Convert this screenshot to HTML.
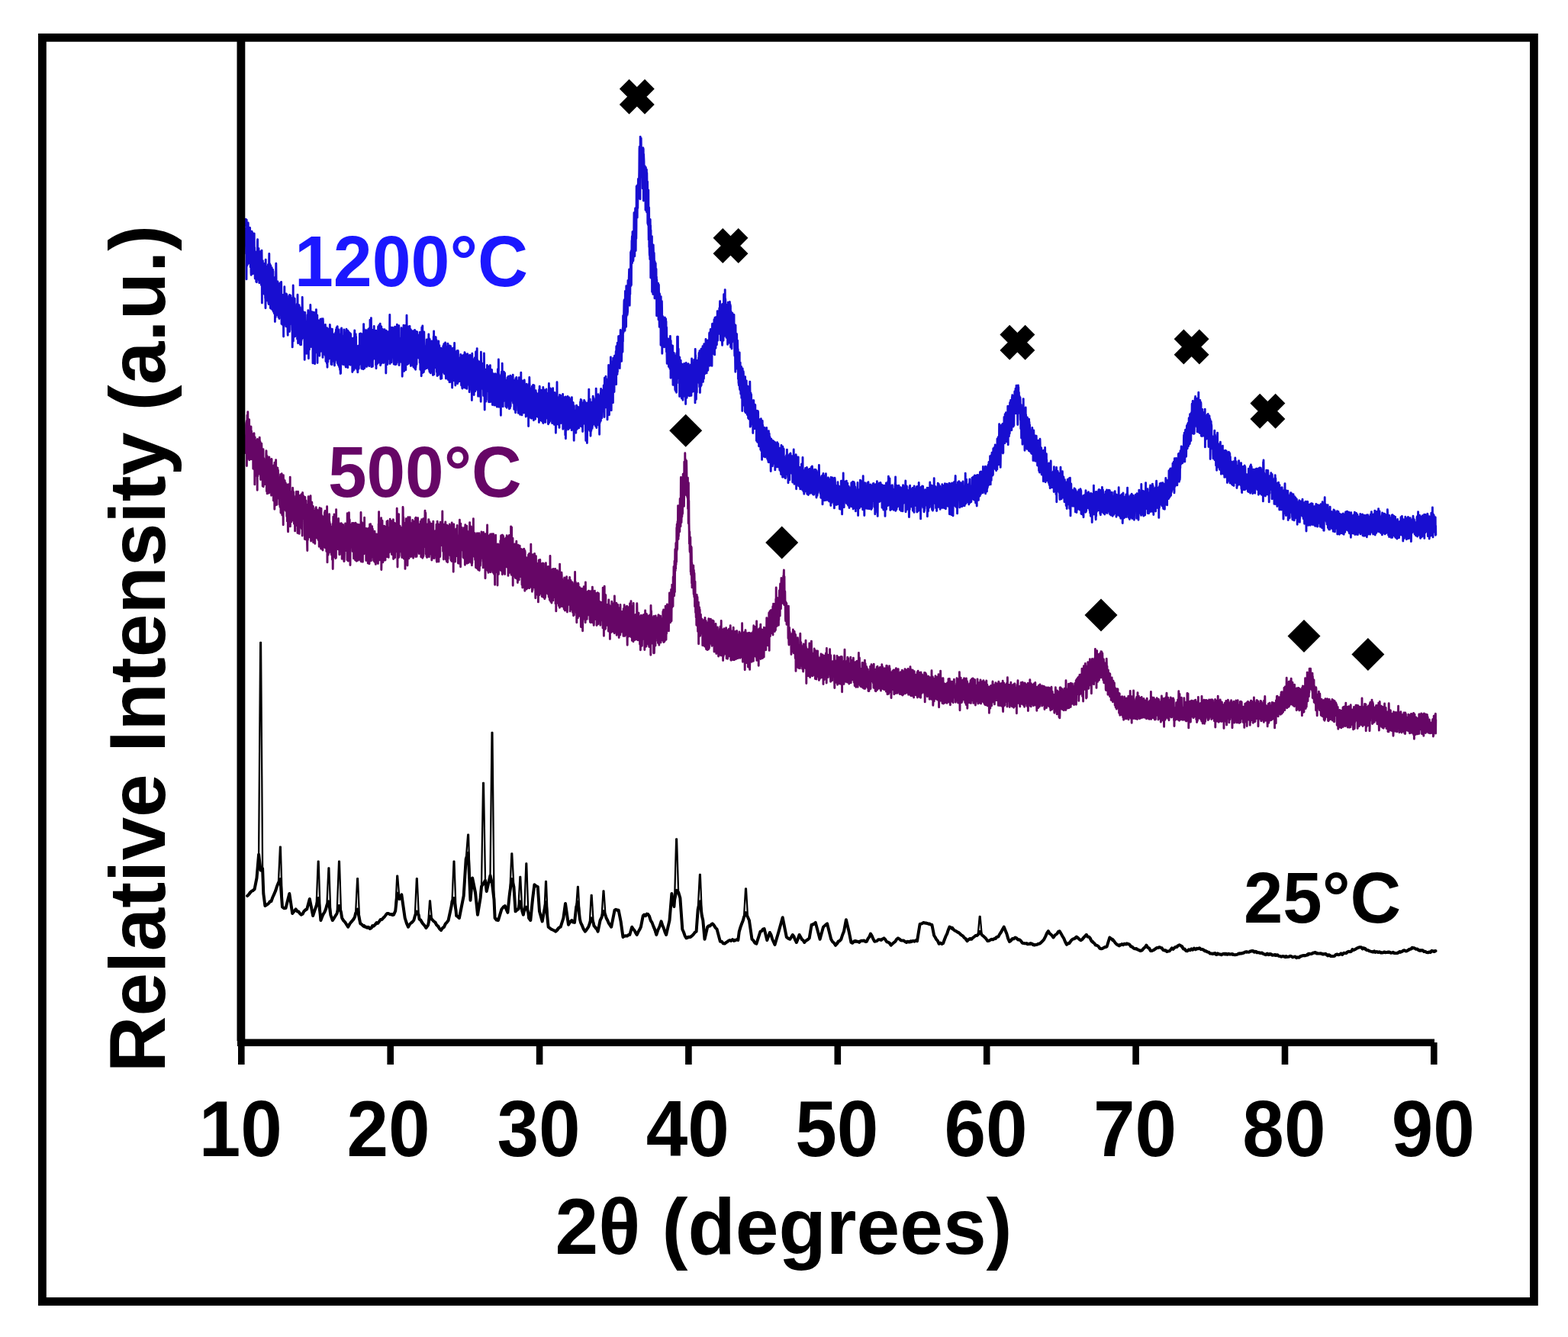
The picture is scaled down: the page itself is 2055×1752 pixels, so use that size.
<!DOCTYPE html>
<html lang="en"><head><meta charset="utf-8"><title>XRD patterns</title>
<style>html,body{margin:0;padding:0;background:#fff}svg{display:block}text{font-family:"Liberation Sans",sans-serif;font-weight:bold}</style></head><body>
<svg width="2055" height="1752" viewBox="0 0 2055 1752">
<rect width="2055" height="1752" fill="#fff"/>
<rect x="55.4" y="49.3" width="1955" height="1656.2" fill="none" stroke="#000" stroke-width="10.8"/>
<path d="M322.0,297.4 322.2,287.1 322.4,315.6 322.6,332.8 322.8,313.5 323.0,365.9 323.2,288.1 323.4,318.9 323.6,348.4 323.8,342.9 324.0,335.4 324.2,296.0 324.4,346.6 324.6,344.6 324.8,300.6 325.0,330.9 325.2,292.0 325.4,298.6 325.6,311.7 325.8,301.9 326.0,340.6 326.2,344.7 326.4,314.8 326.6,313.5 326.8,300.7 327.0,299.2 327.2,339.7 327.4,332.8 327.6,298.5 327.8,325.8 328.0,321.2 328.2,349.9 328.4,342.0 328.6,334.9 328.8,332.1 329.0,357.7 329.2,360.4 329.4,319.5 329.6,313.6 329.8,349.3 330.0,303.1 330.2,322.6 330.4,304.2 330.6,320.4 330.8,305.0 331.0,319.2 331.2,351.2 331.4,358.8 331.6,352.0 331.8,337.8 332.0,341.5 332.2,325.8 332.4,314.0 332.6,331.2 332.8,350.2 333.0,308.3 333.2,306.0 333.4,353.6 333.6,324.3 333.8,349.9 334.0,352.3 334.2,365.1 334.4,332.0 334.6,329.7 334.8,358.2 335.0,355.9 335.2,349.2 335.4,359.5 335.6,349.2 335.8,369.3 336.0,330.5 336.2,356.2 336.4,369.8 336.6,331.6 336.8,349.3 337.0,334.2 337.2,340.6 337.4,316.7 337.6,313.6 337.8,360.2 338.0,341.4 338.2,352.3 338.4,360.0 338.6,340.2 338.8,337.4 339.0,325.4 339.2,364.7 339.4,367.5 339.6,361.7 339.8,370.8 340.0,357.1 340.2,360.4 340.4,329.5 340.6,365.6 340.8,339.0 341.0,345.8 341.2,338.8 341.4,354.6 341.6,360.6 341.8,355.8 342.0,340.2 342.2,334.4 342.4,373.6 342.6,340.4 342.8,349.1 343.0,328.1 343.2,341.4 343.4,397.0 343.6,344.8 343.8,367.7 344.0,384.4 344.2,363.3 344.4,341.7 344.6,365.9 344.8,364.5 345.0,377.1 345.2,359.5 345.4,383.1 345.6,352.9 345.8,345.3 346.0,360.0 346.2,385.2 346.4,373.3 346.6,359.6 346.8,360.2 347.0,369.8 347.2,357.8 347.4,364.5 347.6,390.7 347.8,388.6 348.0,403.7 348.2,340.1 348.4,366.7 348.6,355.4 348.8,389.2 349.0,353.0 349.2,391.0 349.4,349.1 349.6,360.6 349.8,393.9 350.0,372.0 350.2,392.9 350.4,369.3 350.6,350.7 350.8,380.6 351.0,369.3 351.2,368.7 351.4,346.7 351.6,347.5 351.8,395.6 352.0,397.5 352.2,398.5 352.4,362.0 352.6,343.4 352.8,332.4 353.0,386.0 353.2,381.0 353.4,345.4 353.6,356.6 353.8,385.6 354.0,346.6 354.2,394.8 354.4,403.8 354.6,359.4 354.8,348.1 355.0,404.3 355.2,391.8 355.4,373.3 355.6,375.2 355.8,401.8 356.0,368.5 356.2,350.7 356.4,384.8 356.6,367.0 356.8,389.6 357.0,405.9 357.2,371.0 357.4,364.6 357.6,353.3 357.8,400.4 358.0,355.6 358.2,408.3 358.4,393.9 358.6,406.5 358.8,401.0 359.0,364.0 359.2,363.5 359.4,410.7 359.6,371.0 359.8,401.1 360.0,364.4 360.2,372.4 360.4,421.6 360.6,370.0 360.8,400.3 361.0,408.2 361.2,415.8 361.4,374.3 361.6,358.4 361.8,345.2 362.0,361.3 362.2,391.9 362.4,399.0 362.6,392.2 362.8,394.6 363.0,394.6 363.2,412.9 363.4,391.2 363.6,411.1 363.8,381.2 364.0,369.0 364.2,374.1 364.4,408.3 364.6,375.2 364.8,407.6 365.0,415.6 365.2,394.8 365.4,371.4 365.6,400.0 365.8,385.9 366.0,417.5 366.2,377.4 366.4,378.3 366.6,393.3 366.8,394.2 367.0,376.5 367.2,387.8 367.4,405.4 367.6,394.1 367.8,370.3 368.0,391.5 368.2,391.8 368.4,394.0 368.6,369.4 368.8,384.4 369.0,424.4 369.2,420.8 369.4,424.5 369.6,414.1 369.8,395.4 370.0,425.2 370.2,388.2 370.4,405.6 370.6,405.6 370.8,397.3 371.0,386.5 371.2,391.5 371.4,410.1 371.6,441.1 371.8,393.4 372.0,394.2 372.2,392.8 372.4,422.4 372.6,406.3 372.8,375.8 373.0,418.3 373.2,404.6 373.4,421.1 373.6,404.8 373.8,394.5 374.0,425.5 374.2,387.1 374.4,393.5 374.6,405.8 374.8,427.9 375.0,385.0 375.2,398.3 375.4,409.8 375.6,418.6 375.8,385.7 376.0,423.6 376.2,412.5 376.4,410.5 376.6,402.9 376.8,399.4 377.0,433.0 377.2,439.2 377.4,392.3 377.6,394.7 377.8,421.3 378.0,427.1 378.2,430.7 378.4,400.8 378.6,395.6 378.8,387.9 379.0,405.6 379.2,416.5 379.4,434.5 379.6,386.4 379.8,389.8 380.0,422.4 380.2,423.6 380.4,392.3 380.6,390.9 380.8,387.1 381.0,423.0 381.2,402.0 381.4,399.9 381.6,424.4 381.8,393.4 382.0,417.4 382.2,392.0 382.4,390.7 382.6,425.5 382.8,432.7 383.0,414.0 383.2,454.9 383.4,428.0 383.6,392.4 383.8,404.1 384.0,440.2 384.2,373.9 384.4,447.0 384.6,389.1 384.8,433.0 385.0,415.1 385.2,433.0 385.4,426.4 385.6,415.4 385.8,430.5 386.0,424.7 386.2,391.2 386.4,417.1 386.6,441.0 386.8,435.4 387.0,428.4 387.2,426.6 387.4,437.9 387.6,408.1 387.8,414.2 388.0,427.8 388.2,438.9 388.4,410.6 388.6,402.0 388.8,408.1 389.0,417.8 389.2,398.5 389.4,428.9 389.6,444.3 389.8,412.9 390.0,386.2 390.2,417.7 390.4,424.5 390.6,449.7 390.8,434.7 391.0,423.3 391.2,437.6 391.4,421.8 391.6,436.0 391.8,407.9 392.0,399.8 392.2,429.6 392.4,425.5 392.6,422.1 392.8,402.8 393.0,449.3 393.2,402.8 393.4,451.5 393.6,414.8 393.8,413.0 394.0,450.4 394.2,451.7 394.4,437.2 394.6,451.8 394.8,407.8 395.0,446.5 395.2,433.2 395.4,415.1 395.6,432.3 395.8,404.9 396.0,443.7 396.2,389.5 396.4,405.3 396.6,411.9 396.8,416.1 397.0,426.6 397.2,413.0 397.4,416.9 397.6,431.4 397.8,408.7 398.0,443.0 398.2,426.1 398.4,423.7 398.6,433.2 398.8,409.9 399.0,451.4 399.2,471.4 399.4,432.2 399.6,455.9 399.8,409.5 400.0,441.1 400.2,456.8 400.4,458.1 400.6,421.7 400.8,437.5 401.0,455.4 401.2,437.6 401.4,451.7 401.6,442.0 401.8,463.4 402.0,422.4 402.2,453.4 402.4,429.6 402.6,427.8 402.8,420.6 403.0,412.6 403.2,441.3 403.4,426.1 403.6,453.5 403.8,406.6 404.0,453.3 404.2,409.6 404.4,469.8 404.6,430.3 404.8,446.3 405.0,430.2 405.2,413.9 405.4,458.3 405.6,441.3 405.8,417.4 406.0,438.9 406.2,417.4 406.4,428.3 406.6,439.2 406.8,399.4 407.0,412.2 407.2,417.0 407.4,432.0 407.6,435.4 407.8,454.6 408.0,439.0 408.2,452.3 408.4,427.7 408.6,417.6 408.8,422.9 409.0,408.8 409.2,427.8 409.4,443.1 409.6,454.8 409.8,421.0 410.0,475.9 410.2,450.1 410.4,446.8 410.6,462.1 410.8,440.9 411.0,433.4 411.2,438.7 411.4,409.1 411.6,409.4 411.8,436.6 412.0,430.2 412.2,416.9 412.4,429.2 412.6,476.8 412.8,438.9 413.0,432.0 413.2,452.9 413.4,413.1 413.6,459.6 413.8,448.2 414.0,433.8 414.2,449.1 414.4,405.6 414.6,447.3 414.8,448.2 415.0,450.2 415.2,462.1 415.4,460.8 415.6,427.0 415.8,412.9 416.0,475.5 416.2,432.1 416.4,425.7 416.6,437.5 416.8,464.3 417.0,422.9 417.2,433.7 417.4,458.8 417.6,420.0 417.8,432.4 418.0,443.5 418.2,455.8 418.4,461.0 418.6,427.6 418.8,466.3 419.0,437.7 419.2,421.0 419.4,422.7 419.6,438.2 419.8,459.1 420.0,418.1 420.2,426.4 420.4,458.9 420.6,460.2 420.8,425.8 421.0,418.0 421.2,451.2 421.4,459.0 421.6,418.0 421.8,444.3 422.0,423.3 422.2,448.8 422.4,422.0 422.6,423.2 422.8,445.9 423.0,468.4 423.2,417.8 423.4,421.9 423.6,427.7 423.8,461.6 424.0,430.0 424.2,431.9 424.4,440.7 424.6,464.4 424.8,432.7 425.0,443.4 425.2,443.7 425.4,445.2 425.6,442.3 425.8,462.3 426.0,429.0 426.2,445.9 426.4,425.5 426.6,466.4 426.8,441.9 427.0,473.6 427.2,455.3 427.4,430.1 427.6,469.9 427.8,435.3 428.0,454.4 428.2,461.5 428.4,476.3 428.6,429.8 428.8,443.2 429.0,481.3 429.2,437.4 429.4,435.0 429.6,440.1 429.8,474.3 430.0,445.7 430.2,445.8 430.4,434.5 430.6,431.3 430.8,435.2 431.0,469.7 431.2,469.9 431.4,430.8 431.6,443.3 431.8,453.5 432.0,452.1 432.2,433.0 432.4,425.4 432.6,465.8 432.8,429.4 433.0,444.2 433.2,464.3 433.4,460.2 433.6,445.2 433.8,466.7 434.0,477.4 434.2,449.4 434.4,471.7 434.6,451.9 434.8,444.8 435.0,477.8 435.2,466.0 435.4,431.3 435.6,453.6 435.8,444.9 436.0,451.4 436.2,465.7 436.4,443.0 436.6,457.4 436.8,437.7 437.0,449.0 437.2,473.4 437.4,465.1 437.6,444.8 437.8,440.2 438.0,458.0 438.2,451.1 438.4,479.1 438.6,441.5 438.8,475.6 439.0,438.3 439.2,469.3 439.4,472.8 439.6,436.0 439.8,450.0 440.0,464.6 440.2,448.4 440.4,431.9 440.6,467.9 440.8,452.7 441.0,436.3 441.2,429.1 441.4,454.8 441.6,442.4 441.8,470.8 442.0,435.2 442.2,427.6 442.4,476.2 442.6,449.6 442.8,473.4 443.0,458.0 443.2,475.0 443.4,478.2 443.6,431.8 443.8,442.5 444.0,437.3 444.2,479.5 444.4,465.3 444.6,477.9 444.8,481.2 445.0,470.8 445.2,475.3 445.4,479.0 445.6,484.7 445.8,472.6 446.0,481.1 446.2,489.6 446.4,440.0 446.6,489.3 446.8,431.4 447.0,445.3 447.2,449.0 447.4,472.3 447.6,430.0 447.8,446.3 448.0,445.5 448.2,464.9 448.4,476.5 448.6,455.2 448.8,475.0 449.0,452.1 449.2,456.6 449.4,446.8 449.6,440.1 449.8,477.8 450.0,462.3 450.2,444.2 450.4,459.0 450.6,451.8 450.8,431.9 451.0,467.7 451.2,477.1 451.4,463.1 451.6,438.2 451.8,453.0 452.0,441.4 452.2,439.7 452.4,446.5 452.6,479.1 452.8,476.3 453.0,473.7 453.2,481.0 453.4,436.7 453.6,442.8 453.8,433.4 454.0,431.3 454.2,465.9 454.4,453.4 454.6,461.9 454.8,478.4 455.0,447.0 455.2,444.8 455.4,476.0 455.6,433.1 455.8,481.8 456.0,450.6 456.2,433.7 456.4,443.7 456.6,436.5 456.8,477.8 457.0,435.2 457.2,435.2 457.4,465.6 457.6,443.8 457.8,450.6 458.0,475.1 458.2,455.6 458.4,472.1 458.6,448.0 458.8,440.0 459.0,436.7 459.2,478.3 459.4,439.7 459.6,437.4 459.8,441.8 460.0,461.5 460.2,470.5 460.4,460.1 460.6,467.1 460.8,460.5 461.0,473.9 461.2,466.3 461.4,443.4 461.6,452.1 461.8,487.5 462.0,458.3 462.2,470.7 462.4,443.5 462.6,470.7 462.8,472.0 463.0,443.1 463.2,485.2 463.4,455.9 463.6,453.3 463.8,471.3 464.0,484.4 464.2,480.0 464.4,465.2 464.6,438.0 464.8,432.9 465.0,468.6 465.2,480.3 465.4,446.3 465.6,460.4 465.8,469.8 466.0,472.3 466.2,437.7 466.4,482.2 466.6,441.2 466.8,480.9 467.0,481.4 467.2,467.8 467.4,463.9 467.6,453.5 467.8,455.6 468.0,484.2 468.2,469.9 468.4,459.5 468.6,453.7 468.8,487.9 469.0,484.6 469.2,484.0 469.4,484.0 469.6,453.3 469.8,478.9 470.0,471.0 470.2,483.0 470.4,473.4 470.6,478.6 470.8,476.8 471.0,464.8 471.2,471.1 471.4,437.5 471.6,454.1 471.8,476.7 472.0,438.3 472.2,451.0 472.4,466.9 472.6,457.3 472.8,436.9 473.0,442.2 473.2,468.8 473.4,462.4 473.6,464.5 473.8,481.6 474.0,483.0 474.2,448.4 474.4,480.2 474.6,460.7 474.8,467.0 475.0,437.7 475.2,453.9 475.4,483.4 475.6,482.8 475.8,454.4 476.0,445.2 476.2,483.7 476.4,458.9 476.6,424.6 476.8,433.6 477.0,463.7 477.2,446.8 477.4,431.7 477.6,457.8 477.8,482.6 478.0,456.1 478.2,442.7 478.4,468.9 478.6,478.4 478.8,472.1 479.0,444.5 479.2,473.0 479.4,472.9 479.6,455.6 479.8,471.5 480.0,432.6 480.2,441.7 480.4,451.4 480.6,480.6 480.8,468.0 481.0,466.5 481.2,474.8 481.4,469.3 481.6,433.5 481.8,478.3 482.0,471.2 482.2,441.6 482.4,462.0 482.6,454.2 482.8,431.2 483.0,473.1 483.2,448.2 483.4,463.5 483.6,473.9 483.8,479.8 484.0,457.8 484.2,453.5 484.4,429.7 484.6,435.2 484.8,468.4 485.0,419.1 485.2,457.5 485.4,437.8 485.6,471.8 485.8,440.1 486.0,470.4 486.2,452.7 486.4,416.6 486.6,447.9 486.8,480.7 487.0,455.6 487.2,450.3 487.4,450.7 487.6,444.6 487.8,464.5 488.0,437.4 488.2,436.2 488.4,480.2 488.6,439.2 488.8,471.7 489.0,432.1 489.2,459.9 489.4,433.2 489.6,447.0 489.8,445.5 490.0,460.6 490.2,427.4 490.4,442.2 490.6,468.5 490.8,468.3 491.0,469.9 491.2,458.3 491.4,467.9 491.6,450.4 491.8,443.8 492.0,470.8 492.2,448.2 492.4,433.7 492.6,478.4 492.8,433.3 493.0,482.7 493.2,437.6 493.4,472.9 493.6,460.1 493.8,477.4 494.0,458.8 494.2,471.8 494.4,452.8 494.6,474.3 494.8,448.0 495.0,476.3 495.2,460.9 495.4,475.8 495.6,427.9 495.8,445.5 496.0,474.7 496.2,440.1 496.4,455.1 496.6,448.3 496.8,425.9 497.0,427.6 497.2,452.1 497.4,445.9 497.6,473.7 497.8,443.1 498.0,433.8 498.2,424.1 498.4,447.6 498.6,478.8 498.8,474.0 499.0,454.2 499.2,453.4 499.4,458.9 499.6,465.5 499.8,428.0 500.0,476.1 500.2,472.6 500.4,450.3 500.6,443.2 500.8,453.7 501.0,452.2 501.2,442.0 501.4,431.5 501.6,464.2 501.8,473.2 502.0,460.0 502.2,440.4 502.4,448.3 502.6,434.7 502.8,475.6 503.0,438.1 503.2,443.6 503.4,459.7 503.6,464.5 503.8,448.9 504.0,431.8 504.2,446.6 504.4,468.8 504.6,439.4 504.8,446.4 505.0,439.0 505.2,444.2 505.4,442.3 505.6,450.1 505.8,489.0 506.0,468.5 506.2,433.3 506.4,436.8 506.6,442.6 506.8,461.0 507.0,464.0 507.2,463.9 507.4,435.5 507.6,435.9 507.8,477.6 508.0,455.7 508.2,465.2 508.4,434.7 508.6,457.3 508.8,439.5 509.0,450.0 509.2,447.7 509.4,470.4 509.6,443.0 509.8,463.7 510.0,440.1 510.2,456.4 510.4,470.0 510.6,435.9 510.8,412.4 511.0,476.6 511.2,468.3 511.4,471.4 511.6,455.9 511.8,443.4 512.0,430.7 512.2,470.3 512.4,429.2 512.6,473.9 512.8,473.7 513.0,474.8 513.2,465.4 513.4,458.9 513.6,444.0 513.8,468.2 514.0,454.4 514.2,450.7 514.4,430.1 514.6,429.2 514.8,459.7 515.0,430.4 515.2,461.2 515.4,446.7 515.6,429.9 515.8,453.6 516.0,466.2 516.2,477.1 516.4,436.6 516.6,444.5 516.8,449.6 517.0,449.7 517.2,436.0 517.4,441.2 517.6,428.1 517.8,454.5 518.0,477.8 518.2,430.1 518.4,462.7 518.6,452.2 518.8,441.3 519.0,441.6 519.2,477.4 519.4,429.4 519.6,455.7 519.8,452.9 520.0,475.2 520.2,434.7 520.4,425.3 520.6,472.1 520.8,441.5 521.0,446.1 521.2,430.3 521.4,436.2 521.6,436.2 521.8,461.1 522.0,431.3 522.2,434.4 522.4,445.9 522.6,445.9 522.8,426.7 523.0,478.6 523.2,470.1 523.4,466.7 523.6,462.5 523.8,445.8 524.0,460.7 524.2,470.1 524.4,463.5 524.6,472.6 524.8,466.8 525.0,464.3 525.2,474.2 525.4,467.8 525.6,442.6 525.8,452.1 526.0,429.7 526.2,447.4 526.4,459.5 526.6,436.5 526.8,456.2 527.0,442.9 527.2,493.2 527.4,444.4 527.6,457.2 527.8,450.2 528.0,449.1 528.2,467.2 528.4,460.0 528.6,456.9 528.8,431.2 529.0,426.1 529.2,445.4 529.4,431.7 529.6,486.4 529.8,471.8 530.0,465.4 530.2,449.4 530.4,470.9 530.6,464.3 530.8,453.7 531.0,458.3 531.2,435.3 531.4,426.5 531.6,475.6 531.8,484.8 532.0,453.2 532.2,457.1 532.4,468.6 532.6,431.0 532.8,464.9 533.0,413.2 533.2,438.6 533.4,456.5 533.6,469.6 533.8,477.5 534.0,448.4 534.2,434.3 534.4,465.7 534.6,459.6 534.8,453.1 535.0,447.6 535.2,427.9 535.4,476.6 535.6,447.3 535.8,429.1 536.0,432.3 536.2,458.9 536.4,428.8 536.6,468.5 536.8,467.4 537.0,427.4 537.2,462.2 537.4,443.9 537.6,443.2 537.8,474.0 538.0,431.4 538.2,450.3 538.4,479.6 538.6,432.5 538.8,460.8 539.0,441.9 539.2,440.5 539.4,446.4 539.6,466.9 539.8,451.0 540.0,467.1 540.2,478.3 540.4,478.0 540.6,457.6 540.8,442.5 541.0,463.0 541.2,433.8 541.4,447.5 541.6,445.4 541.8,480.7 542.0,459.5 542.2,450.5 542.4,444.6 542.6,458.1 542.8,458.2 543.0,476.1 543.2,456.6 543.4,482.5 543.6,432.5 543.8,462.8 544.0,452.9 544.2,446.5 544.4,456.5 544.6,484.2 544.8,451.8 545.0,481.2 545.2,459.2 545.4,451.7 545.6,434.5 545.8,435.4 546.0,477.5 546.2,438.0 546.4,446.5 546.6,451.0 546.8,434.9 547.0,442.2 547.2,443.4 547.4,454.4 547.6,438.8 547.8,464.4 548.0,456.8 548.2,469.0 548.4,442.6 548.6,444.8 548.8,456.6 549.0,453.5 549.2,449.6 549.4,439.6 549.6,459.1 549.8,452.3 550.0,452.8 550.2,475.4 550.4,435.3 550.6,442.9 550.8,484.3 551.0,451.4 551.2,436.2 551.4,445.3 551.6,437.0 551.8,485.7 552.0,449.7 552.2,492.7 552.4,438.8 552.6,477.7 552.8,429.0 553.0,482.1 553.2,454.5 553.4,456.4 553.6,462.0 553.8,426.9 554.0,488.5 554.2,447.5 554.4,464.1 554.6,485.1 554.8,464.3 555.0,457.9 555.2,438.3 555.4,487.5 555.6,435.7 555.8,435.0 556.0,452.7 556.2,484.4 556.4,453.5 556.6,484.0 556.8,481.7 557.0,453.9 557.2,465.4 557.4,455.5 557.6,482.2 557.8,472.6 558.0,472.5 558.2,468.4 558.4,469.3 558.6,473.6 558.8,482.7 559.0,451.7 559.2,444.9 559.4,454.0 559.6,478.3 559.8,482.2 560.0,458.2 560.2,466.1 560.4,479.3 560.6,477.7 560.8,478.2 561.0,464.9 561.2,472.2 561.4,444.0 561.6,465.1 561.8,437.9 562.0,461.6 562.2,442.9 562.4,484.6 562.6,482.3 562.8,469.3 563.0,487.2 563.2,444.5 563.4,474.9 563.6,460.0 563.8,475.9 564.0,479.2 564.2,488.0 564.4,488.9 564.6,467.2 564.8,487.3 565.0,461.1 565.2,477.1 565.4,466.9 565.6,484.7 565.8,446.9 566.0,479.4 566.2,484.3 566.4,477.5 566.6,447.7 566.8,473.4 567.0,483.4 567.2,448.6 567.4,491.5 567.6,456.0 567.8,448.5 568.0,473.5 568.2,440.9 568.4,471.8 568.6,433.9 568.8,490.7 569.0,455.6 569.2,465.9 569.4,441.2 569.6,463.4 569.8,474.3 570.0,449.7 570.2,458.6 570.4,479.9 570.6,463.0 570.8,453.9 571.0,448.6 571.2,441.8 571.4,482.1 571.6,465.5 571.8,456.5 572.0,445.8 572.2,479.4 572.4,487.6 572.6,458.9 572.8,464.4 573.0,492.6 573.2,456.7 573.4,462.5 573.6,463.9 573.8,473.9 574.0,462.7 574.2,491.7 574.4,483.9 574.6,457.3 574.8,447.0 575.0,490.4 575.2,482.8 575.4,462.0 575.6,478.4 575.8,452.6 576.0,461.7 576.2,481.1 576.4,472.7 576.6,476.6 576.8,472.8 577.0,466.3 577.2,469.2 577.4,480.6 577.6,496.5 577.8,456.1 578.0,494.1 578.2,460.9 578.4,472.1 578.6,460.4 578.8,495.9 579.0,481.4 579.2,462.0 579.4,488.7 579.6,476.5 579.8,474.2 580.0,468.8 580.2,468.6 580.4,486.7 580.6,456.9 580.8,453.4 581.0,480.9 581.2,463.3 581.4,458.3 581.6,457.2 581.8,450.8 582.0,468.1 582.2,481.8 582.4,489.8 582.6,463.6 582.8,449.9 583.0,458.6 583.2,453.7 583.4,468.5 583.6,449.0 583.8,487.0 584.0,477.5 584.2,488.6 584.4,496.0 584.6,494.7 584.8,463.5 585.0,454.4 585.2,467.7 585.4,493.8 585.6,494.7 585.8,481.1 586.0,467.3 586.2,479.4 586.4,461.7 586.6,454.8 586.8,450.2 587.0,450.8 587.2,497.5 587.4,479.4 587.6,470.2 587.8,492.4 588.0,480.2 588.2,457.1 588.4,486.7 588.6,473.1 588.8,482.7 589.0,500.8 589.2,453.0 589.4,499.7 589.6,460.1 589.8,456.1 590.0,467.9 590.2,492.9 590.4,467.3 590.6,453.7 590.8,490.3 591.0,484.3 591.2,490.5 591.4,491.1 591.6,501.0 591.8,468.9 592.0,495.8 592.2,475.6 592.4,477.6 592.6,508.1 592.8,498.7 593.0,485.7 593.2,472.8 593.4,456.2 593.6,466.0 593.8,471.3 594.0,486.3 594.2,495.2 594.4,472.5 594.6,468.8 594.8,455.9 595.0,498.7 595.2,464.8 595.4,496.1 595.6,449.4 595.8,471.9 596.0,465.6 596.2,460.6 596.4,464.6 596.6,494.8 596.8,505.0 597.0,488.6 597.2,467.5 597.4,495.6 597.6,486.7 597.8,498.3 598.0,482.6 598.2,492.0 598.4,464.9 598.6,465.1 598.8,459.7 599.0,500.9 599.2,482.2 599.4,462.4 599.6,502.8 599.8,481.2 600.0,464.9 600.2,459.4 600.4,460.5 600.6,485.4 600.8,475.6 601.0,500.2 601.2,497.0 601.4,485.6 601.6,475.6 601.8,496.1 602.0,499.3 602.2,482.0 602.4,492.3 602.6,499.6 602.8,477.3 603.0,486.1 603.2,468.7 603.4,480.8 603.6,472.1 603.8,464.5 604.0,500.1 604.2,490.6 604.4,491.2 604.6,505.1 604.8,500.5 605.0,479.8 605.2,473.4 605.4,486.2 605.6,504.3 605.8,508.7 606.0,509.0 606.2,480.3 606.4,488.8 606.6,465.6 606.8,482.5 607.0,499.9 607.2,468.2 607.4,466.6 607.6,477.3 607.8,469.5 608.0,469.0 608.2,464.9 608.4,480.3 608.6,468.4 608.8,508.1 609.0,461.7 609.2,462.2 609.4,474.3 609.6,506.0 609.8,505.4 610.0,474.9 610.2,464.0 610.4,499.7 610.6,475.2 610.8,508.8 611.0,482.5 611.2,486.5 611.4,471.3 611.6,503.8 611.8,509.4 612.0,505.1 612.2,501.9 612.4,482.6 612.6,466.4 612.8,463.8 613.0,490.5 613.2,504.1 613.4,471.7 613.6,483.0 613.8,485.0 614.0,497.3 614.2,467.1 614.4,466.1 614.6,472.5 614.8,491.4 615.0,485.9 615.2,513.7 615.4,490.9 615.6,509.9 615.8,473.7 616.0,465.3 616.2,508.0 616.4,487.7 616.6,469.6 616.8,494.1 617.0,494.1 617.2,478.7 617.4,510.4 617.6,507.7 617.8,488.6 618.0,477.4 618.2,480.5 618.4,524.6 618.6,486.4 618.8,463.3 619.0,474.0 619.2,496.5 619.4,516.3 619.6,512.1 619.8,486.5 620.0,479.5 620.2,496.1 620.4,495.4 620.6,505.6 620.8,470.9 621.0,503.3 621.2,517.6 621.4,475.9 621.6,488.5 621.8,492.2 622.0,512.1 622.2,474.7 622.4,468.6 622.6,484.7 622.8,512.7 623.0,480.2 623.2,476.4 623.4,504.7 623.6,460.9 623.8,503.9 624.0,492.3 624.2,490.8 624.4,510.4 624.6,488.3 624.8,493.7 625.0,482.7 625.2,456.6 625.4,510.1 625.6,508.0 625.8,471.8 626.0,492.0 626.2,494.9 626.4,495.9 626.6,519.3 626.8,478.4 627.0,502.3 627.2,508.6 627.4,490.2 627.6,483.6 627.8,473.8 628.0,508.4 628.2,487.3 628.4,492.6 628.6,486.2 628.8,488.0 629.0,519.6 629.2,504.9 629.4,515.9 629.6,493.5 629.8,511.9 630.0,515.0 630.2,526.2 630.4,461.2 630.6,477.3 630.8,501.3 631.0,492.1 631.2,508.6 631.4,487.8 631.6,504.7 631.8,507.9 632.0,476.1 632.2,503.1 632.4,499.9 632.6,491.5 632.8,480.6 633.0,478.9 633.2,510.6 633.4,496.8 633.6,518.6 633.8,488.1 634.0,514.7 634.2,482.1 634.4,462.9 634.6,478.1 634.8,516.8 635.0,518.8 635.2,537.0 635.4,491.9 635.6,516.7 635.8,497.7 636.0,483.9 636.2,503.5 636.4,503.1 636.6,513.5 636.8,512.9 637.0,526.0 637.2,487.1 637.4,523.9 637.6,491.4 637.8,512.5 638.0,501.0 638.2,500.2 638.4,478.4 638.6,490.9 638.8,505.9 639.0,483.7 639.2,496.6 639.4,492.9 639.6,503.4 639.8,487.2 640.0,512.6 640.2,495.4 640.4,480.2 640.6,526.7 640.8,516.2 641.0,515.4 641.2,520.0 641.4,485.4 641.6,485.3 641.8,480.6 642.0,491.3 642.2,515.8 642.4,478.6 642.6,526.8 642.8,502.8 643.0,521.0 643.2,508.2 643.4,506.6 643.6,498.8 643.8,512.7 644.0,500.4 644.2,521.0 644.4,493.3 644.6,484.5 644.8,508.5 645.0,488.3 645.2,489.4 645.4,530.5 645.6,519.0 645.8,497.0 646.0,501.5 646.2,506.4 646.4,495.1 646.6,495.8 646.8,492.6 647.0,492.2 647.2,490.0 647.4,524.9 647.6,519.7 647.8,531.0 648.0,513.1 648.2,490.7 648.4,507.0 648.6,527.6 648.8,513.0 649.0,523.3 649.2,494.8 649.4,489.7 649.6,531.1 649.8,507.5 650.0,527.3 650.2,511.2 650.4,499.0 650.6,518.4 650.8,506.5 651.0,490.8 651.2,522.3 651.4,533.1 651.6,525.7 651.8,517.0 652.0,522.6 652.2,523.4 652.4,483.8 652.6,529.0 652.8,485.3 653.0,487.2 653.2,515.8 653.4,471.0 653.6,521.8 653.8,533.2 654.0,520.3 654.2,490.8 654.4,498.1 654.6,523.5 654.8,514.5 655.0,508.7 655.2,498.1 655.4,492.7 655.6,500.9 655.8,503.0 656.0,499.6 656.2,523.7 656.4,544.3 656.6,498.0 656.8,510.4 657.0,507.0 657.2,507.2 657.4,487.1 657.6,508.1 657.8,525.3 658.0,530.1 658.2,476.2 658.4,502.5 658.6,517.2 658.8,503.7 659.0,508.5 659.2,532.8 659.4,510.9 659.6,518.8 659.8,508.6 660.0,517.0 660.2,513.8 660.4,487.2 660.6,497.9 660.8,521.2 661.0,511.7 661.2,525.4 661.4,494.1 661.6,488.7 661.8,519.4 662.0,515.7 662.2,516.9 662.4,525.7 662.6,498.3 662.8,532.8 663.0,530.4 663.2,531.4 663.4,525.3 663.6,499.7 663.8,529.1 664.0,533.8 664.2,534.2 664.4,531.0 664.6,525.1 664.8,497.8 665.0,494.8 665.2,513.9 665.4,531.6 665.6,513.0 665.8,513.1 666.0,522.3 666.2,493.3 666.4,509.6 666.6,504.2 666.8,500.6 667.0,498.8 667.2,527.8 667.4,535.7 667.6,525.3 667.8,534.8 668.0,513.5 668.2,505.0 668.4,535.1 668.6,501.5 668.8,492.2 669.0,516.6 669.2,532.6 669.4,511.2 669.6,507.7 669.8,519.2 670.0,508.5 670.2,517.3 670.4,504.6 670.6,495.3 670.8,517.9 671.0,525.0 671.2,525.1 671.4,518.0 671.6,493.0 671.8,524.0 672.0,500.9 672.2,491.1 672.4,512.1 672.6,528.3 672.8,508.4 673.0,510.1 673.2,524.7 673.4,515.6 673.6,516.1 673.8,536.4 674.0,507.6 674.2,521.2 674.4,498.1 674.6,528.9 674.8,508.8 675.0,526.4 675.2,520.6 675.4,536.0 675.6,540.7 675.8,495.8 676.0,537.9 676.2,516.6 676.4,530.8 676.6,515.1 676.8,494.4 677.0,529.7 677.2,509.5 677.4,516.1 677.6,523.2 677.8,523.8 678.0,530.4 678.2,522.0 678.4,503.3 678.6,529.0 678.8,498.8 679.0,535.8 679.2,541.3 679.4,532.7 679.6,515.1 679.8,512.4 680.0,537.3 680.2,494.7 680.4,537.9 680.6,507.4 680.8,512.2 681.0,508.7 681.2,513.7 681.4,529.8 681.6,543.3 681.8,514.5 682.0,505.9 682.2,509.0 682.4,524.1 682.6,529.2 682.8,488.3 683.0,524.5 683.2,529.8 683.4,527.1 683.6,538.1 683.8,527.7 684.0,543.9 684.2,527.4 684.4,533.0 684.6,498.9 684.8,535.2 685.0,533.8 685.2,517.7 685.4,504.3 685.6,502.7 685.8,510.8 686.0,532.0 686.2,521.1 686.4,523.3 686.6,541.0 686.8,535.8 687.0,525.1 687.2,498.0 687.4,500.8 687.6,526.8 687.8,506.9 688.0,526.3 688.2,526.1 688.4,532.1 688.6,538.5 688.8,519.3 689.0,514.3 689.2,546.1 689.4,519.1 689.6,517.2 689.8,524.2 690.0,532.5 690.2,503.3 690.4,517.4 690.6,504.2 690.8,535.0 691.0,543.3 691.2,544.8 691.4,528.5 691.6,519.4 691.8,541.0 692.0,515.5 692.2,511.3 692.4,510.9 692.6,558.5 692.8,507.4 693.0,544.1 693.2,522.1 693.4,502.7 693.6,520.0 693.8,494.4 694.0,502.3 694.2,505.6 694.4,540.5 694.6,522.7 694.8,544.8 695.0,508.6 695.2,518.8 695.4,547.5 695.6,529.9 695.8,545.9 696.0,544.2 696.2,530.2 696.4,535.9 696.6,548.3 696.8,514.7 697.0,542.4 697.2,544.8 697.4,506.2 697.6,519.4 697.8,527.5 698.0,539.8 698.2,524.2 698.4,527.2 698.6,504.5 698.8,511.6 699.0,521.3 699.2,526.8 699.4,550.8 699.6,518.8 699.8,539.5 700.0,505.0 700.2,530.7 700.4,542.8 700.6,520.5 700.8,515.5 701.0,515.3 701.2,528.4 701.4,533.4 701.6,549.3 701.8,519.5 702.0,534.7 702.2,511.7 702.4,522.8 702.6,513.9 702.8,541.8 703.0,523.5 703.2,537.7 703.4,532.0 703.6,525.1 703.8,538.9 704.0,515.7 704.2,545.9 704.4,542.7 704.6,522.3 704.8,530.7 705.0,543.6 705.2,544.4 705.4,546.7 705.6,546.2 705.8,544.9 706.0,538.5 706.2,515.2 706.4,553.6 706.6,510.8 706.8,516.8 707.0,522.4 707.2,506.2 707.4,518.5 707.6,551.0 707.8,519.6 708.0,538.1 708.2,547.7 708.4,511.0 708.6,538.9 708.8,541.0 709.0,550.4 709.2,511.3 709.4,537.9 709.6,534.5 709.8,539.7 710.0,533.5 710.2,551.7 710.4,548.7 710.6,525.2 710.8,525.9 711.0,517.0 711.2,550.1 711.4,520.9 711.6,554.1 711.8,507.4 712.0,554.6 712.2,521.5 712.4,518.2 712.6,510.3 712.8,545.0 713.0,528.2 713.2,535.2 713.4,526.9 713.6,549.2 713.8,537.4 714.0,546.8 714.2,523.8 714.4,545.3 714.6,513.3 714.8,553.4 715.0,511.1 715.2,536.1 715.4,519.8 715.6,522.2 715.8,532.5 716.0,509.9 716.2,524.6 716.4,520.4 716.6,545.8 716.8,547.7 717.0,534.4 717.2,539.6 717.4,528.8 717.6,515.8 717.8,548.8 718.0,527.1 718.2,528.4 718.4,555.2 718.6,555.7 718.8,524.5 719.0,548.8 719.2,546.7 719.4,502.4 719.6,536.3 719.8,553.8 720.0,528.7 720.2,529.8 720.4,531.8 720.6,552.1 720.8,514.9 721.0,516.4 721.2,537.2 721.4,509.0 721.6,542.5 721.8,532.0 722.0,547.4 722.2,516.3 722.4,535.3 722.6,540.0 722.8,518.1 723.0,523.5 723.2,525.6 723.4,541.5 723.6,554.5 723.8,510.2 724.0,543.0 724.2,538.6 724.4,553.8 724.6,508.6 724.8,548.2 725.0,534.8 725.2,514.9 725.4,541.9 725.6,543.2 725.8,555.3 726.0,518.8 726.2,515.1 726.4,556.4 726.6,524.7 726.8,526.9 727.0,514.4 727.2,526.6 727.4,523.1 727.6,526.0 727.8,537.7 728.0,517.8 728.2,516.8 728.4,567.3 728.6,558.2 728.8,547.3 729.0,530.2 729.2,523.0 729.4,550.2 729.6,553.9 729.8,539.8 730.0,500.8 730.2,523.2 730.4,555.2 730.6,524.5 730.8,534.0 731.0,542.7 731.2,556.1 731.4,522.6 731.6,555.1 731.8,551.2 732.0,521.0 732.2,532.3 732.4,556.7 732.6,544.0 732.8,525.5 733.0,560.4 733.2,538.6 733.4,534.6 733.6,517.5 733.8,519.6 734.0,535.7 734.2,538.6 734.4,553.3 734.6,518.1 734.8,541.7 735.0,525.9 735.2,554.5 735.4,539.6 735.6,552.9 735.8,535.3 736.0,542.8 736.2,524.9 736.4,522.7 736.6,524.0 736.8,536.5 737.0,528.5 737.2,533.7 737.4,550.9 737.6,516.4 737.8,562.2 738.0,561.2 738.2,528.4 738.4,554.4 738.6,521.8 738.8,545.3 739.0,522.1 739.2,533.1 739.4,560.1 739.6,543.6 739.8,536.0 740.0,521.0 740.2,525.4 740.4,557.6 740.6,520.1 740.8,570.2 741.0,563.5 741.2,520.0 741.4,574.8 741.6,540.9 741.8,528.9 742.0,564.4 742.2,562.8 742.4,561.9 742.6,528.1 742.8,558.9 743.0,544.8 743.2,537.8 743.4,551.2 743.6,542.8 743.8,553.6 744.0,519.5 744.2,553.5 744.4,528.2 744.6,551.4 744.8,556.6 745.0,562.6 745.2,525.7 745.4,550.1 745.6,530.5 745.8,550.2 746.0,521.0 746.2,548.4 746.4,556.3 746.6,560.7 746.8,525.7 747.0,523.0 747.2,523.6 747.4,553.0 747.6,553.2 747.8,557.7 748.0,556.6 748.2,532.1 748.4,549.1 748.6,523.1 748.8,528.8 749.0,525.9 749.2,563.7 749.4,520.6 749.6,535.8 749.8,548.0 750.0,538.4 750.2,548.5 750.4,550.0 750.6,556.3 750.8,548.2 751.0,531.3 751.2,527.5 751.4,540.7 751.6,551.4 751.8,552.0 752.0,553.9 752.2,577.2 752.4,531.7 752.6,563.4 752.8,539.4 753.0,556.1 753.2,554.9 753.4,552.3 753.6,557.0 753.8,563.3 754.0,561.4 754.2,565.4 754.4,555.4 754.6,562.4 754.8,567.3 755.0,537.8 755.2,543.9 755.4,544.8 755.6,531.3 755.8,541.1 756.0,540.3 756.2,561.0 756.4,562.2 756.6,552.3 756.8,537.2 757.0,556.8 757.2,547.2 757.4,549.5 757.6,533.2 757.8,557.4 758.0,547.5 758.2,551.2 758.4,543.4 758.6,560.9 758.8,548.1 759.0,548.9 759.2,552.9 759.4,545.8 759.6,556.3 759.8,535.9 760.0,558.0 760.2,557.4 760.4,537.6 760.6,526.6 760.8,555.0 761.0,554.2 761.2,523.5 761.4,551.4 761.6,558.8 761.8,542.2 762.0,524.5 762.2,542.8 762.4,543.1 762.6,542.9 762.8,540.8 763.0,543.4 763.2,533.3 763.4,528.7 763.6,565.5 763.8,528.0 764.0,539.8 764.2,530.5 764.4,536.1 764.6,546.1 764.8,543.8 765.0,547.4 765.2,543.7 765.4,550.7 765.6,524.4 765.8,548.5 766.0,529.5 766.2,555.4 766.4,526.0 766.6,529.6 766.8,536.2 767.0,550.5 767.2,539.7 767.4,565.0 767.6,562.6 767.8,577.4 768.0,566.7 768.2,530.0 768.4,539.3 768.6,532.6 768.8,564.9 769.0,528.0 769.2,542.7 769.4,580.5 769.6,565.0 769.8,549.4 770.0,530.8 770.2,562.9 770.4,559.3 770.6,552.2 770.8,549.8 771.0,546.7 771.2,551.1 771.4,524.4 771.6,537.8 771.8,510.1 772.0,556.2 772.2,549.7 772.4,557.6 772.6,528.0 772.8,564.6 773.0,546.3 773.2,522.9 773.4,551.8 773.6,540.4 773.8,539.3 774.0,571.2 774.2,564.1 774.4,542.1 774.6,549.5 774.8,564.6 775.0,560.1 775.2,530.9 775.4,549.4 775.6,543.2 775.8,527.0 776.0,555.6 776.2,561.4 776.4,543.2 776.6,551.2 776.8,557.8 777.0,526.8 777.2,519.1 777.4,528.7 777.6,551.8 777.8,556.0 778.0,521.7 778.2,539.9 778.4,532.7 778.6,524.6 778.8,523.9 779.0,537.4 779.2,542.7 779.4,549.2 779.6,554.1 779.8,527.6 780.0,538.7 780.2,543.2 780.4,558.2 780.6,553.8 780.8,555.1 781.0,541.4 781.2,509.1 781.4,524.5 781.6,533.5 781.8,560.6 782.0,549.4 782.2,524.4 782.4,538.8 782.6,525.4 782.8,525.2 783.0,517.2 783.2,547.9 783.4,531.5 783.6,524.6 783.8,527.6 784.0,516.8 784.2,545.6 784.4,532.9 784.6,557.2 784.8,554.6 785.0,548.3 785.2,531.6 785.4,531.9 785.6,569.3 785.8,519.6 786.0,548.7 786.2,554.0 786.4,530.8 786.6,538.7 786.8,518.3 787.0,539.5 787.2,514.7 787.4,551.6 787.6,509.4 787.8,523.6 788.0,528.8 788.2,544.3 788.4,524.7 788.6,523.9 788.8,547.8 789.0,535.3 789.2,530.7 789.4,530.2 789.6,526.6 789.8,513.1 790.0,530.7 790.2,510.9 790.4,518.3 790.6,529.6 790.8,537.1 791.0,538.8 791.2,504.9 791.4,516.0 791.6,523.1 791.8,535.8 792.0,546.5 792.2,512.6 792.4,495.1 792.6,530.7 792.8,523.7 793.0,503.7 793.2,498.2 793.4,533.2 793.6,529.6 793.8,533.9 794.0,493.2 794.2,514.6 794.4,526.6 794.6,496.5 794.8,502.0 795.0,519.7 795.2,526.1 795.4,533.9 795.6,511.3 795.8,507.5 796.0,549.9 796.2,514.3 796.4,539.1 796.6,517.6 796.8,530.7 797.0,499.7 797.2,509.0 797.4,520.9 797.6,478.5 797.8,526.7 798.0,515.8 798.2,516.5 798.4,543.8 798.6,531.3 798.8,484.1 799.0,482.4 799.2,483.4 799.4,505.6 799.6,503.3 799.8,525.9 800.0,495.3 800.2,492.8 800.4,467.9 800.6,501.4 800.8,510.4 801.0,507.9 801.2,537.8 801.4,506.6 801.6,473.8 801.8,492.3 802.0,491.5 802.2,505.6 802.4,511.5 802.6,510.4 802.8,510.1 803.0,512.1 803.2,486.8 803.4,527.8 803.6,469.3 803.8,506.0 804.0,492.0 804.2,485.8 804.4,497.8 804.6,479.2 804.8,505.1 805.0,513.5 805.2,476.8 805.4,466.3 805.6,477.5 805.8,485.5 806.0,467.8 806.2,481.7 806.4,473.7 806.6,499.1 806.8,490.9 807.0,471.9 807.2,460.5 807.4,472.9 807.6,503.7 807.8,453.8 808.0,453.5 808.2,462.9 808.4,454.9 808.6,478.2 808.8,478.4 809.0,490.6 809.2,449.2 809.4,487.6 809.6,473.6 809.8,480.6 810.0,479.3 810.2,456.1 810.4,475.6 810.6,440.7 810.8,462.5 811.0,459.9 811.2,470.3 811.4,471.3 811.6,463.1 811.8,448.1 812.0,440.1 812.2,482.6 812.4,474.5 812.6,461.3 812.8,447.7 813.0,449.8 813.2,432.5 813.4,463.4 813.6,435.1 813.8,440.2 814.0,441.9 814.2,462.4 814.4,434.2 814.6,473.4 814.8,457.8 815.0,462.8 815.2,461.7 815.4,433.4 815.6,447.0 815.8,457.2 816.0,461.0 816.2,429.8 816.4,447.5 816.6,413.6 816.8,424.0 817.0,436.0 817.2,430.8 817.4,414.4 817.6,412.5 817.8,400.7 818.0,393.8 818.2,423.7 818.4,392.6 818.6,416.2 818.8,432.7 819.0,433.3 819.2,405.4 819.4,381.4 819.6,392.1 819.8,426.9 820.0,427.0 820.2,416.4 820.4,397.5 820.6,428.2 820.8,374.7 821.0,415.1 821.2,390.0 821.4,411.3 821.6,407.8 821.8,407.3 822.0,383.0 822.2,412.5 822.4,401.4 822.6,409.9 822.8,383.9 823.0,367.4 823.2,392.7 823.4,368.0 823.6,392.4 823.8,394.8 824.0,368.1 824.2,366.5 824.4,360.0 824.6,352.9 824.8,365.7 825.0,397.1 825.2,400.2 825.4,385.3 825.6,360.4 825.8,385.8 826.0,353.8 826.2,371.2 826.4,364.6 826.6,330.4 826.8,369.6 827.0,374.6 827.2,328.8 827.4,373.6 827.6,333.9 827.8,336.8 828.0,315.2 828.2,318.0 828.4,309.6 828.6,344.6 828.8,337.3 829.0,303.6 829.2,339.6 829.4,312.2 829.6,315.0 829.8,341.9 830.0,339.7 830.2,312.8 830.4,309.3 830.6,336.0 830.8,295.0 831.0,278.8 831.2,300.6 831.4,307.0 831.6,322.3 831.8,335.7 832.0,315.4 832.2,305.1 832.4,287.2 832.6,272.9 832.8,284.7 833.0,326.0 833.2,328.5 833.4,299.7 833.6,288.9 833.8,312.8 834.0,295.7 834.2,243.9 834.4,262.0 834.6,270.4 834.8,248.7 835.0,285.3 835.2,285.1 835.4,242.8 835.6,254.5 835.8,272.7 836.0,247.9 836.2,253.9 836.4,234.5 836.6,259.7 836.8,254.4 837.0,243.2 837.2,241.7 837.4,251.9 837.6,232.6 837.8,221.8 838.0,194.5 838.2,192.1 838.4,245.9 838.6,205.8 838.8,203.2 839.0,260.9 839.2,179.1 839.4,185.2 839.6,203.6 839.8,215.0 840.0,201.1 840.2,181.3 840.4,197.6 840.6,203.2 840.8,195.7 841.0,226.3 841.2,211.6 841.4,209.4 841.6,231.9 841.8,221.8 842.0,230.9 842.2,246.9 842.4,211.7 842.6,238.5 842.8,193.7 843.0,244.4 843.2,194.9 843.4,263.0 843.6,202.0 843.8,206.8 844.0,211.2 844.2,239.4 844.4,252.8 844.6,234.5 844.8,226.5 845.0,229.8 845.2,217.6 845.4,256.3 845.6,258.9 845.8,221.8 846.0,275.3 846.2,269.7 846.4,219.5 846.6,260.8 846.8,231.2 847.0,222.2 847.2,237.5 847.4,222.2 847.6,278.0 847.8,226.6 848.0,242.6 848.2,259.6 848.4,262.2 848.6,238.1 848.8,292.1 849.0,293.2 849.2,275.8 849.4,294.8 849.6,250.0 849.8,248.9 850.0,294.2 850.2,314.6 850.4,301.0 850.6,271.9 850.8,323.7 851.0,314.2 851.2,331.0 851.4,334.7 851.6,316.2 851.8,339.7 852.0,295.4 852.2,287.5 852.4,309.2 852.6,295.5 852.8,364.1 853.0,301.6 853.2,352.4 853.4,340.2 853.6,340.9 853.8,355.5 854.0,349.0 854.2,341.9 854.4,309.6 854.6,382.6 854.8,340.2 855.0,322.3 855.2,328.7 855.4,367.9 855.6,338.4 855.8,385.6 856.0,345.5 856.2,320.9 856.4,327.9 856.6,383.6 856.8,365.5 857.0,344.2 857.2,331.5 857.4,340.8 857.6,345.9 857.8,353.2 858.0,391.1 858.2,342.6 858.4,372.4 858.6,359.8 858.8,360.9 859.0,384.3 859.2,344.9 859.4,365.8 859.6,371.6 859.8,362.5 860.0,352.4 860.2,379.3 860.4,362.7 860.6,413.7 860.8,366.6 861.0,395.1 861.2,390.0 861.4,399.6 861.6,381.7 861.8,412.1 862.0,403.4 862.2,400.1 862.4,399.2 862.6,371.2 862.8,405.9 863.0,419.1 863.2,413.6 863.4,373.2 863.6,391.0 863.8,383.3 864.0,417.3 864.2,428.4 864.4,417.8 864.6,385.3 864.8,409.4 865.0,401.9 865.2,424.4 865.4,425.7 865.6,426.4 865.8,390.5 866.0,452.2 866.2,388.6 866.4,447.8 866.6,441.7 866.8,406.0 867.0,412.2 867.2,438.0 867.4,394.7 867.6,406.6 867.8,463.3 868.0,426.1 868.2,418.6 868.4,419.2 868.6,414.5 868.8,451.2 869.0,450.1 869.2,419.9 869.4,425.6 869.6,419.2 869.8,431.5 870.0,425.9 870.2,437.9 870.4,454.8 870.6,454.8 870.8,427.4 871.0,417.5 871.2,422.1 871.4,416.0 871.6,451.9 871.8,449.4 872.0,437.3 872.2,445.8 872.4,417.9 872.6,417.7 872.8,427.8 873.0,421.1 873.2,455.1 873.4,461.0 873.6,428.9 873.8,443.8 874.0,466.9 874.2,476.4 874.4,451.7 874.6,454.1 874.8,456.2 875.0,447.4 875.2,465.5 875.4,475.3 875.6,444.0 875.8,473.5 876.0,477.1 876.2,456.1 876.4,480.5 876.6,476.6 876.8,449.8 877.0,452.3 877.2,466.6 877.4,451.9 877.6,457.2 877.8,444.4 878.0,483.3 878.2,452.2 878.4,440.4 878.6,476.3 878.8,452.8 879.0,495.3 879.2,446.4 879.4,490.2 879.6,451.8 879.8,482.1 880.0,492.9 880.2,492.1 880.4,479.1 880.6,489.3 880.8,458.6 881.0,493.8 881.2,462.6 881.4,457.7 881.6,452.9 881.8,491.8 882.0,504.4 882.2,482.9 882.4,469.9 882.6,503.2 882.8,504.4 883.0,479.4 883.2,462.5 883.4,463.5 883.6,492.6 883.8,492.8 884.0,467.7 884.2,485.7 884.4,504.5 884.6,504.5 884.8,510.9 885.0,492.5 885.2,495.2 885.4,465.7 885.6,512.8 885.8,510.1 886.0,492.5 886.2,488.8 886.4,511.5 886.6,514.3 886.8,462.8 887.0,489.2 887.2,500.5 887.4,501.9 887.6,441.2 887.8,495.7 888.0,485.4 888.2,455.2 888.4,441.1 888.6,464.7 888.8,477.6 889.0,487.5 889.2,457.3 889.4,495.5 889.6,468.9 889.8,494.6 890.0,496.2 890.2,495.0 890.4,480.8 890.6,519.6 890.8,468.2 891.0,476.6 891.2,496.8 891.4,485.4 891.6,492.1 891.8,491.0 892.0,476.6 892.2,472.3 892.4,516.0 892.6,501.2 892.8,488.5 893.0,519.7 893.2,511.2 893.4,522.0 893.6,499.1 893.8,477.2 894.0,500.8 894.2,502.2 894.4,492.7 894.6,487.1 894.8,484.5 895.0,524.2 895.2,505.1 895.4,487.4 895.6,487.2 895.8,498.1 896.0,478.7 896.2,492.8 896.4,519.3 896.6,476.4 896.8,495.6 897.0,484.4 897.2,489.2 897.4,512.7 897.6,487.3 897.8,497.5 898.0,515.4 898.2,496.3 898.4,484.2 898.6,529.6 898.8,514.3 899.0,493.5 899.2,475.4 899.4,490.6 899.6,476.9 899.8,493.7 900.0,481.9 900.2,521.3 900.4,517.2 900.6,518.9 900.8,493.3 901.0,515.2 901.2,509.8 901.4,480.3 901.6,493.5 901.8,482.7 902.0,503.4 902.2,476.6 902.4,479.1 902.6,518.3 902.8,507.7 903.0,496.9 903.2,499.8 903.4,518.8 903.6,491.8 903.8,518.9 904.0,516.3 904.2,506.4 904.4,508.8 904.6,500.7 904.8,481.5 905.0,510.8 905.2,477.9 905.4,501.5 905.6,492.9 905.8,498.0 906.0,518.4 906.2,493.1 906.4,505.9 906.6,469.9 906.8,486.6 907.0,475.2 907.2,484.4 907.4,503.3 907.6,490.6 907.8,513.3 908.0,502.2 908.2,492.2 908.4,502.9 908.6,511.0 908.8,512.8 909.0,477.5 909.2,503.0 909.4,491.9 909.6,471.5 909.8,500.6 910.0,509.1 910.2,476.3 910.4,482.1 910.6,477.2 910.8,488.2 911.0,527.9 911.2,457.5 911.4,497.4 911.6,465.4 911.8,478.5 912.0,515.1 912.2,509.6 912.4,523.3 912.6,499.3 912.8,472.1 913.0,496.2 913.2,514.3 913.4,493.3 913.6,501.6 913.8,475.0 914.0,493.9 914.2,501.6 914.4,474.4 914.6,489.3 914.8,487.2 915.0,488.7 915.2,475.6 915.4,475.0 915.6,468.7 915.8,474.2 916.0,462.4 916.2,487.8 916.4,462.4 916.6,496.2 916.8,506.9 917.0,459.8 917.2,463.4 917.4,514.5 917.6,501.3 917.8,496.1 918.0,469.7 918.2,475.3 918.4,506.2 918.6,461.9 918.8,496.0 919.0,457.2 919.2,504.8 919.4,481.8 919.6,465.7 919.8,478.6 920.0,490.1 920.2,459.7 920.4,473.9 920.6,492.6 920.8,458.8 921.0,453.6 921.2,497.0 921.4,500.4 921.6,489.7 921.8,478.6 922.0,466.7 922.2,454.7 922.4,496.3 922.6,489.9 922.8,450.8 923.0,454.3 923.2,486.9 923.4,475.1 923.6,461.1 923.8,461.0 924.0,489.7 924.2,488.7 924.4,480.1 924.6,477.7 924.8,473.2 925.0,444.4 925.2,464.5 925.4,487.8 925.6,468.7 925.8,456.3 926.0,483.5 926.2,488.9 926.4,454.8 926.6,474.4 926.8,461.6 927.0,481.1 927.2,466.0 927.4,452.4 927.6,446.0 927.8,485.2 928.0,469.3 928.2,456.0 928.4,473.0 928.6,465.0 928.8,462.8 929.0,448.1 929.2,467.8 929.4,468.8 929.6,437.0 929.8,435.9 930.0,471.5 930.2,479.2 930.4,474.3 930.6,468.4 930.8,454.5 931.0,461.6 931.2,431.5 931.4,437.8 931.6,434.8 931.8,475.3 932.0,446.5 932.2,438.6 932.4,477.5 932.6,466.6 932.8,442.5 933.0,479.4 933.2,447.9 933.4,426.0 933.6,424.2 933.8,453.6 934.0,463.8 934.2,458.5 934.4,442.2 934.6,426.7 934.8,453.6 935.0,447.7 935.2,425.4 935.4,427.4 935.6,456.3 935.8,423.6 936.0,418.6 936.2,447.7 936.4,441.8 936.6,464.9 936.8,446.1 937.0,416.1 937.2,418.7 937.4,450.2 937.6,454.7 937.8,429.9 938.0,456.2 938.2,427.1 938.4,415.6 938.6,432.7 938.8,429.2 939.0,431.1 939.2,451.2 939.4,451.8 939.6,416.9 939.8,426.7 940.0,436.4 940.2,407.6 940.4,423.2 940.6,446.2 940.8,432.0 941.0,418.0 941.2,410.8 941.4,420.0 941.6,431.1 941.8,418.6 942.0,419.1 942.2,437.4 942.4,422.2 942.6,415.1 942.8,403.9 943.0,403.7 943.2,409.8 943.4,402.9 943.6,394.6 943.8,406.3 944.0,413.5 944.2,424.8 944.4,445.9 944.6,443.1 944.8,429.3 945.0,399.6 945.2,419.2 945.4,409.7 945.6,421.6 945.8,407.7 946.0,415.1 946.2,424.8 946.4,447.7 946.6,452.4 946.8,398.4 947.0,399.1 947.2,437.9 947.4,422.2 947.6,430.8 947.8,419.6 948.0,446.3 948.2,436.6 948.4,402.2 948.6,385.7 948.8,390.9 949.0,411.6 949.2,428.7 949.4,425.7 949.6,440.2 949.8,393.5 950.0,423.2 950.2,379.6 950.4,405.1 950.6,391.3 950.8,393.4 951.0,408.6 951.2,424.3 951.4,400.2 951.6,411.7 951.8,399.3 952.0,442.4 952.2,426.8 952.4,410.4 952.6,410.0 952.8,426.5 953.0,404.4 953.2,409.3 953.4,407.5 953.6,451.4 953.8,431.4 954.0,438.0 954.2,396.2 954.4,420.4 954.6,433.7 954.8,412.8 955.0,426.3 955.2,440.6 955.4,435.6 955.6,412.9 955.8,442.2 956.0,449.2 956.2,396.0 956.4,395.5 956.6,431.0 956.8,447.1 957.0,398.9 957.2,443.2 957.4,400.8 957.6,454.9 957.8,423.6 958.0,409.9 958.2,408.1 958.4,410.1 958.6,428.6 958.8,446.0 959.0,457.0 959.2,426.4 959.4,413.8 959.6,448.6 959.8,420.5 960.0,410.5 960.2,426.7 960.4,429.8 960.6,421.0 960.8,425.4 961.0,428.7 961.2,430.6 961.4,437.0 961.6,436.5 961.8,437.3 962.0,412.4 962.2,445.4 962.4,424.7 962.6,454.2 962.8,466.2 963.0,450.6 963.2,453.9 963.4,441.3 963.6,474.5 963.8,487.2 964.0,426.1 964.2,441.9 964.4,446.6 964.6,462.8 964.8,461.2 965.0,441.0 965.2,446.9 965.4,483.1 965.6,437.7 965.8,453.8 966.0,453.9 966.2,458.2 966.4,471.7 966.6,446.3 966.8,454.4 967.0,477.3 967.2,457.6 967.4,496.5 967.6,478.2 967.8,478.9 968.0,502.0 968.2,502.1 968.4,504.9 968.6,469.9 968.8,462.7 969.0,490.6 969.2,461.9 969.4,507.9 969.6,510.5 969.8,485.7 970.0,511.0 970.2,475.1 970.4,504.9 970.6,495.4 970.8,516.3 971.0,492.8 971.2,506.4 971.4,502.0 971.6,480.5 971.8,521.5 972.0,519.8 972.2,518.1 972.4,498.0 972.6,484.8 972.8,538.6 973.0,505.3 973.2,482.9 973.4,514.9 973.6,531.5 973.8,510.8 974.0,494.0 974.2,486.7 974.4,489.4 974.6,524.4 974.8,501.7 975.0,515.3 975.2,513.8 975.4,529.5 975.6,524.7 975.8,514.5 976.0,495.9 976.2,523.2 976.4,539.4 976.6,493.6 976.8,529.9 977.0,505.9 977.2,540.8 977.4,530.8 977.6,522.8 977.8,505.2 978.0,528.8 978.2,498.9 978.4,508.6 978.6,511.8 978.8,527.8 979.0,539.8 979.2,543.3 979.4,521.6 979.6,523.5 979.8,531.7 980.0,506.2 980.2,506.8 980.4,534.5 980.6,547.9 980.8,544.9 981.0,530.6 981.2,523.3 981.4,549.0 981.6,530.6 981.8,548.6 982.0,510.3 982.2,540.1 982.4,519.1 982.6,535.2 982.8,500.1 983.0,512.8 983.2,559.2 983.4,557.5 983.6,558.8 983.8,540.0 984.0,515.0 984.2,535.0 984.4,542.9 984.6,517.1 984.8,538.8 985.0,555.9 985.2,550.7 985.4,538.4 985.6,537.5 985.8,541.3 986.0,540.3 986.2,528.7 986.4,536.2 986.6,536.2 986.8,567.5 987.0,524.8 987.2,538.7 987.4,526.0 987.6,546.7 987.8,524.6 988.0,548.9 988.2,548.7 988.4,555.9 988.6,561.7 988.8,553.3 989.0,530.0 989.2,550.7 989.4,533.8 989.6,539.3 989.8,530.4 990.0,561.6 990.2,544.4 990.4,556.0 990.6,559.2 990.8,553.6 991.0,557.5 991.2,546.5 991.4,577.4 991.6,554.6 991.8,575.3 992.0,538.2 992.2,544.1 992.4,569.0 992.6,579.2 992.8,542.8 993.0,563.0 993.2,546.6 993.4,538.8 993.6,540.5 993.8,553.1 994.0,574.4 994.2,555.6 994.4,549.8 994.6,584.8 994.8,575.2 995.0,571.7 995.2,550.3 995.4,553.8 995.6,574.0 995.8,555.9 996.0,566.9 996.2,584.8 996.4,571.1 996.6,549.1 996.8,589.3 997.0,552.8 997.2,564.3 997.4,548.8 997.6,552.2 997.8,591.0 998.0,585.8 998.2,585.2 998.4,587.9 998.6,602.4 998.8,567.3 999.0,583.9 999.2,551.5 999.4,595.4 999.6,556.9 999.8,563.3 1000.0,571.3 1000.2,564.7 1000.4,591.7 1000.6,581.1 1000.8,569.4 1001.0,561.7 1001.2,598.2 1001.4,592.7 1001.6,560.2 1001.8,570.5 1002.0,585.0 1002.2,570.5 1002.4,561.4 1002.6,567.1 1002.8,599.0 1003.0,572.7 1003.2,571.7 1003.4,596.8 1003.6,572.5 1003.8,569.1 1004.0,567.1 1004.2,573.2 1004.4,569.8 1004.6,560.4 1004.8,567.7 1005.0,571.8 1005.2,596.1 1005.4,564.6 1005.6,601.2 1005.8,593.0 1006.0,587.7 1006.2,589.6 1006.4,585.9 1006.6,603.6 1006.8,568.7 1007.0,605.6 1007.2,598.6 1007.4,564.8 1007.6,605.8 1007.8,591.6 1008.0,596.6 1008.2,568.3 1008.4,595.4 1008.6,572.2 1008.8,580.1 1009.0,572.5 1009.2,591.5 1009.4,587.6 1009.6,604.3 1009.8,591.6 1010.0,595.4 1010.2,617.6 1010.4,605.3 1010.6,586.1 1010.8,575.2 1011.0,585.8 1011.2,592.8 1011.4,608.2 1011.6,590.6 1011.8,576.9 1012.0,601.2 1012.2,580.3 1012.4,610.7 1012.6,598.8 1012.8,601.2 1013.0,587.0 1013.2,604.1 1013.4,577.8 1013.6,607.4 1013.8,578.3 1014.0,595.7 1014.2,579.2 1014.4,581.5 1014.6,599.5 1014.8,586.8 1015.0,604.5 1015.2,581.4 1015.4,583.6 1015.6,579.5 1015.8,615.9 1016.0,591.6 1016.2,609.1 1016.4,611.1 1016.6,584.1 1016.8,611.0 1017.0,599.9 1017.2,581.9 1017.4,587.6 1017.6,586.8 1017.8,587.1 1018.0,608.2 1018.2,611.9 1018.4,594.0 1018.6,579.6 1018.8,601.5 1019.0,594.9 1019.2,593.5 1019.4,601.9 1019.6,599.2 1019.8,581.4 1020.0,603.2 1020.2,612.0 1020.4,606.4 1020.6,605.4 1020.8,590.7 1021.0,611.2 1021.2,599.3 1021.4,588.5 1021.6,610.2 1021.8,615.9 1022.0,608.8 1022.2,592.4 1022.4,596.6 1022.6,586.9 1022.8,605.6 1023.0,617.7 1023.2,588.7 1023.4,593.7 1023.6,621.6 1023.8,611.1 1024.0,583.4 1024.2,609.1 1024.4,586.0 1024.6,602.3 1024.8,617.4 1025.0,612.1 1025.2,589.0 1025.4,587.1 1025.6,625.3 1025.8,585.1 1026.0,612.8 1026.2,594.1 1026.4,599.5 1026.6,587.6 1026.8,624.8 1027.0,623.3 1027.2,588.4 1027.4,624.6 1027.6,598.0 1027.8,613.8 1028.0,615.6 1028.2,606.4 1028.4,603.7 1028.6,617.0 1028.8,599.7 1029.0,626.5 1029.2,625.9 1029.4,626.7 1029.6,615.6 1029.8,601.9 1030.0,622.0 1030.2,620.8 1030.4,609.7 1030.6,596.7 1030.8,607.0 1031.0,596.9 1031.2,614.8 1031.4,589.3 1031.6,611.9 1031.8,613.3 1032.0,610.2 1032.2,619.3 1032.4,599.8 1032.6,625.5 1032.8,608.7 1033.0,632.7 1033.2,606.8 1033.4,598.4 1033.6,597.8 1033.8,628.1 1034.0,626.6 1034.2,596.4 1034.4,606.1 1034.6,624.0 1034.8,628.9 1035.0,594.9 1035.2,599.5 1035.4,614.2 1035.6,600.6 1035.8,606.8 1036.0,593.9 1036.2,598.9 1036.4,609.7 1036.6,598.0 1036.8,619.1 1037.0,614.9 1037.2,601.2 1037.4,620.2 1037.6,606.3 1037.8,608.5 1038.0,597.8 1038.2,612.4 1038.4,599.6 1038.6,611.5 1038.8,632.0 1039.0,597.8 1039.2,612.7 1039.4,624.7 1039.6,609.5 1039.8,630.8 1040.0,613.4 1040.2,589.0 1040.4,625.1 1040.6,619.5 1040.8,627.9 1041.0,634.2 1041.2,630.8 1041.4,617.0 1041.6,629.5 1041.8,617.1 1042.0,624.6 1042.2,617.2 1042.4,622.1 1042.6,609.1 1042.8,604.6 1043.0,599.2 1043.2,595.6 1043.4,602.9 1043.6,640.7 1043.8,598.4 1044.0,609.3 1044.2,631.9 1044.4,631.6 1044.6,609.4 1044.8,617.2 1045.0,603.7 1045.2,604.0 1045.4,600.9 1045.6,613.3 1045.8,630.1 1046.0,614.2 1046.2,599.0 1046.4,629.1 1046.6,636.6 1046.8,626.4 1047.0,612.0 1047.2,626.0 1047.4,616.2 1047.6,618.2 1047.8,629.8 1048.0,612.1 1048.2,638.4 1048.4,616.5 1048.6,612.6 1048.8,640.9 1049.0,626.6 1049.2,618.9 1049.4,633.8 1049.6,636.0 1049.8,614.4 1050.0,620.2 1050.2,638.7 1050.4,608.1 1050.6,632.8 1050.8,616.8 1051.0,623.5 1051.2,627.5 1051.4,617.5 1051.6,641.9 1051.8,636.9 1052.0,599.4 1052.2,618.0 1052.4,629.9 1052.6,626.4 1052.8,633.9 1053.0,643.9 1053.2,630.9 1053.4,637.3 1053.6,633.0 1053.8,647.2 1054.0,627.6 1054.2,633.6 1054.4,642.6 1054.6,641.2 1054.8,641.7 1055.0,615.8 1055.2,627.1 1055.4,644.1 1055.6,613.4 1055.8,616.7 1056.0,626.4 1056.2,615.7 1056.4,616.0 1056.6,632.1 1056.8,638.2 1057.0,621.2 1057.2,613.0 1057.4,612.4 1057.6,614.5 1057.8,647.3 1058.0,637.5 1058.2,616.0 1058.4,624.4 1058.6,626.8 1058.8,643.5 1059.0,638.4 1059.2,628.2 1059.4,648.5 1059.6,627.9 1059.8,640.5 1060.0,635.2 1060.2,615.0 1060.4,634.5 1060.6,643.4 1060.8,636.8 1061.0,634.8 1061.2,628.0 1061.4,614.5 1061.6,646.4 1061.8,624.0 1062.0,634.8 1062.2,624.2 1062.4,633.9 1062.6,620.2 1062.8,616.9 1063.0,620.9 1063.2,620.3 1063.4,611.9 1063.6,622.7 1063.8,646.0 1064.0,636.8 1064.2,624.1 1064.4,611.0 1064.6,613.5 1064.8,636.8 1065.0,621.3 1065.2,620.1 1065.4,619.3 1065.6,648.1 1065.8,616.9 1066.0,634.6 1066.2,643.8 1066.4,643.7 1066.6,648.2 1066.8,647.4 1067.0,628.4 1067.2,641.9 1067.4,629.9 1067.6,615.3 1067.8,645.1 1068.0,643.0 1068.2,620.6 1068.4,644.7 1068.6,623.1 1068.8,619.4 1069.0,619.3 1069.2,615.4 1069.4,643.0 1069.6,618.2 1069.8,649.4 1070.0,652.0 1070.2,617.0 1070.4,631.9 1070.6,618.7 1070.8,624.4 1071.0,639.0 1071.2,649.4 1071.4,624.9 1071.6,624.2 1071.8,620.8 1072.0,645.7 1072.2,643.3 1072.4,630.6 1072.6,627.9 1072.8,634.5 1073.0,631.6 1073.2,625.2 1073.4,609.5 1073.6,622.8 1073.8,641.7 1074.0,638.1 1074.2,623.6 1074.4,641.5 1074.6,633.3 1074.8,631.7 1075.0,638.0 1075.2,646.6 1075.4,647.1 1075.6,632.1 1075.8,652.3 1076.0,635.8 1076.2,625.7 1076.4,643.8 1076.6,633.1 1076.8,647.7 1077.0,641.0 1077.2,652.7 1077.4,623.5 1077.6,635.2 1077.8,623.2 1078.0,660.9 1078.2,654.5 1078.4,622.4 1078.6,623.2 1078.8,652.9 1079.0,620.5 1079.2,623.8 1079.4,632.7 1079.6,629.4 1079.8,634.7 1080.0,623.5 1080.2,637.3 1080.4,655.8 1080.6,634.8 1080.8,624.9 1081.0,631.7 1081.2,648.7 1081.4,649.3 1081.6,649.1 1081.8,629.8 1082.0,649.5 1082.2,655.5 1082.4,620.8 1082.6,646.8 1082.8,638.9 1083.0,636.4 1083.2,628.5 1083.4,653.6 1083.6,638.5 1083.8,631.6 1084.0,642.1 1084.2,655.2 1084.4,639.0 1084.6,629.1 1084.8,644.0 1085.0,645.7 1085.2,626.5 1085.4,625.8 1085.6,627.1 1085.8,653.4 1086.0,639.1 1086.2,651.9 1086.4,637.8 1086.6,657.0 1086.8,627.9 1087.0,639.0 1087.2,655.6 1087.4,640.4 1087.6,633.8 1087.8,641.6 1088.0,630.3 1088.2,646.5 1088.4,628.9 1088.6,648.7 1088.8,662.5 1089.0,625.5 1089.2,640.3 1089.4,652.2 1089.6,658.4 1089.8,658.6 1090.0,658.6 1090.2,653.6 1090.4,635.7 1090.6,647.4 1090.8,648.6 1091.0,625.9 1091.2,639.2 1091.4,634.2 1091.6,644.2 1091.8,626.6 1092.0,634.7 1092.2,643.5 1092.4,649.2 1092.6,654.7 1092.8,637.2 1093.0,661.3 1093.2,627.7 1093.4,665.9 1093.6,654.9 1093.8,636.5 1094.0,626.2 1094.2,627.6 1094.4,630.0 1094.6,638.0 1094.8,643.1 1095.0,644.0 1095.2,658.1 1095.4,647.9 1095.6,656.1 1095.8,656.2 1096.0,661.5 1096.2,636.7 1096.4,643.0 1096.6,648.9 1096.8,661.2 1097.0,658.6 1097.2,651.7 1097.4,648.0 1097.6,653.2 1097.8,645.5 1098.0,631.8 1098.2,638.3 1098.4,648.2 1098.6,639.8 1098.8,654.3 1099.0,657.3 1099.2,660.7 1099.4,651.2 1099.6,637.3 1099.8,645.7 1100.0,660.3 1100.2,654.3 1100.4,667.0 1100.6,649.0 1100.8,637.9 1101.0,647.5 1101.2,664.1 1101.4,662.8 1101.6,643.3 1101.8,641.4 1102.0,647.9 1102.2,656.8 1102.4,630.2 1102.6,650.4 1102.8,667.9 1103.0,634.5 1103.2,660.7 1103.4,665.3 1103.6,673.9 1103.8,664.7 1104.0,645.9 1104.2,663.4 1104.4,662.3 1104.6,654.8 1104.8,629.3 1105.0,658.5 1105.2,619.9 1105.4,660.5 1105.6,636.4 1105.8,645.3 1106.0,651.5 1106.2,664.8 1106.4,630.6 1106.6,644.0 1106.8,654.1 1107.0,640.3 1107.2,645.5 1107.4,631.6 1107.6,637.3 1107.8,643.7 1108.0,639.7 1108.2,650.9 1108.4,630.9 1108.6,645.5 1108.8,634.2 1109.0,647.3 1109.2,659.4 1109.4,630.1 1109.6,655.6 1109.8,653.9 1110.0,638.2 1110.2,659.5 1110.4,651.4 1110.6,645.6 1110.8,633.1 1111.0,661.3 1111.2,645.8 1111.4,644.5 1111.6,662.3 1111.8,657.2 1112.0,652.0 1112.2,637.1 1112.4,652.2 1112.6,639.8 1112.8,646.0 1113.0,665.6 1113.2,652.1 1113.4,661.3 1113.6,649.7 1113.8,644.9 1114.0,662.1 1114.2,652.3 1114.4,663.3 1114.6,644.2 1114.8,662.0 1115.0,638.8 1115.2,642.0 1115.4,660.5 1115.6,650.9 1115.8,632.7 1116.0,655.2 1116.2,662.0 1116.4,663.9 1116.6,653.1 1116.8,636.6 1117.0,654.2 1117.2,636.8 1117.4,664.2 1117.6,631.3 1117.8,654.3 1118.0,654.0 1118.2,667.1 1118.4,643.5 1118.6,652.7 1118.8,643.3 1119.0,656.1 1119.2,631.8 1119.4,653.6 1119.6,660.1 1119.8,633.4 1120.0,652.6 1120.2,655.0 1120.4,665.8 1120.6,650.0 1120.8,638.0 1121.0,643.0 1121.2,659.4 1121.4,669.9 1121.6,658.5 1121.8,649.6 1122.0,647.7 1122.2,656.3 1122.4,665.7 1122.6,641.8 1122.8,663.0 1123.0,657.2 1123.2,652.2 1123.4,644.7 1123.6,654.4 1123.8,660.7 1124.0,632.4 1124.2,654.2 1124.4,646.1 1124.6,675.6 1124.8,650.2 1125.0,665.9 1125.2,653.6 1125.4,653.1 1125.6,658.5 1125.8,665.0 1126.0,657.1 1126.2,664.9 1126.4,665.8 1126.6,641.5 1126.8,642.3 1127.0,641.2 1127.2,661.3 1127.4,629.1 1127.6,636.3 1127.8,650.7 1128.0,647.4 1128.2,629.9 1128.4,663.9 1128.6,660.7 1128.8,645.7 1129.0,649.1 1129.2,646.8 1129.4,644.7 1129.6,641.4 1129.8,654.9 1130.0,656.5 1130.2,651.4 1130.4,640.1 1130.6,665.0 1130.8,667.8 1131.0,634.2 1131.2,623.7 1131.4,665.0 1131.6,661.0 1131.8,663.9 1132.0,663.3 1132.2,666.5 1132.4,658.9 1132.6,661.8 1132.8,675.6 1133.0,639.1 1133.2,665.2 1133.4,666.5 1133.6,632.6 1133.8,633.7 1134.0,651.4 1134.2,642.2 1134.4,660.3 1134.6,652.9 1134.8,666.1 1135.0,643.4 1135.2,653.5 1135.4,636.3 1135.6,653.7 1135.8,661.5 1136.0,649.7 1136.2,665.2 1136.4,652.0 1136.6,666.5 1136.8,632.6 1137.0,639.5 1137.2,647.5 1137.4,635.2 1137.6,655.7 1137.8,663.8 1138.0,631.7 1138.2,643.8 1138.4,635.3 1138.6,647.1 1138.8,645.0 1139.0,666.9 1139.2,637.8 1139.4,659.8 1139.6,664.5 1139.8,643.7 1140.0,643.4 1140.2,660.5 1140.4,662.6 1140.6,642.0 1140.8,635.0 1141.0,636.6 1141.2,658.1 1141.4,648.1 1141.6,636.0 1141.8,667.5 1142.0,650.7 1142.2,663.9 1142.4,659.9 1142.6,666.3 1142.8,656.3 1143.0,640.6 1143.2,639.8 1143.4,650.8 1143.6,646.5 1143.8,635.7 1144.0,640.9 1144.2,633.6 1144.4,644.1 1144.6,651.5 1144.8,656.8 1145.0,633.5 1145.2,650.2 1145.4,655.3 1145.6,639.3 1145.8,664.1 1146.0,664.4 1146.2,657.1 1146.4,663.3 1146.6,639.9 1146.8,673.7 1147.0,657.5 1147.2,671.7 1147.4,651.8 1147.6,648.2 1147.8,634.8 1148.0,659.9 1148.2,640.8 1148.4,654.4 1148.6,662.1 1148.8,634.7 1149.0,667.7 1149.2,663.1 1149.4,630.8 1149.6,659.7 1149.8,652.2 1150.0,648.8 1150.2,676.4 1150.4,653.5 1150.6,654.5 1150.8,645.2 1151.0,649.8 1151.2,657.2 1151.4,640.0 1151.6,652.7 1151.8,645.9 1152.0,653.5 1152.2,635.8 1152.4,633.0 1152.6,657.6 1152.8,641.7 1153.0,637.4 1153.2,638.0 1153.4,651.6 1153.6,635.8 1153.8,642.6 1154.0,632.5 1154.2,633.4 1154.4,639.9 1154.6,656.4 1154.8,652.1 1155.0,652.5 1155.2,644.5 1155.4,644.7 1155.6,657.0 1155.8,635.5 1156.0,665.3 1156.2,637.6 1156.4,661.4 1156.6,660.2 1156.8,647.9 1157.0,665.2 1157.2,636.2 1157.4,666.1 1157.6,641.3 1157.8,668.0 1158.0,644.1 1158.2,642.7 1158.4,667.1 1158.6,656.5 1158.8,636.2 1159.0,663.0 1159.2,637.7 1159.4,643.8 1159.6,649.5 1159.8,654.7 1160.0,676.4 1160.2,659.9 1160.4,642.6 1160.6,645.5 1160.8,661.2 1161.0,637.4 1161.2,667.6 1161.4,633.0 1161.6,667.4 1161.8,643.9 1162.0,663.0 1162.2,646.4 1162.4,640.5 1162.6,640.7 1162.8,657.4 1163.0,651.6 1163.2,656.9 1163.4,653.5 1163.6,662.5 1163.8,630.9 1164.0,654.4 1164.2,651.6 1164.4,624.2 1164.6,638.3 1164.8,641.5 1165.0,644.2 1165.2,638.6 1165.4,634.6 1165.6,659.1 1165.8,661.8 1166.0,627.0 1166.2,644.2 1166.4,638.4 1166.6,635.7 1166.8,668.6 1167.0,653.9 1167.2,653.4 1167.4,655.8 1167.6,655.6 1167.8,654.5 1168.0,649.1 1168.2,667.6 1168.4,653.9 1168.6,653.6 1168.8,636.6 1169.0,636.7 1169.2,642.0 1169.4,635.8 1169.6,646.5 1169.8,641.7 1170.0,640.6 1170.2,641.0 1170.4,667.1 1170.6,661.2 1170.8,651.2 1171.0,661.4 1171.2,668.3 1171.4,652.1 1171.6,655.8 1171.8,665.6 1172.0,641.5 1172.2,657.4 1172.4,665.9 1172.6,664.4 1172.8,637.3 1173.0,636.7 1173.2,632.7 1173.4,637.0 1173.6,624.9 1173.8,669.4 1174.0,638.4 1174.2,660.2 1174.4,661.6 1174.6,653.3 1174.8,655.9 1175.0,667.6 1175.2,641.5 1175.4,636.1 1175.6,655.0 1175.8,654.3 1176.0,644.7 1176.2,664.2 1176.4,653.5 1176.6,660.6 1176.8,661.8 1177.0,642.2 1177.2,641.7 1177.4,640.6 1177.6,645.2 1177.8,644.3 1178.0,636.3 1178.2,637.4 1178.4,649.1 1178.6,653.2 1178.8,663.6 1179.0,660.4 1179.2,650.6 1179.4,668.1 1179.6,651.7 1179.8,640.3 1180.0,662.2 1180.2,657.0 1180.4,638.7 1180.6,639.4 1180.8,641.7 1181.0,669.6 1181.2,646.0 1181.4,652.8 1181.6,643.8 1181.8,646.6 1182.0,668.8 1182.2,664.5 1182.4,660.0 1182.6,667.1 1182.8,639.7 1183.0,669.9 1183.2,662.3 1183.4,637.6 1183.6,635.7 1183.8,654.0 1184.0,651.5 1184.2,646.4 1184.4,644.8 1184.6,659.3 1184.8,646.7 1185.0,648.8 1185.2,656.9 1185.4,637.5 1185.6,653.7 1185.8,646.7 1186.0,656.9 1186.2,650.9 1186.4,659.4 1186.6,638.1 1186.8,630.0 1187.0,670.7 1187.2,669.3 1187.4,643.8 1187.6,655.7 1187.8,647.7 1188.0,663.2 1188.2,637.2 1188.4,637.0 1188.6,652.0 1188.8,667.5 1189.0,664.9 1189.2,651.6 1189.4,664.4 1189.6,663.4 1189.8,649.8 1190.0,664.1 1190.2,642.6 1190.4,644.2 1190.6,647.8 1190.8,655.6 1191.0,663.5 1191.2,661.4 1191.4,677.6 1191.6,670.4 1191.8,655.1 1192.0,638.0 1192.2,667.7 1192.4,657.8 1192.6,636.3 1192.8,642.8 1193.0,643.1 1193.2,648.3 1193.4,654.7 1193.6,640.7 1193.8,652.4 1194.0,641.3 1194.2,653.1 1194.4,658.8 1194.6,664.0 1194.8,663.0 1195.0,643.2 1195.2,651.8 1195.4,651.1 1195.6,662.1 1195.8,656.5 1196.0,639.4 1196.2,643.7 1196.4,669.2 1196.6,652.1 1196.8,663.0 1197.0,654.9 1197.2,645.8 1197.4,651.1 1197.6,655.0 1197.8,638.9 1198.0,671.4 1198.2,636.9 1198.4,642.5 1198.6,662.9 1198.8,648.0 1199.0,657.9 1199.2,640.7 1199.4,656.2 1199.6,641.5 1199.8,644.6 1200.0,659.7 1200.2,657.8 1200.4,652.9 1200.6,648.9 1200.8,640.4 1201.0,657.9 1201.2,663.1 1201.4,637.9 1201.6,662.4 1201.8,671.0 1202.0,637.5 1202.2,638.5 1202.4,668.8 1202.6,666.8 1202.8,665.2 1203.0,670.0 1203.2,643.9 1203.4,639.0 1203.6,644.1 1203.8,662.4 1204.0,649.4 1204.2,632.4 1204.4,637.7 1204.6,654.5 1204.8,663.9 1205.0,639.3 1205.2,654.5 1205.4,656.1 1205.6,659.2 1205.8,669.2 1206.0,662.7 1206.2,647.2 1206.4,647.5 1206.6,679.9 1206.8,646.1 1207.0,664.6 1207.2,665.7 1207.4,638.1 1207.6,655.4 1207.8,652.6 1208.0,649.0 1208.2,640.6 1208.4,663.1 1208.6,637.0 1208.8,654.7 1209.0,642.0 1209.2,655.5 1209.4,654.1 1209.6,637.2 1209.8,643.2 1210.0,657.5 1210.2,662.6 1210.4,665.3 1210.6,653.5 1210.8,663.7 1211.0,670.8 1211.2,667.4 1211.4,669.5 1211.6,668.8 1211.8,653.0 1212.0,657.5 1212.2,643.9 1212.4,650.7 1212.6,641.8 1212.8,649.7 1213.0,648.1 1213.2,655.1 1213.4,662.0 1213.6,660.8 1213.8,647.5 1214.0,652.9 1214.2,646.4 1214.4,658.1 1214.6,643.2 1214.8,649.0 1215.0,666.5 1215.2,639.3 1215.4,676.7 1215.6,656.3 1215.8,665.6 1216.0,654.0 1216.2,659.0 1216.4,670.1 1216.6,669.5 1216.8,639.4 1217.0,656.0 1217.2,660.0 1217.4,643.2 1217.6,665.4 1217.8,650.1 1218.0,643.8 1218.2,664.4 1218.4,664.6 1218.6,649.1 1218.8,632.0 1219.0,660.6 1219.2,657.6 1219.4,638.7 1219.6,656.3 1219.8,651.6 1220.0,645.4 1220.2,635.6 1220.4,659.5 1220.6,636.6 1220.8,637.9 1221.0,649.2 1221.2,643.5 1221.4,664.7 1221.6,667.9 1221.8,657.4 1222.0,636.6 1222.2,659.0 1222.4,669.1 1222.6,665.4 1222.8,654.5 1223.0,667.8 1223.2,649.2 1223.4,650.8 1223.6,653.4 1223.8,640.3 1224.0,647.4 1224.2,626.7 1224.4,639.6 1224.6,653.4 1224.8,659.2 1225.0,655.4 1225.2,652.2 1225.4,638.2 1225.6,651.0 1225.8,658.1 1226.0,652.2 1226.2,637.8 1226.4,641.9 1226.6,665.8 1226.8,665.4 1227.0,651.6 1227.2,660.3 1227.4,645.9 1227.6,669.5 1227.8,662.9 1228.0,663.1 1228.2,645.2 1228.4,653.3 1228.6,664.1 1228.8,641.0 1229.0,647.6 1229.2,633.1 1229.4,643.6 1229.6,652.0 1229.8,643.8 1230.0,664.4 1230.2,646.6 1230.4,634.5 1230.6,644.5 1230.8,662.0 1231.0,647.8 1231.2,658.3 1231.4,651.6 1231.6,664.0 1231.8,637.0 1232.0,662.9 1232.2,667.4 1232.4,639.9 1232.6,641.1 1232.8,659.4 1233.0,645.6 1233.2,664.1 1233.4,646.3 1233.6,664.9 1233.8,665.1 1234.0,642.0 1234.2,648.8 1234.4,657.0 1234.6,657.8 1234.8,634.8 1235.0,665.4 1235.2,664.2 1235.4,646.0 1235.6,653.8 1235.8,645.8 1236.0,661.8 1236.2,637.9 1236.4,660.1 1236.6,636.4 1236.8,636.5 1237.0,644.4 1237.2,665.5 1237.4,641.0 1237.6,654.5 1237.8,665.5 1238.0,646.5 1238.2,635.8 1238.4,633.7 1238.6,656.3 1238.8,634.0 1239.0,662.5 1239.2,639.9 1239.4,666.9 1239.6,658.0 1239.8,649.3 1240.0,652.3 1240.2,638.9 1240.4,655.5 1240.6,639.6 1240.8,650.7 1241.0,634.1 1241.2,661.5 1241.4,642.4 1241.6,655.4 1241.8,660.4 1242.0,656.4 1242.2,663.4 1242.4,649.7 1242.6,648.9 1242.8,635.7 1243.0,658.4 1243.2,647.1 1243.4,647.9 1243.6,657.4 1243.8,646.3 1244.0,633.2 1244.2,658.8 1244.4,673.7 1244.6,643.2 1244.8,658.8 1245.0,640.2 1245.2,637.3 1245.4,655.2 1245.6,640.4 1245.8,639.6 1246.0,634.0 1246.2,639.4 1246.4,641.1 1246.6,652.1 1246.8,674.6 1247.0,646.5 1247.2,645.5 1247.4,653.9 1247.6,665.9 1247.8,633.0 1248.0,656.3 1248.2,664.9 1248.4,636.3 1248.6,633.6 1248.8,654.0 1249.0,675.9 1249.2,660.1 1249.4,634.1 1249.6,652.1 1249.8,645.4 1250.0,660.2 1250.2,637.0 1250.4,631.7 1250.6,637.3 1250.8,649.7 1251.0,646.3 1251.2,662.5 1251.4,659.3 1251.6,659.5 1251.8,643.8 1252.0,627.7 1252.2,623.4 1252.4,645.2 1252.6,634.6 1252.8,664.2 1253.0,662.1 1253.2,642.9 1253.4,654.6 1253.6,637.0 1253.8,645.6 1254.0,643.6 1254.2,663.1 1254.4,653.1 1254.6,672.9 1254.8,646.6 1255.0,646.3 1255.2,648.0 1255.4,632.0 1255.6,654.5 1255.8,635.9 1256.0,637.0 1256.2,646.4 1256.4,633.9 1256.6,645.9 1256.8,630.7 1257.0,631.5 1257.2,644.8 1257.4,636.3 1257.6,653.7 1257.8,665.0 1258.0,660.2 1258.2,638.3 1258.4,643.6 1258.6,643.9 1258.8,638.0 1259.0,660.3 1259.2,632.7 1259.4,636.5 1259.6,643.0 1259.8,642.1 1260.0,662.2 1260.2,658.7 1260.4,650.0 1260.6,663.9 1260.8,660.7 1261.0,640.7 1261.2,644.8 1261.4,656.9 1261.6,657.2 1261.8,653.0 1262.0,631.0 1262.2,636.7 1262.4,652.6 1262.6,638.8 1262.8,650.0 1263.0,662.8 1263.2,656.2 1263.4,638.9 1263.6,648.8 1263.8,638.0 1264.0,658.2 1264.2,662.8 1264.4,654.7 1264.6,661.0 1264.8,643.9 1265.0,658.4 1265.2,620.1 1265.4,637.9 1265.6,641.5 1265.8,659.9 1266.0,634.7 1266.2,654.3 1266.4,655.1 1266.6,628.2 1266.8,646.2 1267.0,643.7 1267.2,652.0 1267.4,634.5 1267.6,644.4 1267.8,657.6 1268.0,657.9 1268.2,654.0 1268.4,644.1 1268.6,651.8 1268.8,650.7 1269.0,646.2 1269.2,635.1 1269.4,636.6 1269.6,639.9 1269.8,661.0 1270.0,650.2 1270.2,650.9 1270.4,633.1 1270.6,658.9 1270.8,628.0 1271.0,658.9 1271.2,657.4 1271.4,645.7 1271.6,645.5 1271.8,642.7 1272.0,643.7 1272.2,653.7 1272.4,642.9 1272.6,644.8 1272.8,657.7 1273.0,655.8 1273.2,636.8 1273.4,653.0 1273.6,647.4 1273.8,639.8 1274.0,626.1 1274.2,638.8 1274.4,653.5 1274.6,636.4 1274.8,626.5 1275.0,636.7 1275.2,640.5 1275.4,637.4 1275.6,625.0 1275.8,651.1 1276.0,630.7 1276.2,654.7 1276.4,645.7 1276.6,640.1 1276.8,635.0 1277.0,655.0 1277.2,628.0 1277.4,622.9 1277.6,655.6 1277.8,623.2 1278.0,655.7 1278.2,653.1 1278.4,630.1 1278.6,659.0 1278.8,623.6 1279.0,657.4 1279.2,623.3 1279.4,652.4 1279.6,646.6 1279.8,642.9 1280.0,650.5 1280.2,663.1 1280.4,627.0 1280.6,636.7 1280.8,632.7 1281.0,622.4 1281.2,643.0 1281.4,652.9 1281.6,623.4 1281.8,654.0 1282.0,631.2 1282.2,624.2 1282.4,655.4 1282.6,641.3 1282.8,631.3 1283.0,626.3 1283.2,622.5 1283.4,637.8 1283.6,624.8 1283.8,623.3 1284.0,638.2 1284.2,650.0 1284.4,618.6 1284.6,625.5 1284.8,629.0 1285.0,626.1 1285.2,631.6 1285.4,647.5 1285.6,626.1 1285.8,618.0 1286.0,643.3 1286.2,624.3 1286.4,628.7 1286.6,638.6 1286.8,642.5 1287.0,635.2 1287.2,635.6 1287.4,637.2 1287.6,623.1 1287.8,639.4 1288.0,625.0 1288.2,645.9 1288.4,611.4 1288.6,626.5 1288.8,624.2 1289.0,617.6 1289.2,634.0 1289.4,637.6 1289.6,627.6 1289.8,623.1 1290.0,613.9 1290.2,642.5 1290.4,633.6 1290.6,617.3 1290.8,628.4 1291.0,615.6 1291.2,645.6 1291.4,611.2 1291.6,646.9 1291.8,630.9 1292.0,644.9 1292.2,637.8 1292.4,611.9 1292.6,626.8 1292.8,642.7 1293.0,638.4 1293.2,638.3 1293.4,644.1 1293.6,626.3 1293.8,640.5 1294.0,614.9 1294.2,618.5 1294.4,638.5 1294.6,625.0 1294.8,610.0 1295.0,624.4 1295.2,609.1 1295.4,615.9 1295.6,635.7 1295.8,613.5 1296.0,605.5 1296.2,632.4 1296.4,608.6 1296.6,605.8 1296.8,610.9 1297.0,618.3 1297.2,611.3 1297.4,615.6 1297.6,597.6 1297.8,634.5 1298.0,603.5 1298.2,634.9 1298.4,605.9 1298.6,621.6 1298.8,606.3 1299.0,617.5 1299.2,629.4 1299.4,596.5 1299.6,616.2 1299.8,621.1 1300.0,593.3 1300.2,617.1 1300.4,597.0 1300.6,597.7 1300.8,618.2 1301.0,623.1 1301.2,600.8 1301.4,622.0 1301.6,602.7 1301.8,587.8 1302.0,597.6 1302.2,604.7 1302.4,606.5 1302.6,597.8 1302.8,605.7 1303.0,586.5 1303.2,587.6 1303.4,593.2 1303.6,596.1 1303.8,601.9 1304.0,609.1 1304.2,583.0 1304.4,614.7 1304.6,585.4 1304.8,601.2 1305.0,593.7 1305.2,611.9 1305.4,611.7 1305.6,616.7 1305.8,602.7 1306.0,587.6 1306.2,610.1 1306.4,613.3 1306.6,586.2 1306.8,614.9 1307.0,575.0 1307.2,597.0 1307.4,581.2 1307.6,582.7 1307.8,578.4 1308.0,594.0 1308.2,572.7 1308.4,606.6 1308.6,608.9 1308.8,595.7 1309.0,580.8 1309.2,575.2 1309.4,577.9 1309.6,555.6 1309.8,599.5 1310.0,585.6 1310.2,574.5 1310.4,563.9 1310.6,570.4 1310.8,594.4 1311.0,589.0 1311.2,612.4 1311.4,599.7 1311.6,581.1 1311.8,585.7 1312.0,583.6 1312.2,576.6 1312.4,557.4 1312.6,557.0 1312.8,561.4 1313.0,592.0 1313.2,583.0 1313.4,585.4 1313.6,577.2 1313.8,579.2 1314.0,555.5 1314.2,560.9 1314.4,594.1 1314.6,574.0 1314.8,593.4 1315.0,557.0 1315.2,580.3 1315.4,554.8 1315.6,557.4 1315.8,558.3 1316.0,546.5 1316.2,558.4 1316.4,567.1 1316.6,553.6 1316.8,554.1 1317.0,580.7 1317.2,542.6 1317.4,578.9 1317.6,559.4 1317.8,555.7 1318.0,543.5 1318.2,551.6 1318.4,540.6 1318.6,551.6 1318.8,547.5 1319.0,553.3 1319.2,559.0 1319.4,570.6 1319.6,562.6 1319.8,578.9 1320.0,541.4 1320.2,576.5 1320.4,563.5 1320.6,547.1 1320.8,532.2 1321.0,560.5 1321.2,582.8 1321.4,533.7 1321.6,540.1 1321.8,545.2 1322.0,532.7 1322.2,550.9 1322.4,571.7 1322.6,542.6 1322.8,544.1 1323.0,554.1 1323.2,568.1 1323.4,562.9 1323.6,527.4 1323.8,563.4 1324.0,551.8 1324.2,550.7 1324.4,552.4 1324.6,524.4 1324.8,535.2 1325.0,553.8 1325.2,538.6 1325.4,548.4 1325.6,545.4 1325.8,563.7 1326.0,530.7 1326.2,528.6 1326.4,520.1 1326.6,521.5 1326.8,517.6 1327.0,535.3 1327.2,520.5 1327.4,526.2 1327.6,543.8 1327.8,557.4 1328.0,559.0 1328.2,543.2 1328.4,551.3 1328.6,539.3 1328.8,557.5 1329.0,541.5 1329.2,521.2 1329.4,527.4 1329.6,526.7 1329.8,513.0 1330.0,539.6 1330.2,522.3 1330.4,533.1 1330.6,512.1 1330.8,535.0 1331.0,509.2 1331.2,541.7 1331.4,535.9 1331.6,537.0 1331.8,517.9 1332.0,505.3 1332.2,506.2 1332.4,539.3 1332.6,520.9 1332.8,520.5 1333.0,513.9 1333.2,542.6 1333.4,523.5 1333.6,543.5 1333.8,556.5 1334.0,542.9 1334.2,533.0 1334.4,505.0 1334.6,516.0 1334.8,507.3 1335.0,541.5 1335.2,514.9 1335.4,514.1 1335.6,528.0 1335.8,528.4 1336.0,523.2 1336.2,519.3 1336.4,540.1 1336.6,532.2 1336.8,541.1 1337.0,520.9 1337.2,525.9 1337.4,550.2 1337.6,531.9 1337.8,561.8 1338.0,551.7 1338.2,530.5 1338.4,546.9 1338.6,574.1 1338.8,536.6 1339.0,556.0 1339.2,570.3 1339.4,562.8 1339.6,542.2 1339.8,555.1 1340.0,582.3 1340.2,551.4 1340.4,553.1 1340.6,574.3 1340.8,558.5 1341.0,562.8 1341.2,522.6 1341.4,543.6 1341.6,544.3 1341.8,568.0 1342.0,557.8 1342.2,537.6 1342.4,580.4 1342.6,539.6 1342.8,576.8 1343.0,590.2 1343.2,558.3 1343.4,558.7 1343.6,539.3 1343.8,565.7 1344.0,567.9 1344.2,533.9 1344.4,582.5 1344.6,543.2 1344.8,579.7 1345.0,566.7 1345.2,561.6 1345.4,587.0 1345.6,554.3 1345.8,562.6 1346.0,588.4 1346.2,557.6 1346.4,546.9 1346.6,567.1 1346.8,556.0 1347.0,580.4 1347.2,570.3 1347.4,551.0 1347.6,566.0 1347.8,562.5 1348.0,550.3 1348.2,567.8 1348.4,590.8 1348.6,549.2 1348.8,578.5 1349.0,553.1 1349.2,578.9 1349.4,575.0 1349.6,556.8 1349.8,572.9 1350.0,582.0 1350.2,591.7 1350.4,588.9 1350.6,575.9 1350.8,579.7 1351.0,568.2 1351.2,592.0 1351.4,563.6 1351.6,594.0 1351.8,593.7 1352.0,568.4 1352.2,592.5 1352.4,594.5 1352.6,573.0 1352.8,560.4 1353.0,582.5 1353.2,582.0 1353.4,565.3 1353.6,589.8 1353.8,577.8 1354.0,603.5 1354.2,596.1 1354.4,585.0 1354.6,587.9 1354.8,564.0 1355.0,575.4 1355.2,597.6 1355.4,578.2 1355.6,591.1 1355.8,576.6 1356.0,603.6 1356.2,586.0 1356.4,597.3 1356.6,570.9 1356.8,586.6 1357.0,604.2 1357.2,587.3 1357.4,601.6 1357.6,601.2 1357.8,590.1 1358.0,597.0 1358.2,571.3 1358.4,578.0 1358.6,581.8 1358.8,595.9 1359.0,604.7 1359.2,586.4 1359.4,579.1 1359.6,610.1 1359.8,595.1 1360.0,604.6 1360.2,608.7 1360.4,599.8 1360.6,592.9 1360.8,577.1 1361.0,586.5 1361.2,602.6 1361.4,578.2 1361.6,616.8 1361.8,586.4 1362.0,611.3 1362.2,595.3 1362.4,619.1 1362.6,611.4 1362.8,616.2 1363.0,575.2 1363.2,580.7 1363.4,595.1 1363.6,618.2 1363.8,608.3 1364.0,611.9 1364.2,612.8 1364.4,596.5 1364.6,605.2 1364.8,586.9 1365.0,616.1 1365.2,621.9 1365.4,610.2 1365.6,597.2 1365.8,617.9 1366.0,599.2 1366.2,600.6 1366.4,597.7 1366.6,601.7 1366.8,592.1 1367.0,623.5 1367.2,623.0 1367.4,630.8 1367.6,590.2 1367.8,594.7 1368.0,600.9 1368.2,598.1 1368.4,597.9 1368.6,603.1 1368.8,602.2 1369.0,618.6 1369.2,603.7 1369.4,625.9 1369.6,586.5 1369.8,600.9 1370.0,619.2 1370.2,631.7 1370.4,627.2 1370.6,594.8 1370.8,602.9 1371.0,610.0 1371.2,629.3 1371.4,594.8 1371.6,623.1 1371.8,602.6 1372.0,612.1 1372.2,615.0 1372.4,624.4 1372.6,629.8 1372.8,618.5 1373.0,616.4 1373.2,616.9 1373.4,608.7 1373.6,610.9 1373.8,619.2 1374.0,609.1 1374.2,632.5 1374.4,623.9 1374.6,613.3 1374.8,606.9 1375.0,625.0 1375.2,635.5 1375.4,607.4 1375.6,607.8 1375.8,619.0 1376.0,630.9 1376.2,639.7 1376.4,619.0 1376.6,623.3 1376.8,633.3 1377.0,637.5 1377.2,603.9 1377.4,627.9 1377.6,624.1 1377.8,633.2 1378.0,637.4 1378.2,629.1 1378.4,638.8 1378.6,621.6 1378.8,625.8 1379.0,625.7 1379.2,624.5 1379.4,618.9 1379.6,630.3 1379.8,638.7 1380.0,625.3 1380.2,637.1 1380.4,617.9 1380.6,633.4 1380.8,620.3 1381.0,622.3 1381.2,644.5 1381.4,611.8 1381.6,637.1 1381.8,640.0 1382.0,629.4 1382.2,638.2 1382.4,616.4 1382.6,639.6 1382.8,631.4 1383.0,639.8 1383.2,637.1 1383.4,630.5 1383.6,633.5 1383.8,617.8 1384.0,647.7 1384.2,633.8 1384.4,648.0 1384.6,612.5 1384.8,657.8 1385.0,621.0 1385.2,645.1 1385.4,639.5 1385.6,632.5 1385.8,621.6 1386.0,633.1 1386.2,617.4 1386.4,637.2 1386.6,623.8 1386.8,643.2 1387.0,636.3 1387.2,630.9 1387.4,629.5 1387.6,624.3 1387.8,620.2 1388.0,632.5 1388.2,631.2 1388.4,645.9 1388.6,623.6 1388.8,649.0 1389.0,654.5 1389.2,629.8 1389.4,653.7 1389.6,641.4 1389.8,642.7 1390.0,612.3 1390.2,653.7 1390.4,619.9 1390.6,653.9 1390.8,641.5 1391.0,653.9 1391.2,635.5 1391.4,643.6 1391.6,630.4 1391.8,623.5 1392.0,624.6 1392.2,645.6 1392.4,617.8 1392.6,632.0 1392.8,637.1 1393.0,649.8 1393.2,652.1 1393.4,650.6 1393.6,629.8 1393.8,624.8 1394.0,625.4 1394.2,648.5 1394.4,652.1 1394.6,641.4 1394.8,650.2 1395.0,657.6 1395.2,653.6 1395.4,628.5 1395.6,648.3 1395.8,648.8 1396.0,655.6 1396.2,655.8 1396.4,648.1 1396.6,648.1 1396.8,633.2 1397.0,654.0 1397.2,662.6 1397.4,640.8 1397.6,643.2 1397.8,642.0 1398.0,631.6 1398.2,666.5 1398.4,661.6 1398.6,639.0 1398.8,631.2 1399.0,640.5 1399.2,628.3 1399.4,643.2 1399.6,645.1 1399.8,660.5 1400.0,637.6 1400.2,640.7 1400.4,639.1 1400.6,660.2 1400.8,634.8 1401.0,661.3 1401.2,657.8 1401.4,626.8 1401.6,630.1 1401.8,666.4 1402.0,637.7 1402.2,653.4 1402.4,626.1 1402.6,662.8 1402.8,639.5 1403.0,675.9 1403.2,649.0 1403.4,633.7 1403.6,655.0 1403.8,634.1 1404.0,655.9 1404.2,649.7 1404.4,651.9 1404.6,641.6 1404.8,642.5 1405.0,647.6 1405.2,663.1 1405.4,654.2 1405.6,662.3 1405.8,648.2 1406.0,653.1 1406.2,642.7 1406.4,646.5 1406.6,648.5 1406.8,645.0 1407.0,645.5 1407.2,663.3 1407.4,655.3 1407.6,662.0 1407.8,658.1 1408.0,640.0 1408.2,649.7 1408.4,659.5 1408.6,659.5 1408.8,652.9 1409.0,640.6 1409.2,655.5 1409.4,670.9 1409.6,660.2 1409.8,644.2 1410.0,642.7 1410.2,669.8 1410.4,657.3 1410.6,654.5 1410.8,646.4 1411.0,671.5 1411.2,644.6 1411.4,660.8 1411.6,662.4 1411.8,661.1 1412.0,657.9 1412.2,667.5 1412.4,650.7 1412.6,648.1 1412.8,655.3 1413.0,663.9 1413.2,649.8 1413.4,644.0 1413.6,654.2 1413.8,648.6 1414.0,641.9 1414.2,661.6 1414.4,653.6 1414.6,662.6 1414.8,661.5 1415.0,668.0 1415.2,658.9 1415.4,665.7 1415.6,654.6 1415.8,653.3 1416.0,640.8 1416.2,641.3 1416.4,643.6 1416.6,660.0 1416.8,643.0 1417.0,673.2 1417.2,673.5 1417.4,669.7 1417.6,652.9 1417.8,661.3 1418.0,650.9 1418.2,670.8 1418.4,670.3 1418.6,664.4 1418.8,656.5 1419.0,653.0 1419.2,660.9 1419.4,674.9 1419.6,654.8 1419.8,649.5 1420.0,677.7 1420.2,653.6 1420.4,666.9 1420.6,661.6 1420.8,649.1 1421.0,662.7 1421.2,665.5 1421.4,648.8 1421.6,651.9 1421.8,668.7 1422.0,655.0 1422.2,658.2 1422.4,658.4 1422.6,671.3 1422.8,649.3 1423.0,642.6 1423.2,670.7 1423.4,650.7 1423.6,669.8 1423.8,662.9 1424.0,662.3 1424.2,646.2 1424.4,659.7 1424.6,647.0 1424.8,651.2 1425.0,656.9 1425.2,665.8 1425.4,649.2 1425.6,658.7 1425.8,645.7 1426.0,661.0 1426.2,656.3 1426.4,648.2 1426.6,644.8 1426.8,660.0 1427.0,657.5 1427.2,666.2 1427.4,661.1 1427.6,647.7 1427.8,664.3 1428.0,668.7 1428.2,647.3 1428.4,649.6 1428.6,672.2 1428.8,668.5 1429.0,671.1 1429.2,648.6 1429.4,676.3 1429.6,663.6 1429.8,646.4 1430.0,650.7 1430.2,664.4 1430.4,663.3 1430.6,646.9 1430.8,674.1 1431.0,655.5 1431.2,684.5 1431.4,671.6 1431.6,660.9 1431.8,673.5 1432.0,662.2 1432.2,660.6 1432.4,652.8 1432.6,656.8 1432.8,652.8 1433.0,670.3 1433.2,669.7 1433.4,636.1 1433.6,674.0 1433.8,649.6 1434.0,655.6 1434.2,659.0 1434.4,657.0 1434.6,670.4 1434.8,663.9 1435.0,646.4 1435.2,645.1 1435.4,660.9 1435.6,645.0 1435.8,646.8 1436.0,678.4 1436.2,680.8 1436.4,650.9 1436.6,676.6 1436.8,644.5 1437.0,666.6 1437.2,668.7 1437.4,670.5 1437.6,651.9 1437.8,648.2 1438.0,662.1 1438.2,665.5 1438.4,667.6 1438.6,666.3 1438.8,649.3 1439.0,660.5 1439.2,651.1 1439.4,644.2 1439.6,668.7 1439.8,642.2 1440.0,653.1 1440.2,658.7 1440.4,641.4 1440.6,662.9 1440.8,654.6 1441.0,666.5 1441.2,654.2 1441.4,659.6 1441.6,642.2 1441.8,673.0 1442.0,645.1 1442.2,663.2 1442.4,674.7 1442.6,665.5 1442.8,651.8 1443.0,666.7 1443.2,663.8 1443.4,663.8 1443.6,643.6 1443.8,671.0 1444.0,651.1 1444.2,650.2 1444.4,638.4 1444.6,642.5 1444.8,644.5 1445.0,660.7 1445.2,652.4 1445.4,641.9 1445.6,645.9 1445.8,664.1 1446.0,666.5 1446.2,672.4 1446.4,671.4 1446.6,665.0 1446.8,649.6 1447.0,666.6 1447.2,662.4 1447.4,661.6 1447.6,658.6 1447.8,674.0 1448.0,647.9 1448.2,669.7 1448.4,671.2 1448.6,656.7 1448.8,646.9 1449.0,644.2 1449.2,671.8 1449.4,648.0 1449.6,664.8 1449.8,665.1 1450.0,658.2 1450.2,646.3 1450.4,648.9 1450.6,641.9 1450.8,642.6 1451.0,671.2 1451.2,672.4 1451.4,656.9 1451.6,654.7 1451.8,670.0 1452.0,651.8 1452.2,656.9 1452.4,667.6 1452.6,670.1 1452.8,646.7 1453.0,658.3 1453.2,642.3 1453.4,655.3 1453.6,654.9 1453.8,644.3 1454.0,655.1 1454.2,651.6 1454.4,642.8 1454.6,673.7 1454.8,659.1 1455.0,656.5 1455.2,656.5 1455.4,661.4 1455.6,655.2 1455.8,675.1 1456.0,646.3 1456.2,675.0 1456.4,670.7 1456.6,651.5 1456.8,661.3 1457.0,649.4 1457.2,653.1 1457.4,645.3 1457.6,658.5 1457.8,652.0 1458.0,658.0 1458.2,676.2 1458.4,662.3 1458.6,655.1 1458.8,670.5 1459.0,672.9 1459.2,650.4 1459.4,670.3 1459.6,674.4 1459.8,671.9 1460.0,664.3 1460.2,673.1 1460.4,655.2 1460.6,644.7 1460.8,664.5 1461.0,662.0 1461.2,643.6 1461.4,655.2 1461.6,658.6 1461.8,660.3 1462.0,647.6 1462.2,664.4 1462.4,647.7 1462.6,653.0 1462.8,662.4 1463.0,677.3 1463.2,655.4 1463.4,649.0 1463.6,655.8 1463.8,648.5 1464.0,675.2 1464.2,656.9 1464.4,665.8 1464.6,655.9 1464.8,665.8 1465.0,650.5 1465.2,661.3 1465.4,665.4 1465.6,663.9 1465.8,672.6 1466.0,671.6 1466.2,638.7 1466.4,665.4 1466.6,653.5 1466.8,675.7 1467.0,658.2 1467.2,668.5 1467.4,673.5 1467.6,674.7 1467.8,661.7 1468.0,671.3 1468.2,677.5 1468.4,668.0 1468.6,655.1 1468.8,679.3 1469.0,649.0 1469.2,658.0 1469.4,672.5 1469.6,676.5 1469.8,669.0 1470.0,664.2 1470.2,672.7 1470.4,647.8 1470.6,654.7 1470.8,656.6 1471.0,659.5 1471.2,685.6 1471.4,680.2 1471.6,679.4 1471.8,651.1 1472.0,646.0 1472.2,669.3 1472.4,658.2 1472.6,675.5 1472.8,668.7 1473.0,667.3 1473.2,678.7 1473.4,663.7 1473.6,666.1 1473.8,651.9 1474.0,678.1 1474.2,651.3 1474.4,666.1 1474.6,667.6 1474.8,669.0 1475.0,672.6 1475.2,651.5 1475.4,657.9 1475.6,662.1 1475.8,648.0 1476.0,676.8 1476.2,658.8 1476.4,677.6 1476.6,653.0 1476.8,668.0 1477.0,654.7 1477.2,662.7 1477.4,653.1 1477.6,639.1 1477.8,661.3 1478.0,656.3 1478.2,648.6 1478.4,649.9 1478.6,670.2 1478.8,660.5 1479.0,674.8 1479.2,651.1 1479.4,678.4 1479.6,676.4 1479.8,663.8 1480.0,654.0 1480.2,677.3 1480.4,680.5 1480.6,674.9 1480.8,670.3 1481.0,673.4 1481.2,672.6 1481.4,662.4 1481.6,650.0 1481.8,649.0 1482.0,672.7 1482.2,661.1 1482.4,665.7 1482.6,676.1 1482.8,678.0 1483.0,659.9 1483.2,647.3 1483.4,649.6 1483.6,674.6 1483.8,679.5 1484.0,661.7 1484.2,660.7 1484.4,660.1 1484.6,673.2 1484.8,671.8 1485.0,649.1 1485.2,674.7 1485.4,671.8 1485.6,672.9 1485.8,658.2 1486.0,664.1 1486.2,653.7 1486.4,681.2 1486.6,673.0 1486.8,658.5 1487.0,663.8 1487.2,659.1 1487.4,668.2 1487.6,669.5 1487.8,655.3 1488.0,649.1 1488.2,648.3 1488.4,664.9 1488.6,652.3 1488.8,653.1 1489.0,653.4 1489.2,657.7 1489.4,652.1 1489.6,679.3 1489.8,659.2 1490.0,646.8 1490.2,669.3 1490.4,671.1 1490.6,654.5 1490.8,677.7 1491.0,659.3 1491.2,674.7 1491.4,648.4 1491.6,653.6 1491.8,657.7 1492.0,681.2 1492.2,673.9 1492.4,660.8 1492.6,665.2 1492.8,642.3 1493.0,669.9 1493.2,647.3 1493.4,649.9 1493.6,645.4 1493.8,658.9 1494.0,672.0 1494.2,656.5 1494.4,669.7 1494.6,649.8 1494.8,649.5 1495.0,649.1 1495.2,672.7 1495.4,674.0 1495.6,675.3 1495.8,634.4 1496.0,666.6 1496.2,643.9 1496.4,649.5 1496.6,655.6 1496.8,669.1 1497.0,667.0 1497.2,648.9 1497.4,666.9 1497.6,673.7 1497.8,643.1 1498.0,649.2 1498.2,650.9 1498.4,646.7 1498.6,673.3 1498.8,676.1 1499.0,648.6 1499.2,651.5 1499.4,670.8 1499.6,674.3 1499.8,645.7 1500.0,663.9 1500.2,643.7 1500.4,661.3 1500.6,675.1 1500.8,648.0 1501.0,665.3 1501.2,643.7 1501.4,646.8 1501.6,632.6 1501.8,666.2 1502.0,665.0 1502.2,651.5 1502.4,657.1 1502.6,644.2 1502.8,664.0 1503.0,652.3 1503.2,667.1 1503.4,660.3 1503.6,643.2 1503.8,642.8 1504.0,640.7 1504.2,672.5 1504.4,671.6 1504.6,647.5 1504.8,645.4 1505.0,655.4 1505.2,659.1 1505.4,659.6 1505.6,672.7 1505.8,652.6 1506.0,647.5 1506.2,654.0 1506.4,670.7 1506.6,646.1 1506.8,646.1 1507.0,651.7 1507.2,638.6 1507.4,659.8 1507.6,635.9 1507.8,657.9 1508.0,650.1 1508.2,668.8 1508.4,670.3 1508.6,667.0 1508.8,645.6 1509.0,669.9 1509.2,663.1 1509.4,650.5 1509.6,654.0 1509.8,653.8 1510.0,656.8 1510.2,651.5 1510.4,634.1 1510.6,648.8 1510.8,653.2 1511.0,665.0 1511.2,636.9 1511.4,671.5 1511.6,653.9 1511.8,674.5 1512.0,643.3 1512.2,669.3 1512.4,668.5 1512.6,645.5 1512.8,646.1 1513.0,641.6 1513.2,652.4 1513.4,667.5 1513.6,658.6 1513.8,639.9 1514.0,662.9 1514.2,659.1 1514.4,638.9 1514.6,670.1 1514.8,648.1 1515.0,657.0 1515.2,640.8 1515.4,635.9 1515.6,630.2 1515.8,635.5 1516.0,642.2 1516.2,653.5 1516.4,654.8 1516.6,652.1 1516.8,662.8 1517.0,665.5 1517.2,645.5 1517.4,639.2 1517.6,663.6 1517.8,659.3 1518.0,656.2 1518.2,652.2 1518.4,654.6 1518.6,644.8 1518.8,678.4 1519.0,646.1 1519.2,638.4 1519.4,665.5 1519.6,637.2 1519.8,651.6 1520.0,646.1 1520.2,633.6 1520.4,636.3 1520.6,647.5 1520.8,642.4 1521.0,652.0 1521.2,659.1 1521.4,660.8 1521.6,653.1 1521.8,633.0 1522.0,635.5 1522.2,661.0 1522.4,656.0 1522.6,654.1 1522.8,662.9 1523.0,660.0 1523.2,632.9 1523.4,656.8 1523.6,647.1 1523.8,644.4 1524.0,632.7 1524.2,651.2 1524.4,656.7 1524.6,666.3 1524.8,651.9 1525.0,666.9 1525.2,637.9 1525.4,634.3 1525.6,647.5 1525.8,635.7 1526.0,652.1 1526.2,652.5 1526.4,667.2 1526.6,639.7 1526.8,654.9 1527.0,636.5 1527.2,661.4 1527.4,654.0 1527.6,647.2 1527.8,626.5 1528.0,628.8 1528.2,650.0 1528.4,639.0 1528.6,639.1 1528.8,658.6 1529.0,649.7 1529.2,629.2 1529.4,649.5 1529.6,661.9 1529.8,632.4 1530.0,653.0 1530.2,641.0 1530.4,645.0 1530.6,633.4 1530.8,651.7 1531.0,644.6 1531.2,638.0 1531.4,640.2 1531.6,653.6 1531.8,634.4 1532.0,616.7 1532.2,616.9 1532.4,649.0 1532.6,642.4 1532.8,617.0 1533.0,651.4 1533.2,647.9 1533.4,614.9 1533.6,647.4 1533.8,626.1 1534.0,614.0 1534.2,649.4 1534.4,648.9 1534.6,649.0 1534.8,625.1 1535.0,636.9 1535.2,626.7 1535.4,644.7 1535.6,623.4 1535.8,643.3 1536.0,630.7 1536.2,637.0 1536.4,615.8 1536.6,612.7 1536.8,640.5 1537.0,607.3 1537.2,640.6 1537.4,627.2 1537.6,633.8 1537.8,628.5 1538.0,623.5 1538.2,605.1 1538.4,626.7 1538.6,624.2 1538.8,636.7 1539.0,645.9 1539.2,617.7 1539.4,600.7 1539.6,637.0 1539.8,611.1 1540.0,637.6 1540.2,621.7 1540.4,610.1 1540.6,627.7 1540.8,611.4 1541.0,608.8 1541.2,619.2 1541.4,618.7 1541.6,600.5 1541.8,615.9 1542.0,614.8 1542.2,609.7 1542.4,602.2 1542.6,609.0 1542.8,635.9 1543.0,610.3 1543.2,615.0 1543.4,630.1 1543.6,616.7 1543.8,611.6 1544.0,621.2 1544.2,619.2 1544.4,594.8 1544.6,597.4 1544.8,616.4 1545.0,630.8 1545.2,594.1 1545.4,631.3 1545.6,614.9 1545.8,620.0 1546.0,595.2 1546.2,628.7 1546.4,625.7 1546.6,602.8 1546.8,613.2 1547.0,590.7 1547.2,605.6 1547.4,592.9 1547.6,602.1 1547.8,608.2 1548.0,594.0 1548.2,585.0 1548.4,589.8 1548.6,604.4 1548.8,592.7 1549.0,585.5 1549.2,588.9 1549.4,593.7 1549.6,606.9 1549.8,606.7 1550.0,597.7 1550.2,605.7 1550.4,586.2 1550.6,586.8 1550.8,585.4 1551.0,589.0 1551.2,602.0 1551.4,576.8 1551.6,570.3 1551.8,585.7 1552.0,582.8 1552.2,567.2 1552.4,597.9 1552.6,581.6 1552.8,605.0 1553.0,588.0 1553.2,571.2 1553.4,567.2 1553.6,563.1 1553.8,576.6 1554.0,582.1 1554.2,582.8 1554.4,565.0 1554.6,598.2 1554.8,586.5 1555.0,588.6 1555.2,583.4 1555.4,557.8 1555.6,561.1 1555.8,564.6 1556.0,570.8 1556.2,587.8 1556.4,558.0 1556.6,555.4 1556.8,574.3 1557.0,567.4 1557.2,554.1 1557.4,577.8 1557.6,584.5 1557.8,556.2 1558.0,577.3 1558.2,547.8 1558.4,566.8 1558.6,580.2 1558.8,575.3 1559.0,580.2 1559.2,581.5 1559.4,579.2 1559.6,542.8 1559.8,563.9 1560.0,552.3 1560.2,570.8 1560.4,546.0 1560.6,557.9 1560.8,577.5 1561.0,548.5 1561.2,544.1 1561.4,540.8 1561.6,557.3 1561.8,559.6 1562.0,542.9 1562.2,529.2 1562.4,563.7 1562.6,540.0 1562.8,567.7 1563.0,549.1 1563.2,525.5 1563.4,567.9 1563.6,525.8 1563.8,557.4 1564.0,560.0 1564.2,530.9 1564.4,541.2 1564.6,568.6 1564.8,542.9 1565.0,566.3 1565.2,567.9 1565.4,557.8 1565.6,552.7 1565.8,541.7 1566.0,532.1 1566.2,521.8 1566.4,531.8 1566.6,519.4 1566.8,558.0 1567.0,538.3 1567.2,522.7 1567.4,535.3 1567.6,531.7 1567.8,545.1 1568.0,557.6 1568.2,528.4 1568.4,538.9 1568.6,534.2 1568.8,560.0 1569.0,522.1 1569.2,565.9 1569.4,539.6 1569.6,565.3 1569.8,531.5 1570.0,552.1 1570.2,554.0 1570.4,536.6 1570.6,545.6 1570.8,514.3 1571.0,566.3 1571.2,562.4 1571.4,530.6 1571.6,555.1 1571.8,535.4 1572.0,531.9 1572.2,547.9 1572.4,567.6 1572.6,544.8 1572.8,524.4 1573.0,548.7 1573.2,549.3 1573.4,566.6 1573.6,556.3 1573.8,527.3 1574.0,529.0 1574.2,543.0 1574.4,571.2 1574.6,558.7 1574.8,566.7 1575.0,539.8 1575.2,553.2 1575.4,571.6 1575.6,552.0 1575.8,536.4 1576.0,564.7 1576.2,562.7 1576.4,560.0 1576.6,540.1 1576.8,566.2 1577.0,566.3 1577.2,570.6 1577.4,571.1 1577.6,553.2 1577.8,554.9 1578.0,541.6 1578.2,544.6 1578.4,555.7 1578.6,566.6 1578.8,554.5 1579.0,570.4 1579.2,536.1 1579.4,585.9 1579.6,548.5 1579.8,571.6 1580.0,576.2 1580.2,560.5 1580.4,545.5 1580.6,556.4 1580.8,553.7 1581.0,548.9 1581.2,556.0 1581.4,568.1 1581.6,574.8 1581.8,566.3 1582.0,571.4 1582.2,543.4 1582.4,574.0 1582.6,548.1 1582.8,549.3 1583.0,569.3 1583.2,542.5 1583.4,570.7 1583.6,575.1 1583.8,570.8 1584.0,585.5 1584.2,578.6 1584.4,546.7 1584.6,565.9 1584.8,559.4 1585.0,544.9 1585.2,577.4 1585.4,559.9 1585.6,548.6 1585.8,581.7 1586.0,549.6 1586.2,601.6 1586.4,580.4 1586.6,585.6 1586.8,562.0 1587.0,552.0 1587.2,552.4 1587.4,570.4 1587.6,556.3 1587.8,558.1 1588.0,587.9 1588.2,585.4 1588.4,578.4 1588.6,581.6 1588.8,583.0 1589.0,578.5 1589.2,577.4 1589.4,572.0 1589.6,581.1 1589.8,595.5 1590.0,600.7 1590.2,580.0 1590.4,582.0 1590.6,591.6 1590.8,581.9 1591.0,589.9 1591.2,572.9 1591.4,575.6 1591.6,575.1 1591.8,564.3 1592.0,602.8 1592.2,592.7 1592.4,569.6 1592.6,571.6 1592.8,572.4 1593.0,586.8 1593.2,601.7 1593.4,573.7 1593.6,609.9 1593.8,580.8 1594.0,592.0 1594.2,576.7 1594.4,592.0 1594.6,616.2 1594.8,578.1 1595.0,585.6 1595.2,589.4 1595.4,606.2 1595.6,567.3 1595.8,594.6 1596.0,612.2 1596.2,590.0 1596.4,584.5 1596.6,609.9 1596.8,601.1 1597.0,593.9 1597.2,596.8 1597.4,609.3 1597.6,596.6 1597.8,601.5 1598.0,581.7 1598.2,596.9 1598.4,615.3 1598.6,607.2 1598.8,586.0 1599.0,584.7 1599.2,611.0 1599.4,579.3 1599.6,591.4 1599.8,592.6 1600.0,611.9 1600.2,593.5 1600.4,621.2 1600.6,606.4 1600.8,607.1 1601.0,609.3 1601.2,615.8 1601.4,611.0 1601.6,590.5 1601.8,590.0 1602.0,606.7 1602.2,607.1 1602.4,584.1 1602.6,618.7 1602.8,612.4 1603.0,609.4 1603.2,621.1 1603.4,618.2 1603.6,593.8 1603.8,605.9 1604.0,606.1 1604.2,594.2 1604.4,601.5 1604.6,593.7 1604.8,625.4 1605.0,590.5 1605.2,607.9 1605.4,617.5 1605.6,621.9 1605.8,597.5 1606.0,590.3 1606.2,614.5 1606.4,613.5 1606.6,598.8 1606.8,622.9 1607.0,625.0 1607.2,591.0 1607.4,608.9 1607.6,608.9 1607.8,597.3 1608.0,599.0 1608.2,600.7 1608.4,632.5 1608.6,620.8 1608.8,622.4 1609.0,618.5 1609.2,606.0 1609.4,592.8 1609.6,630.2 1609.8,622.6 1610.0,593.5 1610.2,605.8 1610.4,592.2 1610.6,629.0 1610.8,629.0 1611.0,630.0 1611.2,622.7 1611.4,593.5 1611.6,605.0 1611.8,594.5 1612.0,633.0 1612.2,601.1 1612.4,598.4 1612.6,622.8 1612.8,603.5 1613.0,608.3 1613.2,632.5 1613.4,619.2 1613.6,610.1 1613.8,630.7 1614.0,605.3 1614.2,612.4 1614.4,634.5 1614.6,609.3 1614.8,633.6 1615.0,618.6 1615.2,617.2 1615.4,635.5 1615.6,634.2 1615.8,627.2 1616.0,616.0 1616.2,627.3 1616.4,612.0 1616.6,604.7 1616.8,619.0 1617.0,636.5 1617.2,617.9 1617.4,623.1 1617.6,606.6 1617.8,628.9 1618.0,626.0 1618.2,608.9 1618.4,612.1 1618.6,622.5 1618.8,599.9 1619.0,614.1 1619.2,632.5 1619.4,630.7 1619.6,620.3 1619.8,630.5 1620.0,613.2 1620.2,604.7 1620.4,610.1 1620.6,627.3 1620.8,617.2 1621.0,639.6 1621.2,610.3 1621.4,616.2 1621.6,636.8 1621.8,619.5 1622.0,633.8 1622.2,628.5 1622.4,624.8 1622.6,614.3 1622.8,635.3 1623.0,615.7 1623.2,631.3 1623.4,623.6 1623.6,603.7 1623.8,630.2 1624.0,627.2 1624.2,606.6 1624.4,623.8 1624.6,622.6 1624.8,615.5 1625.0,614.8 1625.2,632.0 1625.4,625.2 1625.6,635.5 1625.8,617.5 1626.0,631.2 1626.2,617.9 1626.4,633.1 1626.6,606.7 1626.8,637.1 1627.0,640.7 1627.2,637.6 1627.4,629.4 1627.6,645.6 1627.8,641.2 1628.0,639.2 1628.2,619.1 1628.4,633.2 1628.6,630.3 1628.8,624.4 1629.0,641.8 1629.2,611.5 1629.4,638.1 1629.6,641.6 1629.8,619.2 1630.0,630.5 1630.2,640.4 1630.4,640.5 1630.6,617.0 1630.8,630.9 1631.0,615.8 1631.2,609.9 1631.4,641.9 1631.6,611.2 1631.8,611.6 1632.0,614.5 1632.2,636.3 1632.4,639.1 1632.6,622.0 1632.8,625.2 1633.0,640.6 1633.2,621.9 1633.4,626.8 1633.6,632.7 1633.8,630.0 1634.0,621.7 1634.2,624.8 1634.4,639.7 1634.6,628.4 1634.8,637.8 1635.0,623.4 1635.2,628.8 1635.4,643.7 1635.6,636.5 1635.8,632.7 1636.0,636.2 1636.2,644.6 1636.4,614.1 1636.6,629.8 1636.8,623.5 1637.0,624.2 1637.2,631.8 1637.4,621.7 1637.6,617.9 1637.8,634.5 1638.0,620.1 1638.2,635.1 1638.4,611.0 1638.6,646.3 1638.8,636.5 1639.0,643.4 1639.2,644.3 1639.4,608.9 1639.6,621.8 1639.8,612.0 1640.0,624.5 1640.2,611.6 1640.4,619.0 1640.6,636.6 1640.8,616.8 1641.0,633.9 1641.2,624.4 1641.4,634.0 1641.6,643.3 1641.8,646.8 1642.0,625.6 1642.2,617.6 1642.4,616.8 1642.6,615.1 1642.8,618.7 1643.0,629.9 1643.2,645.5 1643.4,645.3 1643.6,624.4 1643.8,637.4 1644.0,615.1 1644.2,621.1 1644.4,641.6 1644.6,624.8 1644.8,646.3 1645.0,624.4 1645.2,629.9 1645.4,631.0 1645.6,618.9 1645.8,633.4 1646.0,638.9 1646.2,637.3 1646.4,614.2 1646.6,614.8 1646.8,619.3 1647.0,629.1 1647.2,614.3 1647.4,625.2 1647.6,633.7 1647.8,641.5 1648.0,614.5 1648.2,634.5 1648.4,640.1 1648.6,620.1 1648.8,637.6 1649.0,634.3 1649.2,630.1 1649.4,648.3 1649.6,618.3 1649.8,637.3 1650.0,613.4 1650.2,623.9 1650.4,621.3 1650.6,635.6 1650.8,628.4 1651.0,612.9 1651.2,623.0 1651.4,646.6 1651.6,617.0 1651.8,642.7 1652.0,630.4 1652.2,616.7 1652.4,613.2 1652.6,620.4 1652.8,629.3 1653.0,642.8 1653.2,648.1 1653.4,624.4 1653.6,632.3 1653.8,648.4 1654.0,634.8 1654.2,623.3 1654.4,627.2 1654.6,637.2 1654.8,638.8 1655.0,615.7 1655.2,624.1 1655.4,656.9 1655.6,605.5 1655.8,635.6 1656.0,603.0 1656.2,618.1 1656.4,628.0 1656.6,641.8 1656.8,620.0 1657.0,626.7 1657.2,648.6 1657.4,624.8 1657.6,644.7 1657.8,646.2 1658.0,649.6 1658.2,642.6 1658.4,650.0 1658.6,621.6 1658.8,647.5 1659.0,642.2 1659.2,631.8 1659.4,642.7 1659.6,642.5 1659.8,616.1 1660.0,641.2 1660.2,620.9 1660.4,632.1 1660.6,644.7 1660.8,638.4 1661.0,648.0 1661.2,640.3 1661.4,628.9 1661.6,618.0 1661.8,616.4 1662.0,641.0 1662.2,622.7 1662.4,624.0 1662.6,641.2 1662.8,625.4 1663.0,637.7 1663.2,657.9 1663.4,638.2 1663.6,636.2 1663.8,646.8 1664.0,631.7 1664.2,630.6 1664.4,626.6 1664.6,624.7 1664.8,626.7 1665.0,623.4 1665.2,623.2 1665.4,636.5 1665.6,632.3 1665.8,619.6 1666.0,637.5 1666.2,640.1 1666.4,641.7 1666.6,623.8 1666.8,627.4 1667.0,653.8 1667.2,621.5 1667.4,627.4 1667.6,644.2 1667.8,646.9 1668.0,653.4 1668.2,635.5 1668.4,642.1 1668.6,631.1 1668.8,633.7 1669.0,653.3 1669.2,640.7 1669.4,651.5 1669.6,628.0 1669.8,643.1 1670.0,660.4 1670.2,641.5 1670.4,651.8 1670.6,626.6 1670.8,629.8 1671.0,648.9 1671.2,622.7 1671.4,637.2 1671.6,660.6 1671.8,626.9 1672.0,636.0 1672.2,659.0 1672.4,647.9 1672.6,645.2 1672.8,642.1 1673.0,652.2 1673.2,640.4 1673.4,655.4 1673.6,654.0 1673.8,663.5 1674.0,636.7 1674.2,633.1 1674.4,662.1 1674.6,640.4 1674.8,653.3 1675.0,652.5 1675.2,649.5 1675.4,648.0 1675.6,632.1 1675.8,635.4 1676.0,641.4 1676.2,648.2 1676.4,654.7 1676.6,650.4 1676.8,668.0 1677.0,635.4 1677.2,655.3 1677.4,655.9 1677.6,658.4 1677.8,649.5 1678.0,654.8 1678.2,655.1 1678.4,650.5 1678.6,665.0 1678.8,643.8 1679.0,643.5 1679.2,668.0 1679.4,664.6 1679.6,639.1 1679.8,649.8 1680.0,642.8 1680.2,638.7 1680.4,653.7 1680.6,648.6 1680.8,664.0 1681.0,645.6 1681.2,659.8 1681.4,666.8 1681.6,663.0 1681.8,669.4 1682.0,680.1 1682.2,673.1 1682.4,643.3 1682.6,657.3 1682.8,656.8 1683.0,642.4 1683.2,662.9 1683.4,650.2 1683.6,668.5 1683.8,644.5 1684.0,633.6 1684.2,653.2 1684.4,670.6 1684.6,649.9 1684.8,654.3 1685.0,673.5 1685.2,644.4 1685.4,675.6 1685.6,662.9 1685.8,643.0 1686.0,656.5 1686.2,647.5 1686.4,654.7 1686.6,650.6 1686.8,662.6 1687.0,673.5 1687.2,647.2 1687.4,674.1 1687.6,652.0 1687.8,643.2 1688.0,654.4 1688.2,681.6 1688.4,649.0 1688.6,661.9 1688.8,670.8 1689.0,660.9 1689.2,673.4 1689.4,663.4 1689.6,671.3 1689.8,661.5 1690.0,659.9 1690.2,678.7 1690.4,657.0 1690.6,672.2 1690.8,649.4 1691.0,653.1 1691.2,647.0 1691.4,668.8 1691.6,645.7 1691.8,645.7 1692.0,650.4 1692.2,649.2 1692.4,660.7 1692.6,666.5 1692.8,646.8 1693.0,648.0 1693.2,652.4 1693.4,670.4 1693.6,677.7 1693.8,677.9 1694.0,681.0 1694.2,655.7 1694.4,676.5 1694.6,664.8 1694.8,662.5 1695.0,647.8 1695.2,661.2 1695.4,663.9 1695.6,674.8 1695.8,669.1 1696.0,681.9 1696.2,681.4 1696.4,650.5 1696.6,664.1 1696.8,671.6 1697.0,652.0 1697.2,659.9 1697.4,664.1 1697.6,663.6 1697.8,652.0 1698.0,678.7 1698.2,655.2 1698.4,673.5 1698.6,669.7 1698.8,671.3 1699.0,658.1 1699.2,657.8 1699.4,654.0 1699.6,670.4 1699.8,661.5 1700.0,666.7 1700.2,687.3 1700.4,666.8 1700.6,673.4 1700.8,684.0 1701.0,674.9 1701.2,659.2 1701.4,676.4 1701.6,674.5 1701.8,657.6 1702.0,659.7 1702.2,679.8 1702.4,662.9 1702.6,658.2 1702.8,655.7 1703.0,667.1 1703.2,678.4 1703.4,684.2 1703.6,663.5 1703.8,678.7 1704.0,657.8 1704.2,663.1 1704.4,672.6 1704.6,660.1 1704.8,675.7 1705.0,657.0 1705.2,672.4 1705.4,669.9 1705.6,674.2 1705.8,671.5 1706.0,670.5 1706.2,664.7 1706.4,657.3 1706.6,659.6 1706.8,663.3 1707.0,654.2 1707.2,661.5 1707.4,676.7 1707.6,658.1 1707.8,677.6 1708.0,669.5 1708.2,679.8 1708.4,675.7 1708.6,670.8 1708.8,659.9 1709.0,669.2 1709.2,659.5 1709.4,677.3 1709.6,686.3 1709.8,682.3 1710.0,673.7 1710.2,662.1 1710.4,685.5 1710.6,657.6 1710.8,664.0 1711.0,675.2 1711.2,683.3 1711.4,657.3 1711.6,666.8 1711.8,675.6 1712.0,696.1 1712.2,669.8 1712.4,663.5 1712.6,676.3 1712.8,662.1 1713.0,667.8 1713.2,674.7 1713.4,667.8 1713.6,657.9 1713.8,657.3 1714.0,672.0 1714.2,676.2 1714.4,665.3 1714.6,688.4 1714.8,671.3 1715.0,667.2 1715.2,685.8 1715.4,681.4 1715.6,682.5 1715.8,669.2 1716.0,679.3 1716.2,661.2 1716.4,674.7 1716.6,677.3 1716.8,660.9 1717.0,684.1 1717.2,688.3 1717.4,678.9 1717.6,681.6 1717.8,660.2 1718.0,667.5 1718.2,669.3 1718.4,678.6 1718.6,666.7 1718.8,664.5 1719.0,659.7 1719.2,677.8 1719.4,665.9 1719.6,676.4 1719.8,678.5 1720.0,687.5 1720.2,660.2 1720.4,683.5 1720.6,663.6 1720.8,672.1 1721.0,683.2 1721.2,671.2 1721.4,678.6 1721.6,681.4 1721.8,669.1 1722.0,680.2 1722.2,671.6 1722.4,663.6 1722.6,688.3 1722.8,684.3 1723.0,663.7 1723.2,663.6 1723.4,674.4 1723.6,674.8 1723.8,689.4 1724.0,669.6 1724.2,679.6 1724.4,675.6 1724.6,672.8 1724.8,660.5 1725.0,671.4 1725.2,661.0 1725.4,668.2 1725.6,682.2 1725.8,689.0 1726.0,673.1 1726.2,672.6 1726.4,690.0 1726.6,666.3 1726.8,690.0 1727.0,661.7 1727.2,673.3 1727.4,662.4 1727.6,684.8 1727.8,662.9 1728.0,676.8 1728.2,673.2 1728.4,683.7 1728.6,662.1 1728.8,679.1 1729.0,685.0 1729.2,668.0 1729.4,664.9 1729.6,676.8 1729.8,686.7 1730.0,674.7 1730.2,690.2 1730.4,676.8 1730.6,676.5 1730.8,672.4 1731.0,660.7 1731.2,664.0 1731.4,671.3 1731.6,677.2 1731.8,677.5 1732.0,672.0 1732.2,669.3 1732.4,688.7 1732.6,691.7 1732.8,678.4 1733.0,688.3 1733.2,657.7 1733.4,685.4 1733.6,673.1 1733.8,679.7 1734.0,687.5 1734.2,687.9 1734.4,666.1 1734.6,686.7 1734.8,695.1 1735.0,677.3 1735.2,695.3 1735.4,665.0 1735.6,682.6 1735.8,674.6 1736.0,674.8 1736.2,651.7 1736.4,669.2 1736.6,682.0 1736.8,660.4 1737.0,669.2 1737.2,678.6 1737.4,667.6 1737.6,675.2 1737.8,675.5 1738.0,661.4 1738.2,680.6 1738.4,668.4 1738.6,684.2 1738.8,669.6 1739.0,687.0 1739.2,682.6 1739.4,670.7 1739.6,671.6 1739.8,683.6 1740.0,677.9 1740.2,661.7 1740.4,691.5 1740.6,691.4 1740.8,674.0 1741.0,692.2 1741.2,685.8 1741.4,675.4 1741.6,667.7 1741.8,693.9 1742.0,669.1 1742.2,680.4 1742.4,672.9 1742.6,669.3 1742.8,693.8 1743.0,692.2 1743.2,664.3 1743.4,692.5 1743.6,685.8 1743.8,685.5 1744.0,686.0 1744.2,674.9 1744.4,689.4 1744.6,686.1 1744.8,670.5 1745.0,687.3 1745.2,686.3 1745.4,676.0 1745.6,688.5 1745.8,670.8 1746.0,678.8 1746.2,693.0 1746.4,687.1 1746.6,687.4 1746.8,682.1 1747.0,686.4 1747.2,696.2 1747.4,687.0 1747.6,686.1 1747.8,671.4 1748.0,667.9 1748.2,691.7 1748.4,684.3 1748.6,668.6 1748.8,687.1 1749.0,695.8 1749.2,669.2 1749.4,696.9 1749.6,688.4 1749.8,677.1 1750.0,671.0 1750.2,688.7 1750.4,691.1 1750.6,683.8 1750.8,673.7 1751.0,671.9 1751.2,692.4 1751.4,690.7 1751.6,673.9 1751.8,683.8 1752.0,673.6 1752.2,680.9 1752.4,677.1 1752.6,669.6 1752.8,700.0 1753.0,678.2 1753.2,688.0 1753.4,692.2 1753.6,680.6 1753.8,685.1 1754.0,670.4 1754.2,677.1 1754.4,694.1 1754.6,681.6 1754.8,678.9 1755.0,698.2 1755.2,692.4 1755.4,700.3 1755.6,675.6 1755.8,673.3 1756.0,685.5 1756.2,684.3 1756.4,694.7 1756.6,680.3 1756.8,698.7 1757.0,679.0 1757.2,680.7 1757.4,694.3 1757.6,680.6 1757.8,677.8 1758.0,690.6 1758.2,686.8 1758.4,674.0 1758.6,698.7 1758.8,678.4 1759.0,694.9 1759.2,684.8 1759.4,689.9 1759.6,681.0 1759.8,699.3 1760.0,680.1 1760.2,694.1 1760.4,673.0 1760.6,696.6 1760.8,697.6 1761.0,686.9 1761.2,700.2 1761.4,681.0 1761.6,676.9 1761.8,687.5 1762.0,674.6 1762.2,689.2 1762.4,675.2 1762.6,676.2 1762.8,697.2 1763.0,680.3 1763.2,695.3 1763.4,678.2 1763.6,670.9 1763.8,683.7 1764.0,688.6 1764.2,671.3 1764.4,673.9 1764.6,671.1 1764.8,673.1 1765.0,689.3 1765.2,673.3 1765.4,694.2 1765.6,670.1 1765.8,684.1 1766.0,673.4 1766.2,683.2 1766.4,672.9 1766.6,694.9 1766.8,688.0 1767.0,690.3 1767.2,676.6 1767.4,675.5 1767.6,696.6 1767.8,671.1 1768.0,694.3 1768.2,682.6 1768.4,698.8 1768.6,671.7 1768.8,691.2 1769.0,678.8 1769.2,676.0 1769.4,675.1 1769.6,689.9 1769.8,677.2 1770.0,688.9 1770.2,692.9 1770.4,704.2 1770.6,683.9 1770.8,671.8 1771.0,699.5 1771.2,697.3 1771.4,677.6 1771.6,698.8 1771.8,694.1 1772.0,687.3 1772.2,676.0 1772.4,678.7 1772.6,681.1 1772.8,689.8 1773.0,681.3 1773.2,677.2 1773.4,683.7 1773.6,699.0 1773.8,674.9 1774.0,682.0 1774.2,684.7 1774.4,683.1 1774.6,683.3 1774.8,696.4 1775.0,689.2 1775.2,694.4 1775.4,671.2 1775.6,694.0 1775.8,700.5 1776.0,693.6 1776.2,681.1 1776.4,692.4 1776.6,681.7 1776.8,693.1 1777.0,697.5 1777.2,684.3 1777.4,686.0 1777.6,672.4 1777.8,685.5 1778.0,700.2 1778.2,688.3 1778.4,674.8 1778.6,695.5 1778.8,674.3 1779.0,700.1 1779.2,683.8 1779.4,700.6 1779.6,693.6 1779.8,677.0 1780.0,676.9 1780.2,680.0 1780.4,682.9 1780.6,697.9 1780.8,677.3 1781.0,687.2 1781.2,691.6 1781.4,687.6 1781.6,697.5 1781.8,697.1 1782.0,693.5 1782.2,678.7 1782.4,684.4 1782.6,683.3 1782.8,673.5 1783.0,699.9 1783.2,693.4 1783.4,687.2 1783.6,678.9 1783.8,696.3 1784.0,688.6 1784.2,681.6 1784.4,686.2 1784.6,686.2 1784.8,677.2 1785.0,677.2 1785.2,685.2 1785.4,683.5 1785.6,674.0 1785.8,687.6 1786.0,701.8 1786.2,689.7 1786.4,691.9 1786.6,691.1 1786.8,686.4 1787.0,701.7 1787.2,691.4 1787.4,687.7 1787.6,702.2 1787.8,700.8 1788.0,675.1 1788.2,681.2 1788.4,678.7 1788.6,700.5 1788.8,701.9 1789.0,678.7 1789.2,678.8 1789.4,675.9 1789.6,693.8 1789.8,685.2 1790.0,678.1 1790.2,693.8 1790.4,687.2 1790.6,685.5 1790.8,684.4 1791.0,674.9 1791.2,700.2 1791.4,703.7 1791.6,685.0 1791.8,680.3 1792.0,697.9 1792.2,691.8 1792.4,695.2 1792.6,674.8 1792.8,695.3 1793.0,700.1 1793.2,688.6 1793.4,693.1 1793.6,682.1 1793.8,692.2 1794.0,684.2 1794.2,679.6 1794.4,683.0 1794.6,685.7 1794.8,684.2 1795.0,676.8 1795.2,692.2 1795.4,681.8 1795.6,700.2 1795.8,683.0 1796.0,677.6 1796.2,674.3 1796.4,675.2 1796.6,682.7 1796.8,680.6 1797.0,674.6 1797.2,693.8 1797.4,670.6 1797.6,693.9 1797.8,686.5 1798.0,684.4 1798.2,694.9 1798.4,689.9 1798.6,698.0 1798.8,696.9 1799.0,686.5 1799.2,685.5 1799.4,678.0 1799.6,700.1 1799.8,688.1 1800.0,686.9 1800.2,673.9 1800.4,673.8 1800.6,690.5 1800.8,694.7 1801.0,693.4 1801.2,695.5 1801.4,682.2 1801.6,691.1 1801.8,669.3 1802.0,685.6 1802.2,701.0 1802.4,680.3 1802.6,692.7 1802.8,673.2 1803.0,685.2 1803.2,687.7 1803.4,687.9 1803.6,698.6 1803.8,678.8 1804.0,682.0 1804.2,697.5 1804.4,670.5 1804.6,693.3 1804.8,684.5 1805.0,682.0 1805.2,674.4 1805.4,681.6 1805.6,679.9 1805.8,672.5 1806.0,695.8 1806.2,677.2 1806.4,678.1 1806.6,666.6 1806.8,689.7 1807.0,677.6 1807.2,696.8 1807.4,673.7 1807.6,670.2 1807.8,675.2 1808.0,669.6 1808.2,677.4 1808.4,694.9 1808.6,689.8 1808.8,694.3 1809.0,677.2 1809.2,687.2 1809.4,697.7 1809.6,698.2 1809.8,686.2 1810.0,686.2 1810.2,681.2 1810.4,698.1 1810.6,689.7 1810.8,684.7 1811.0,697.5 1811.2,675.0 1811.4,700.9 1811.6,672.0 1811.8,672.6 1812.0,676.7 1812.2,679.1 1812.4,679.8 1812.6,690.7 1812.8,679.1 1813.0,676.5 1813.2,698.2 1813.4,673.1 1813.6,677.4 1813.8,691.1 1814.0,698.3 1814.2,673.6 1814.4,682.9 1814.6,673.1 1814.8,680.8 1815.0,699.9 1815.2,683.6 1815.4,696.5 1815.6,699.3 1815.8,692.3 1816.0,690.9 1816.2,674.7 1816.4,674.7 1816.6,680.4 1816.8,698.6 1817.0,683.9 1817.2,687.1 1817.4,678.2 1817.6,685.6 1817.8,689.6 1818.0,693.1 1818.2,688.4 1818.4,667.7 1818.6,673.3 1818.8,674.9 1819.0,676.4 1819.2,690.7 1819.4,688.1 1819.6,701.3 1819.8,685.0 1820.0,675.7 1820.2,699.0 1820.4,690.7 1820.6,703.5 1820.8,675.4 1821.0,685.4 1821.2,694.1 1821.4,699.4 1821.6,701.2 1821.8,679.3 1822.0,690.2 1822.2,680.1 1822.4,696.7 1822.6,695.0 1822.8,694.7 1823.0,697.1 1823.2,704.4 1823.4,693.6 1823.6,692.0 1823.8,677.5 1824.0,700.9 1824.2,674.9 1824.4,695.9 1824.6,698.2 1824.8,704.2 1825.0,674.6 1825.2,694.1 1825.4,677.3 1825.6,686.0 1825.8,701.6 1826.0,701.5 1826.2,698.0 1826.4,695.5 1826.6,689.2 1826.8,676.3 1827.0,688.4 1827.2,685.6 1827.4,698.5 1827.6,685.5 1827.8,698.3 1828.0,688.2 1828.2,703.0 1828.4,684.4 1828.6,677.1 1828.8,704.3 1829.0,682.2 1829.2,688.8 1829.4,688.8 1829.6,694.1 1829.8,692.1 1830.0,686.6 1830.2,683.2 1830.4,687.8 1830.6,703.0 1830.8,706.0 1831.0,704.0 1831.2,684.9 1831.4,693.0 1831.6,680.4 1831.8,696.1 1832.0,688.2 1832.2,702.7 1832.4,693.4 1832.6,704.9 1832.8,697.0 1833.0,687.5 1833.2,683.7 1833.4,704.6 1833.6,704.6 1833.8,693.1 1834.0,691.8 1834.2,694.6 1834.4,688.3 1834.6,689.5 1834.8,693.8 1835.0,683.5 1835.2,687.9 1835.4,682.9 1835.6,700.9 1835.8,682.7 1836.0,677.8 1836.2,684.5 1836.4,683.9 1836.6,683.5 1836.8,689.1 1837.0,685.0 1837.2,700.0 1837.4,676.4 1837.6,685.3 1837.8,699.6 1838.0,679.6 1838.2,702.4 1838.4,684.2 1838.6,688.8 1838.8,709.1 1839.0,694.6 1839.2,701.7 1839.4,692.4 1839.6,697.5 1839.8,686.3 1840.0,681.0 1840.2,690.5 1840.4,705.5 1840.6,698.1 1840.8,688.0 1841.0,693.6 1841.2,682.6 1841.4,702.5 1841.6,689.8 1841.8,677.1 1842.0,689.5 1842.2,683.1 1842.4,697.7 1842.6,684.0 1842.8,684.5 1843.0,699.2 1843.2,686.3 1843.4,706.7 1843.6,682.5 1843.8,695.9 1844.0,695.6 1844.2,679.0 1844.4,686.3 1844.6,702.1 1844.8,686.5 1845.0,689.9 1845.2,698.6 1845.4,677.5 1845.6,687.7 1845.8,705.7 1846.0,700.8 1846.2,678.7 1846.4,680.8 1846.6,685.8 1846.8,703.1 1847.0,683.2 1847.2,680.1 1847.4,699.8 1847.6,705.1 1847.8,702.0 1848.0,696.7 1848.2,678.8 1848.4,685.2 1848.6,687.5 1848.8,687.7 1849.0,684.4 1849.2,704.6 1849.4,709.6 1849.6,695.3 1849.8,699.3 1850.0,698.7 1850.2,683.1 1850.4,697.2 1850.6,697.6 1850.8,697.7 1851.0,681.0 1851.2,690.9 1851.4,688.0 1851.6,679.6 1851.8,680.0 1852.0,676.3 1852.2,696.7 1852.4,679.1 1852.6,688.8 1852.8,689.5 1853.0,691.9 1853.2,693.7 1853.4,681.0 1853.6,687.3 1853.8,691.4 1854.0,699.8 1854.2,685.7 1854.4,689.8 1854.6,686.9 1854.8,685.0 1855.0,693.0 1855.2,689.0 1855.4,701.2 1855.6,701.8 1855.8,684.5 1856.0,697.4 1856.2,700.7 1856.4,696.0 1856.6,689.3 1856.8,690.3 1857.0,677.4 1857.2,689.9 1857.4,676.7 1857.6,703.1 1857.8,688.0 1858.0,679.1 1858.2,680.7 1858.4,677.8 1858.6,670.6 1858.8,701.3 1859.0,686.8 1859.2,685.8 1859.4,682.9 1859.6,685.1 1859.8,698.9 1860.0,685.9 1860.2,683.7 1860.4,687.3 1860.6,675.1 1860.8,679.7 1861.0,683.8 1861.2,699.3 1861.4,704.0 1861.6,705.4 1861.8,684.6 1862.0,683.2 1862.2,683.6 1862.4,697.6 1862.6,695.2 1862.8,702.5 1863.0,693.3 1863.2,677.0 1863.4,703.5 1863.6,702.5 1863.8,688.5 1864.0,680.5 1864.2,675.7 1864.4,676.7 1864.6,686.8 1864.8,690.5 1865.0,702.3 1865.2,683.7 1865.4,696.6 1865.6,680.1 1865.8,700.0 1866.0,688.2 1866.2,688.6 1866.4,681.2 1866.6,674.1 1866.8,705.4 1867.0,683.1 1867.2,691.7 1867.4,675.5 1867.6,677.8 1867.8,698.1 1868.0,674.5 1868.2,678.3 1868.4,692.5 1868.6,696.8 1868.8,684.0 1869.0,689.6 1869.2,681.4 1869.4,690.1 1869.6,685.7 1869.8,675.7 1870.0,676.8 1870.2,675.4 1870.4,689.0 1870.6,693.4 1870.8,673.3 1871.0,673.5 1871.2,696.8 1871.4,702.6 1871.6,696.4 1871.8,681.2 1872.0,698.8 1872.2,686.3 1872.4,676.4 1872.6,694.8 1872.8,702.0 1873.0,676.8 1873.2,706.0 1873.4,703.4 1873.6,702.7 1873.8,699.6 1874.0,679.5 1874.2,678.6 1874.4,681.6 1874.6,700.7 1874.8,691.9 1875.0,702.0 1875.2,701.9 1875.4,679.4 1875.6,682.5 1875.8,672.3 1876.0,682.5 1876.2,673.1 1876.4,686.5 1876.6,675.2 1876.8,673.7 1877.0,676.0 1877.2,691.6 1877.4,664.9 1877.6,694.5 1877.8,690.0 1878.0,703.9 1878.2,676.6 1878.4,673.8 1878.6,692.5 1878.8,684.1 1879.0,682.0 1879.2,675.2 1879.4,683.6 1879.6,691.3 1879.8,679.9 1880.0,677.6 1880.2,680.5 1880.4,687.2 1880.6,697.5 1880.8,692.0 1881.0,687.5 1881.2,677.8 1881.4,701.2 1881.6,688.9 1881.8,701.2" fill="none" stroke="#180ed0" stroke-width="2.9" stroke-linejoin="round"/>
<path d="M322.0,569.7 322.2,593.8 322.4,583.6 322.6,556.9 322.8,553.9 323.0,580.4 323.2,551.7 323.4,610.6 323.6,577.9 323.8,566.7 324.0,544.2 324.2,594.1 324.4,594.5 324.6,562.2 324.8,539.8 325.0,601.1 325.2,594.0 325.4,550.7 325.6,564.0 325.8,564.0 326.0,594.4 326.2,583.8 326.4,555.3 326.6,549.6 326.8,602.8 327.0,558.3 327.2,574.5 327.4,570.7 327.6,600.5 327.8,576.1 328.0,599.0 328.2,593.2 328.4,560.1 328.6,587.3 328.8,561.5 329.0,559.0 329.2,601.7 329.4,581.6 329.6,565.0 329.8,587.1 330.0,589.8 330.2,600.6 330.4,594.4 330.6,589.3 330.8,568.5 331.0,572.4 331.2,587.7 331.4,582.0 331.6,587.3 331.8,614.2 332.0,611.6 332.2,589.8 332.4,607.9 332.6,608.7 332.8,575.7 333.0,567.6 333.2,589.7 333.4,613.3 333.6,572.7 333.8,634.9 334.0,616.8 334.2,572.9 334.4,617.5 334.6,579.7 334.8,601.5 335.0,620.8 335.2,582.1 335.4,593.5 335.6,623.2 335.8,582.5 336.0,580.6 336.2,608.5 336.4,617.8 336.6,596.2 336.8,576.9 337.0,606.6 337.2,642.2 337.4,575.5 337.6,592.3 337.8,624.1 338.0,618.5 338.2,595.7 338.4,579.8 338.6,582.1 338.8,605.4 339.0,604.2 339.2,604.3 339.4,583.4 339.6,621.0 339.8,610.3 340.0,619.6 340.2,573.1 340.4,581.9 340.6,611.7 340.8,602.6 341.0,578.8 341.2,581.4 341.4,602.5 341.6,628.6 341.8,603.9 342.0,615.9 342.2,612.0 342.4,593.8 342.6,597.2 342.8,581.2 343.0,588.4 343.2,611.1 343.4,618.0 343.6,590.1 343.8,621.0 344.0,616.5 344.2,636.9 344.4,630.4 344.6,612.4 344.8,617.5 345.0,588.7 345.2,637.7 345.4,634.6 345.6,616.0 345.8,600.8 346.0,621.1 346.2,608.9 346.4,621.0 346.6,608.3 346.8,603.2 347.0,608.9 347.2,634.5 347.4,634.2 347.6,603.4 347.8,606.7 348.0,615.1 348.2,609.8 348.4,606.9 348.6,618.4 348.8,594.4 349.0,590.6 349.2,600.2 349.4,643.8 349.6,632.8 349.8,619.6 350.0,597.5 350.2,646.9 350.4,641.0 350.6,645.3 350.8,623.4 351.0,608.7 351.2,602.6 351.4,636.3 351.6,601.5 351.8,626.8 352.0,634.7 352.2,625.4 352.4,638.4 352.6,646.1 352.8,598.9 353.0,601.2 353.2,601.3 353.4,611.4 353.6,626.4 353.8,620.7 354.0,621.2 354.2,634.9 354.4,604.9 354.6,603.5 354.8,605.0 355.0,644.7 355.2,618.5 355.4,632.2 355.6,649.3 355.8,608.7 356.0,601.5 356.2,613.8 356.4,620.6 356.6,629.6 356.8,611.3 357.0,642.6 357.2,635.0 357.4,644.3 357.6,611.8 357.8,614.9 358.0,637.3 358.2,624.1 358.4,656.0 358.6,645.1 358.8,612.2 359.0,609.6 359.2,621.7 359.4,648.3 359.6,637.8 359.8,667.3 360.0,606.1 360.2,633.6 360.4,657.8 360.6,637.8 360.8,659.2 361.0,633.0 361.2,662.0 361.4,634.4 361.6,602.6 361.8,622.9 362.0,611.5 362.2,648.5 362.4,615.1 362.6,654.0 362.8,661.4 363.0,628.5 363.2,627.1 363.4,643.6 363.6,649.2 363.8,613.1 364.0,646.0 364.2,621.0 364.4,616.0 364.6,629.4 364.8,635.4 365.0,634.6 365.2,653.3 365.4,641.8 365.6,632.7 365.8,640.0 366.0,644.7 366.2,661.2 366.4,634.2 366.6,658.9 366.8,651.8 367.0,664.6 367.2,639.0 367.4,626.6 367.6,621.8 367.8,648.2 368.0,672.0 368.2,634.1 368.4,639.9 368.6,664.1 368.8,640.6 369.0,668.8 369.2,620.8 369.4,669.9 369.6,636.1 369.8,675.1 370.0,663.7 370.2,666.3 370.4,647.7 370.6,638.3 370.8,639.8 371.0,671.7 371.2,687.7 371.4,622.8 371.6,657.7 371.8,659.1 372.0,657.4 372.2,628.7 372.4,634.8 372.6,667.9 372.8,658.0 373.0,663.6 373.2,629.6 373.4,657.3 373.6,640.6 373.8,638.8 374.0,633.2 374.2,632.6 374.4,641.1 374.6,669.6 374.8,661.4 375.0,658.5 375.2,649.7 375.4,642.2 375.6,662.4 375.8,676.8 376.0,656.7 376.2,634.9 376.4,682.9 376.6,658.2 376.8,638.2 377.0,678.6 377.2,653.3 377.4,694.7 377.6,696.8 377.8,652.1 378.0,645.0 378.2,658.9 378.4,634.8 378.6,647.3 378.8,670.3 379.0,652.8 379.2,635.2 379.4,649.4 379.6,688.3 379.8,674.5 380.0,669.1 380.2,625.3 380.4,689.9 380.6,665.9 380.8,664.0 381.0,681.0 381.2,675.8 381.4,682.4 381.6,644.2 381.8,669.2 382.0,683.8 382.2,655.6 382.4,644.7 382.6,647.1 382.8,646.1 383.0,660.9 383.2,671.2 383.4,642.7 383.6,639.1 383.8,642.7 384.0,653.1 384.2,657.2 384.4,681.8 384.6,680.1 384.8,644.7 385.0,665.5 385.2,675.2 385.4,686.3 385.6,661.0 385.8,657.0 386.0,662.9 386.2,664.4 386.4,674.4 386.6,695.9 386.8,676.7 387.0,676.0 387.2,670.5 387.4,660.6 387.6,688.8 387.8,650.1 388.0,684.1 388.2,683.8 388.4,644.2 388.6,667.2 388.8,681.8 389.0,673.9 389.2,662.3 389.4,657.5 389.6,645.2 389.8,647.4 390.0,698.6 390.2,678.3 390.4,687.6 390.6,644.2 390.8,650.1 391.0,665.7 391.2,691.1 391.4,660.6 391.6,654.9 391.8,693.1 392.0,694.5 392.2,699.4 392.4,649.4 392.6,670.0 392.8,657.8 393.0,690.3 393.2,664.9 393.4,657.8 393.6,691.0 393.8,672.6 394.0,648.9 394.2,667.4 394.4,673.7 394.6,684.5 394.8,663.4 395.0,647.6 395.2,680.6 395.4,693.1 395.6,659.1 395.8,683.0 396.0,688.6 396.2,702.0 396.4,652.8 396.6,645.5 396.8,680.1 397.0,657.9 397.2,674.6 397.4,649.4 397.6,650.2 397.8,650.1 398.0,671.7 398.2,679.4 398.4,664.2 398.6,678.7 398.8,676.6 399.0,666.3 399.2,672.8 399.4,706.5 399.6,674.9 399.8,651.4 400.0,690.2 400.2,693.4 400.4,666.2 400.6,677.2 400.8,691.9 401.0,656.0 401.2,699.1 401.4,692.1 401.6,707.4 401.8,677.0 402.0,666.3 402.2,661.3 402.4,701.2 402.6,714.1 402.8,721.5 403.0,665.6 403.2,696.8 403.4,707.8 403.6,702.7 403.8,667.6 404.0,688.7 404.2,650.8 404.4,657.9 404.6,684.6 404.8,703.0 405.0,656.0 405.2,659.4 405.4,672.2 405.6,655.1 405.8,665.3 406.0,704.1 406.2,665.7 406.4,691.1 406.6,691.7 406.8,665.9 407.0,649.6 407.2,663.8 407.4,694.0 407.6,709.0 407.8,674.1 408.0,660.9 408.2,661.3 408.4,695.1 408.6,684.5 408.8,658.3 409.0,682.9 409.2,706.9 409.4,678.1 409.6,681.7 409.8,673.6 410.0,680.2 410.2,668.2 410.4,663.4 410.6,710.8 410.8,684.1 411.0,675.6 411.2,671.6 411.4,699.9 411.6,674.3 411.8,701.3 412.0,670.3 412.2,683.3 412.4,704.9 412.6,708.0 412.8,712.4 413.0,688.1 413.2,700.5 413.4,684.0 413.6,666.1 413.8,689.5 414.0,678.2 414.2,664.8 414.4,680.6 414.6,679.8 414.8,693.4 415.0,704.8 415.2,696.0 415.4,692.4 415.6,671.4 415.8,668.3 416.0,673.1 416.2,703.1 416.4,676.3 416.6,705.9 416.8,699.9 417.0,707.5 417.2,680.9 417.4,704.9 417.6,693.6 417.8,679.3 418.0,693.2 418.2,716.3 418.4,709.2 418.6,667.0 418.8,671.9 419.0,665.4 419.2,674.8 419.4,674.0 419.6,712.1 419.8,677.6 420.0,689.6 420.2,677.2 420.4,691.1 420.6,719.1 420.8,710.1 421.0,666.5 421.2,718.1 421.4,674.9 421.6,678.2 421.8,675.8 422.0,715.6 422.2,705.7 422.4,698.8 422.6,691.8 422.8,687.1 423.0,721.0 423.2,685.6 423.4,681.7 423.6,706.1 423.8,717.3 424.0,691.9 424.2,688.5 424.4,676.6 424.6,691.0 424.8,701.6 425.0,705.4 425.2,683.2 425.4,671.5 425.6,684.8 425.8,692.9 426.0,669.5 426.2,672.0 426.4,717.9 426.6,670.3 426.8,671.7 427.0,697.7 427.2,682.7 427.4,691.2 427.6,690.3 427.8,722.6 428.0,709.3 428.2,714.5 428.4,698.8 428.6,663.7 428.8,698.5 429.0,736.9 429.2,707.4 429.4,682.3 429.6,700.3 429.8,691.8 430.0,691.8 430.2,727.2 430.4,724.2 430.6,693.6 430.8,701.0 431.0,679.7 431.2,690.6 431.4,724.3 431.6,673.8 431.8,705.2 432.0,683.6 432.2,685.7 432.4,702.5 432.6,686.6 432.8,718.1 433.0,700.8 433.2,713.3 433.4,695.0 433.6,697.1 433.8,704.5 434.0,721.2 434.2,700.4 434.4,727.1 434.6,698.6 434.8,689.9 435.0,717.3 435.2,690.1 435.4,733.2 435.6,699.6 435.8,705.5 436.0,686.5 436.2,745.6 436.4,725.2 436.6,688.4 436.8,677.1 437.0,712.6 437.2,724.0 437.4,682.0 437.6,729.7 437.8,682.8 438.0,673.9 438.2,724.1 438.4,690.1 438.6,718.0 438.8,704.9 439.0,728.2 439.2,706.9 439.4,687.2 439.6,707.9 439.8,731.7 440.0,703.9 440.2,686.8 440.4,730.9 440.6,667.6 440.8,708.5 441.0,708.8 441.2,699.9 441.4,684.9 441.6,681.1 441.8,689.0 442.0,692.5 442.2,700.5 442.4,703.7 442.6,691.1 442.8,715.9 443.0,719.7 443.2,713.4 443.4,710.7 443.6,679.4 443.8,697.5 444.0,697.1 444.2,685.1 444.4,703.0 444.6,693.7 444.8,726.8 445.0,711.6 445.2,698.1 445.4,693.1 445.6,687.6 445.8,689.8 446.0,709.8 446.2,694.6 446.4,690.0 446.6,690.2 446.8,699.3 447.0,686.0 447.2,698.7 447.4,685.7 447.6,703.5 447.8,727.2 448.0,697.8 448.2,732.4 448.4,703.1 448.6,704.1 448.8,687.9 449.0,716.7 449.2,732.0 449.4,690.8 449.6,687.4 449.8,699.3 450.0,715.5 450.2,699.3 450.4,709.7 450.6,711.4 450.8,735.1 451.0,735.5 451.2,734.2 451.4,725.2 451.6,702.3 451.8,693.8 452.0,690.6 452.2,711.8 452.4,721.8 452.6,685.9 452.8,704.3 453.0,713.5 453.2,690.5 453.4,708.8 453.6,710.5 453.8,702.9 454.0,707.1 454.2,700.0 454.4,686.4 454.6,686.9 454.8,711.7 455.0,733.8 455.2,672.8 455.4,727.3 455.6,694.2 455.8,733.9 456.0,699.3 456.2,735.1 456.4,735.0 456.6,693.2 456.8,728.9 457.0,701.7 457.2,692.3 457.4,671.7 457.6,710.3 457.8,728.7 458.0,697.3 458.2,681.0 458.4,726.6 458.6,699.7 458.8,712.2 459.0,740.5 459.2,717.6 459.4,717.7 459.6,717.3 459.8,700.9 460.0,711.0 460.2,705.4 460.4,703.3 460.6,697.8 460.8,687.2 461.0,695.4 461.2,693.7 461.4,696.5 461.6,685.4 461.8,705.2 462.0,707.7 462.2,722.5 462.4,711.6 462.6,690.4 462.8,707.5 463.0,687.2 463.2,708.2 463.4,685.4 463.6,731.9 463.8,717.5 464.0,717.7 464.2,725.1 464.4,687.0 464.6,703.8 464.8,719.6 465.0,702.5 465.2,694.8 465.4,691.9 465.6,734.0 465.8,713.8 466.0,685.3 466.2,727.6 466.4,715.1 466.6,724.8 466.8,716.4 467.0,694.6 467.2,734.2 467.4,735.2 467.6,729.1 467.8,687.0 468.0,688.8 468.2,701.3 468.4,705.4 468.6,731.5 468.8,688.3 469.0,695.3 469.2,734.3 469.4,707.0 469.6,729.8 469.8,726.3 470.0,687.5 470.2,717.7 470.4,703.1 470.6,687.6 470.8,733.3 471.0,709.2 471.2,711.4 471.4,694.6 471.6,712.6 471.8,707.2 472.0,695.7 472.2,725.9 472.4,702.4 472.6,687.8 472.8,734.9 473.0,671.4 473.2,690.2 473.4,736.1 473.6,712.7 473.8,689.7 474.0,685.6 474.2,684.4 474.4,697.0 474.6,719.8 474.8,690.1 475.0,709.7 475.2,685.5 475.4,736.3 475.6,704.3 475.8,716.7 476.0,717.6 476.2,687.4 476.4,687.3 476.6,712.1 476.8,691.1 477.0,725.7 477.2,697.0 477.4,717.3 477.6,678.2 477.8,702.2 478.0,718.5 478.2,718.2 478.4,714.3 478.6,710.4 478.8,718.8 479.0,711.8 479.2,695.8 479.4,719.8 479.6,702.0 479.8,734.6 480.0,692.4 480.2,726.0 480.4,729.2 480.6,731.3 480.8,722.0 481.0,692.8 481.2,696.6 481.4,696.3 481.6,693.1 481.8,734.5 482.0,692.9 482.2,738.1 482.4,718.2 482.6,695.3 482.8,699.8 483.0,709.9 483.2,716.3 483.4,691.9 483.6,737.3 483.8,700.2 484.0,738.7 484.2,708.1 484.4,731.5 484.6,686.9 484.8,713.1 485.0,687.9 485.2,735.0 485.4,712.1 485.6,686.7 485.8,728.7 486.0,726.6 486.2,711.0 486.4,734.7 486.6,702.7 486.8,706.3 487.0,719.4 487.2,728.4 487.4,708.1 487.6,689.6 487.8,699.8 488.0,716.9 488.2,717.8 488.4,693.2 488.6,728.3 488.8,700.4 489.0,730.6 489.2,707.0 489.4,720.7 489.6,734.5 489.8,734.6 490.0,703.3 490.2,705.9 490.4,731.2 490.6,709.6 490.8,736.3 491.0,696.3 491.2,732.4 491.4,710.6 491.6,729.6 491.8,730.9 492.0,714.9 492.2,738.3 492.4,739.4 492.6,730.1 492.8,730.8 493.0,699.9 493.2,727.8 493.4,722.0 493.6,734.8 493.8,719.5 494.0,731.7 494.2,700.2 494.4,703.3 494.6,705.4 494.8,706.7 495.0,733.9 495.2,716.9 495.4,738.6 495.6,703.8 495.8,713.0 496.0,714.7 496.2,686.4 496.4,688.7 496.6,670.6 496.8,713.5 497.0,688.0 497.2,692.9 497.4,733.9 497.6,710.9 497.8,687.3 498.0,689.7 498.2,687.5 498.4,691.0 498.6,725.6 498.8,713.6 499.0,700.6 499.2,692.1 499.4,729.1 499.6,678.8 499.8,746.6 500.0,736.6 500.2,690.9 500.4,726.4 500.6,731.6 500.8,685.6 501.0,682.2 501.2,703.2 501.4,733.8 501.6,722.7 501.8,736.9 502.0,705.3 502.2,703.9 502.4,722.3 502.6,708.0 502.8,729.6 503.0,697.0 503.2,734.4 503.4,700.8 503.6,689.1 503.8,713.7 504.0,726.3 504.2,710.8 504.4,706.3 504.6,691.4 504.8,718.8 505.0,734.1 505.2,690.4 505.4,716.7 505.6,711.8 505.8,716.4 506.0,720.9 506.2,717.7 506.4,727.9 506.6,697.0 506.8,704.4 507.0,683.1 507.2,726.5 507.4,729.6 507.6,723.1 507.8,717.6 508.0,682.5 508.2,712.3 508.4,723.0 508.6,705.8 508.8,699.0 509.0,708.2 509.2,730.4 509.4,691.1 509.6,717.9 509.8,720.7 510.0,697.3 510.2,699.8 510.4,723.8 510.6,691.6 510.8,697.0 511.0,703.4 511.2,680.3 511.4,719.0 511.6,714.1 511.8,710.3 512.0,711.6 512.2,684.0 512.4,691.1 512.6,684.8 512.8,705.7 513.0,682.8 513.2,713.8 513.4,726.5 513.6,703.6 513.8,702.0 514.0,719.5 514.2,686.1 514.4,717.7 514.6,711.2 514.8,699.6 515.0,709.6 515.2,691.2 515.4,680.6 515.6,732.5 515.8,728.6 516.0,722.6 516.2,692.9 516.4,690.2 516.6,718.7 516.8,721.8 517.0,722.0 517.2,685.4 517.4,696.9 517.6,730.8 517.8,687.0 518.0,693.6 518.2,716.3 518.4,723.1 518.6,702.7 518.8,693.4 519.0,703.9 519.2,686.5 519.4,703.7 519.6,690.7 519.8,687.1 520.0,722.4 520.2,666.3 520.4,694.7 520.6,695.4 520.8,718.0 521.0,743.1 521.2,683.3 521.4,684.8 521.6,693.5 521.8,712.8 522.0,730.9 522.2,723.6 522.4,682.2 522.6,673.6 522.8,730.3 523.0,716.8 523.2,728.8 523.4,713.1 523.6,703.9 523.8,710.0 524.0,713.6 524.2,689.2 524.4,722.9 524.6,691.6 524.8,696.7 525.0,696.5 525.2,692.3 525.4,696.1 525.6,721.6 525.8,692.0 526.0,696.6 526.2,692.0 526.4,694.2 526.6,724.9 526.8,730.5 527.0,705.3 527.2,701.3 527.4,729.3 527.6,695.3 527.8,702.2 528.0,664.5 528.2,666.6 528.4,695.1 528.6,708.3 528.8,678.0 529.0,709.2 529.2,732.0 529.4,705.3 529.6,731.3 529.8,685.3 530.0,693.7 530.2,704.1 530.4,697.6 530.6,700.0 530.8,717.7 531.0,745.4 531.2,694.1 531.4,702.0 531.6,717.1 531.8,689.6 532.0,691.4 532.2,679.7 532.4,726.5 532.6,703.1 532.8,727.8 533.0,722.6 533.2,709.9 533.4,691.0 533.6,710.8 533.8,680.8 534.0,741.1 534.2,727.8 534.4,731.5 534.6,729.3 534.8,677.7 535.0,723.1 535.2,710.1 535.4,726.4 535.6,717.4 535.8,678.9 536.0,731.8 536.2,679.7 536.4,705.0 536.6,715.3 536.8,690.2 537.0,705.3 537.2,677.7 537.4,687.4 537.6,689.3 537.8,707.2 538.0,689.3 538.2,721.3 538.4,700.8 538.6,729.6 538.8,686.1 539.0,694.7 539.2,715.4 539.4,703.1 539.6,728.8 539.8,709.0 540.0,708.6 540.2,708.6 540.4,685.1 540.6,706.2 540.8,681.5 541.0,682.4 541.2,709.3 541.4,698.2 541.6,731.2 541.8,686.6 542.0,719.0 542.2,693.3 542.4,711.6 542.6,717.2 542.8,707.0 543.0,708.9 543.2,694.0 543.4,683.1 543.6,695.2 543.8,702.3 544.0,706.9 544.2,727.1 544.4,679.3 544.6,729.6 544.8,690.8 545.0,678.2 545.2,690.1 545.4,721.0 545.6,687.0 545.8,694.9 546.0,729.4 546.2,726.8 546.4,684.5 546.6,707.5 546.8,719.4 547.0,709.8 547.2,687.6 547.4,720.8 547.6,678.7 547.8,708.0 548.0,722.3 548.2,702.7 548.4,686.8 548.6,700.4 548.8,712.6 549.0,693.0 549.2,725.6 549.4,687.8 549.6,695.2 549.8,688.3 550.0,710.4 550.2,693.1 550.4,716.2 550.6,697.0 550.8,724.1 551.0,693.9 551.2,683.2 551.4,696.6 551.6,702.7 551.8,729.8 552.0,718.0 552.2,687.2 552.4,727.7 552.6,680.6 552.8,686.4 553.0,714.7 553.2,705.8 553.4,717.0 553.6,696.7 553.8,731.3 554.0,708.2 554.2,697.1 554.4,729.9 554.6,727.5 554.8,679.8 555.0,728.6 555.2,682.9 555.4,705.2 555.6,717.1 555.8,689.0 556.0,683.1 556.2,686.4 556.4,693.6 556.6,713.1 556.8,686.0 557.0,669.2 557.2,696.6 557.4,713.5 557.6,707.0 557.8,672.3 558.0,686.6 558.2,726.0 558.4,707.9 558.6,724.7 558.8,698.6 559.0,729.2 559.2,725.8 559.4,690.5 559.6,730.5 559.8,721.9 560.0,726.6 560.2,689.4 560.4,712.1 560.6,686.8 560.8,725.0 561.0,723.3 561.2,691.3 561.4,706.3 561.6,722.1 561.8,680.7 562.0,683.9 562.2,700.7 562.4,729.8 562.6,692.4 562.8,725.9 563.0,683.6 563.2,726.3 563.4,702.8 563.6,703.0 563.8,726.0 564.0,700.6 564.2,707.3 564.4,687.7 564.6,721.8 564.8,686.3 565.0,689.9 565.2,710.6 565.4,709.4 565.6,698.7 565.8,734.1 566.0,701.6 566.2,686.4 566.4,695.3 566.6,695.1 566.8,705.1 567.0,727.7 567.2,731.4 567.4,726.2 567.6,712.1 567.8,683.1 568.0,719.4 568.2,720.6 568.4,710.0 568.6,699.5 568.8,727.5 569.0,698.1 569.2,731.6 569.4,695.9 569.6,725.1 569.8,696.3 570.0,713.4 570.2,697.0 570.4,699.2 570.6,696.6 570.8,696.7 571.0,715.0 571.2,696.6 571.4,695.2 571.6,727.9 571.8,700.0 572.0,687.1 572.2,734.1 572.4,735.7 572.6,736.2 572.8,709.9 573.0,714.7 573.2,683.2 573.4,718.2 573.6,703.9 573.8,716.0 574.0,692.3 574.2,707.1 574.4,694.1 574.6,734.7 574.8,687.3 575.0,736.0 575.2,709.0 575.4,706.2 575.6,721.4 575.8,699.1 576.0,710.7 576.2,720.2 576.4,706.8 576.6,729.5 576.8,728.8 577.0,710.4 577.2,684.2 577.4,693.6 577.6,712.0 577.8,708.3 578.0,699.4 578.2,709.8 578.4,685.9 578.6,714.6 578.8,694.5 579.0,697.5 579.2,689.8 579.4,699.7 579.6,691.8 579.8,669.9 580.0,710.9 580.2,702.6 580.4,690.0 580.6,722.4 580.8,701.2 581.0,702.9 581.2,688.4 581.4,733.1 581.6,698.3 581.8,726.2 582.0,718.6 582.2,726.3 582.4,686.9 582.6,719.6 582.8,703.4 583.0,706.9 583.2,690.0 583.4,708.3 583.6,703.4 583.8,683.9 584.0,713.3 584.2,705.5 584.4,733.2 584.6,725.4 584.8,725.5 585.0,688.8 585.2,688.7 585.4,735.7 585.6,728.1 585.8,688.1 586.0,710.8 586.2,697.3 586.4,734.1 586.6,736.7 586.8,689.3 587.0,700.8 587.2,732.3 587.4,699.0 587.6,702.7 587.8,715.4 588.0,713.6 588.2,710.3 588.4,713.5 588.6,723.7 588.8,715.8 589.0,696.8 589.2,687.0 589.4,707.0 589.6,711.0 589.8,716.7 590.0,727.8 590.2,712.0 590.4,699.2 590.6,694.2 590.8,730.0 591.0,734.1 591.2,733.2 591.4,689.7 591.6,732.5 591.8,708.5 592.0,735.5 592.2,685.0 592.4,699.3 592.6,713.2 592.8,733.5 593.0,698.5 593.2,708.0 593.4,700.2 593.6,731.1 593.8,726.0 594.0,705.2 594.2,749.3 594.4,691.6 594.6,734.0 594.8,686.9 595.0,712.1 595.2,730.2 595.4,703.8 595.6,712.9 595.8,712.6 596.0,695.9 596.2,699.6 596.4,734.5 596.6,736.0 596.8,725.7 597.0,705.3 597.2,709.3 597.4,710.0 597.6,699.4 597.8,693.0 598.0,702.6 598.2,693.2 598.4,719.6 598.6,728.5 598.8,706.1 599.0,709.7 599.2,688.4 599.4,720.4 599.6,720.2 599.8,728.5 600.0,703.8 600.2,710.2 600.4,738.1 600.6,711.9 600.8,719.4 601.0,704.8 601.2,702.4 601.4,708.7 601.6,701.6 601.8,738.2 602.0,713.9 602.2,709.6 602.4,681.2 602.6,698.7 602.8,737.6 603.0,694.9 603.2,685.6 603.4,729.7 603.6,742.7 603.8,686.1 604.0,717.1 604.2,706.8 604.4,708.0 604.6,718.6 604.8,717.3 605.0,700.8 605.2,702.3 605.4,691.5 605.6,711.4 605.8,700.2 606.0,721.3 606.2,701.2 606.4,707.7 606.6,704.3 606.8,708.3 607.0,730.6 607.2,708.5 607.4,693.9 607.6,695.1 607.8,696.3 608.0,725.6 608.2,731.4 608.4,691.5 608.6,708.8 608.8,716.4 609.0,721.4 609.2,709.2 609.4,740.3 609.6,706.7 609.8,687.7 610.0,731.5 610.2,733.4 610.4,728.2 610.6,734.3 610.8,737.9 611.0,722.1 611.2,701.3 611.4,691.4 611.6,738.0 611.8,689.2 612.0,721.3 612.2,738.3 612.4,738.1 612.6,696.0 612.8,730.3 613.0,704.4 613.2,699.7 613.4,730.8 613.6,737.2 613.8,728.5 614.0,737.4 614.2,706.7 614.4,715.1 614.6,711.0 614.8,709.9 615.0,710.7 615.2,719.7 615.4,717.3 615.6,684.6 615.8,699.5 616.0,710.0 616.2,719.7 616.4,736.3 616.6,723.0 616.8,731.0 617.0,691.3 617.2,718.8 617.4,690.0 617.6,721.4 617.8,737.9 618.0,714.0 618.2,731.6 618.4,740.8 618.6,722.9 618.8,738.0 619.0,726.0 619.2,701.9 619.4,703.3 619.6,725.2 619.8,700.1 620.0,723.5 620.2,721.0 620.4,679.8 620.6,723.5 620.8,726.5 621.0,720.4 621.2,728.9 621.4,707.8 621.6,723.1 621.8,701.0 622.0,729.7 622.2,724.6 622.4,698.8 622.6,733.4 622.8,715.7 623.0,714.9 623.2,722.8 623.4,737.5 623.6,743.7 623.8,719.2 624.0,724.0 624.2,721.6 624.4,739.6 624.6,722.7 624.8,727.9 625.0,744.5 625.2,702.0 625.4,698.8 625.6,726.3 625.8,702.9 626.0,711.1 626.2,712.5 626.4,704.0 626.6,746.6 626.8,712.0 627.0,731.4 627.2,716.3 627.4,712.1 627.6,746.2 627.8,698.8 628.0,703.7 628.2,747.6 628.4,744.7 628.6,702.9 628.8,706.0 629.0,717.3 629.2,733.5 629.4,741.4 629.6,740.4 629.8,733.7 630.0,735.5 630.2,708.5 630.4,704.5 630.6,712.9 630.8,700.8 631.0,696.9 631.2,719.4 631.4,708.4 631.6,731.3 631.8,708.3 632.0,708.0 632.2,728.6 632.4,727.1 632.6,708.4 632.8,729.1 633.0,701.1 633.2,743.9 633.4,738.9 633.6,697.4 633.8,720.0 634.0,701.4 634.2,712.8 634.4,703.6 634.6,713.4 634.8,741.6 635.0,722.3 635.2,709.5 635.4,732.1 635.6,716.0 635.8,699.6 636.0,757.8 636.2,718.6 636.4,719.4 636.6,747.3 636.8,719.3 637.0,735.5 637.2,719.3 637.4,743.7 637.6,724.7 637.8,707.1 638.0,698.7 638.2,733.7 638.4,702.9 638.6,687.9 638.8,727.6 639.0,746.5 639.2,747.8 639.4,716.6 639.6,718.1 639.8,708.4 640.0,750.4 640.2,737.3 640.4,738.6 640.6,709.1 640.8,702.0 641.0,704.2 641.2,727.4 641.4,708.9 641.6,721.6 641.8,724.0 642.0,707.0 642.2,724.0 642.4,715.5 642.6,700.0 642.8,749.7 643.0,720.1 643.2,717.6 643.4,736.6 643.6,735.6 643.8,725.6 644.0,719.8 644.2,746.2 644.4,734.5 644.6,731.8 644.8,699.7 645.0,721.3 645.2,715.0 645.4,741.8 645.6,729.0 645.8,748.0 646.0,750.0 646.2,724.0 646.4,743.4 646.6,699.8 646.8,705.5 647.0,745.8 647.2,732.2 647.4,750.8 647.6,752.2 647.8,708.9 648.0,703.1 648.2,742.1 648.4,742.8 648.6,766.3 648.8,718.7 649.0,716.3 649.2,734.3 649.4,734.3 649.6,701.1 649.8,736.7 650.0,712.4 650.2,731.2 650.4,729.7 650.6,747.3 650.8,732.8 651.0,749.0 651.2,750.1 651.4,741.9 651.6,740.2 651.8,723.7 652.0,767.0 652.2,728.1 652.4,729.1 652.6,713.0 652.8,729.2 653.0,737.0 653.2,744.5 653.4,752.5 653.6,738.9 653.8,735.7 654.0,728.5 654.2,739.7 654.4,741.1 654.6,716.9 654.8,716.0 655.0,713.7 655.2,722.0 655.4,737.5 655.6,741.7 655.8,708.6 656.0,720.8 656.2,715.2 656.4,747.5 656.6,701.9 656.8,709.9 657.0,734.1 657.2,720.1 657.4,717.4 657.6,723.0 657.8,748.5 658.0,701.2 658.2,746.6 658.4,752.8 658.6,701.3 658.8,704.8 659.0,744.1 659.2,742.8 659.4,747.1 659.6,702.4 659.8,733.0 660.0,706.9 660.2,727.5 660.4,750.5 660.6,748.3 660.8,739.9 661.0,744.4 661.2,721.4 661.4,720.8 661.6,752.5 661.8,720.8 662.0,722.7 662.2,706.2 662.4,741.3 662.6,734.3 662.8,730.7 663.0,704.6 663.2,725.5 663.4,705.8 663.6,742.7 663.8,722.0 664.0,735.1 664.2,701.6 664.4,713.6 664.6,709.8 664.8,735.9 665.0,707.9 665.2,726.5 665.4,742.8 665.6,743.9 665.8,720.5 666.0,754.4 666.2,727.4 666.4,743.0 666.6,708.1 666.8,703.2 667.0,731.8 667.2,708.5 667.4,701.5 667.6,703.5 667.8,718.7 668.0,750.3 668.2,715.7 668.4,707.8 668.6,741.2 668.8,750.2 669.0,734.9 669.2,731.1 669.4,734.7 669.6,690.0 669.8,724.3 670.0,743.8 670.2,753.3 670.4,702.6 670.6,691.0 670.8,724.9 671.0,727.1 671.2,738.3 671.4,748.7 671.6,720.2 671.8,746.6 672.0,705.3 672.2,767.3 672.4,732.1 672.6,730.4 672.8,745.6 673.0,714.3 673.2,713.7 673.4,735.7 673.6,754.5 673.8,713.9 674.0,749.3 674.2,718.3 674.4,744.9 674.6,713.0 674.8,745.3 675.0,752.5 675.2,742.1 675.4,757.3 675.6,717.0 675.8,729.6 676.0,750.3 676.2,742.3 676.4,746.1 676.6,758.0 676.8,709.3 677.0,728.6 677.2,717.7 677.4,753.3 677.6,732.2 677.8,729.6 678.0,739.9 678.2,722.4 678.4,763.6 678.6,750.5 678.8,736.8 679.0,748.4 679.2,714.1 679.4,748.6 679.6,739.6 679.8,718.6 680.0,729.0 680.2,760.0 680.4,735.9 680.6,743.4 680.8,716.4 681.0,740.0 681.2,715.3 681.4,755.7 681.6,721.3 681.8,730.6 682.0,732.2 682.2,726.3 682.4,720.4 682.6,726.1 682.8,754.3 683.0,719.5 683.2,743.7 683.4,735.2 683.6,734.5 683.8,740.7 684.0,766.2 684.2,756.9 684.4,729.8 684.6,731.3 684.8,770.1 685.0,726.9 685.2,752.3 685.4,754.2 685.6,729.9 685.8,719.6 686.0,724.7 686.2,739.4 686.4,735.5 686.6,740.5 686.8,719.3 687.0,720.2 687.2,730.6 687.4,770.1 687.6,759.2 687.8,774.3 688.0,721.8 688.2,724.0 688.4,737.6 688.6,761.1 688.8,746.6 689.0,770.4 689.2,732.0 689.4,745.2 689.6,730.4 689.8,746.8 690.0,772.1 690.2,761.1 690.4,757.1 690.6,744.2 690.8,768.0 691.0,745.5 691.2,740.7 691.4,761.7 691.6,770.5 691.8,759.4 692.0,754.2 692.2,761.8 692.4,731.9 692.6,726.9 692.8,766.7 693.0,752.1 693.2,770.1 693.4,737.7 693.6,725.5 693.8,770.7 694.0,748.3 694.2,752.6 694.4,769.8 694.6,750.5 694.8,757.9 695.0,762.1 695.2,727.7 695.4,766.4 695.6,754.4 695.8,713.1 696.0,765.3 696.2,768.7 696.4,747.2 696.6,727.2 696.8,758.4 697.0,730.2 697.2,737.8 697.4,775.3 697.6,745.5 697.8,739.6 698.0,773.1 698.2,770.2 698.4,726.7 698.6,744.2 698.8,732.7 699.0,768.7 699.2,755.2 699.4,761.4 699.6,731.1 699.8,767.2 700.0,768.2 700.2,731.6 700.4,764.7 700.6,725.5 700.8,770.1 701.0,753.9 701.2,746.6 701.4,764.4 701.6,765.8 701.8,783.7 702.0,743.6 702.2,762.1 702.4,728.6 702.6,744.6 702.8,768.8 703.0,746.7 703.2,739.1 703.4,738.1 703.6,779.0 703.8,762.1 704.0,759.9 704.2,769.8 704.4,763.3 704.6,743.3 704.8,767.6 705.0,760.5 705.2,761.6 705.4,788.9 705.6,774.3 705.8,743.9 706.0,737.3 706.2,734.0 706.4,746.4 706.6,737.9 706.8,779.8 707.0,760.5 707.2,768.4 707.4,754.8 707.6,760.0 707.8,733.5 708.0,759.6 708.2,777.5 708.4,741.8 708.6,756.5 708.8,749.5 709.0,763.8 709.2,738.4 709.4,767.1 709.6,756.3 709.8,741.7 710.0,775.9 710.2,781.6 710.4,773.9 710.6,778.2 710.8,780.4 711.0,742.8 711.2,741.0 711.4,745.3 711.6,738.0 711.8,762.0 712.0,782.5 712.2,773.5 712.4,738.5 712.6,775.5 712.8,777.5 713.0,749.4 713.2,751.7 713.4,772.4 713.6,754.2 713.8,784.8 714.0,775.5 714.2,777.9 714.4,783.2 714.6,782.0 714.8,777.2 715.0,747.6 715.2,774.1 715.4,737.8 715.6,770.2 715.8,768.0 716.0,760.4 716.2,767.3 716.4,754.0 716.6,764.7 716.8,759.6 717.0,777.1 717.2,761.1 717.4,742.7 717.6,745.0 717.8,778.2 718.0,752.4 718.2,771.5 718.4,742.4 718.6,747.8 718.8,757.2 719.0,758.1 719.2,782.3 719.4,777.4 719.6,769.2 719.8,766.2 720.0,766.9 720.2,779.7 720.4,786.3 720.6,747.2 720.8,780.1 721.0,728.5 721.2,771.3 721.4,749.2 721.6,772.5 721.8,788.4 722.0,748.9 722.2,778.9 722.4,784.8 722.6,773.9 722.8,788.4 723.0,790.0 723.2,754.1 723.4,763.8 723.6,760.7 723.8,749.7 724.0,745.9 724.2,746.9 724.4,771.7 724.6,774.5 724.8,786.9 725.0,755.9 725.2,779.5 725.4,755.0 725.6,745.5 725.8,768.7 726.0,752.4 726.2,782.7 726.4,778.3 726.6,776.4 726.8,762.5 727.0,781.3 727.2,756.0 727.4,745.6 727.6,783.4 727.8,745.4 728.0,790.9 728.2,756.2 728.4,762.7 728.6,751.7 728.8,800.9 729.0,762.4 729.2,766.5 729.4,768.3 729.6,758.8 729.8,761.9 730.0,789.7 730.2,756.2 730.4,747.4 730.6,765.1 730.8,767.3 731.0,790.4 731.2,771.6 731.4,787.7 731.6,787.0 731.8,749.1 732.0,781.8 732.2,765.1 732.4,793.8 732.6,792.0 732.8,791.3 733.0,788.6 733.2,755.3 733.4,796.2 733.6,739.3 733.8,751.6 734.0,772.8 734.2,778.0 734.4,760.9 734.6,754.7 734.8,794.8 735.0,755.6 735.2,750.8 735.4,776.3 735.6,752.6 735.8,787.4 736.0,750.3 736.2,753.3 736.4,768.9 736.6,758.5 736.8,779.8 737.0,794.5 737.2,784.7 737.4,776.9 737.6,787.5 737.8,761.7 738.0,780.3 738.2,793.8 738.4,795.4 738.6,772.1 738.8,767.0 739.0,788.1 739.2,798.1 739.4,765.4 739.6,757.9 739.8,756.9 740.0,780.1 740.2,784.9 740.4,800.1 740.6,799.0 740.8,782.0 741.0,785.9 741.2,773.0 741.4,799.2 741.6,796.4 741.8,791.1 742.0,789.2 742.2,770.5 742.4,780.1 742.6,755.6 742.8,760.9 743.0,786.9 743.2,796.1 743.4,802.0 743.6,792.1 743.8,775.2 744.0,766.2 744.2,786.7 744.4,780.1 744.6,760.6 744.8,781.6 745.0,771.0 745.2,762.9 745.4,791.6 745.6,761.7 745.8,779.7 746.0,792.6 746.2,765.0 746.4,771.2 746.6,756.5 746.8,767.2 747.0,773.4 747.2,801.1 747.4,788.2 747.6,779.3 747.8,760.3 748.0,761.0 748.2,798.4 748.4,793.1 748.6,794.1 748.8,763.1 749.0,765.7 749.2,763.5 749.4,762.8 749.6,783.8 749.8,780.7 750.0,796.0 750.2,762.9 750.4,764.1 750.6,802.6 750.8,789.9 751.0,792.6 751.2,799.2 751.4,782.1 751.6,806.8 751.8,765.5 752.0,786.4 752.2,771.9 752.4,805.9 752.6,785.1 752.8,783.2 753.0,777.7 753.2,799.9 753.4,773.0 753.6,749.4 753.8,792.3 754.0,787.6 754.2,762.4 754.4,763.1 754.6,798.1 754.8,794.2 755.0,765.0 755.2,783.8 755.4,803.6 755.6,801.5 755.8,815.7 756.0,772.4 756.2,773.6 756.4,801.6 756.6,795.8 756.8,796.6 757.0,767.4 757.2,809.9 757.4,801.1 757.6,764.3 757.8,783.0 758.0,764.9 758.2,797.2 758.4,795.2 758.6,775.7 758.8,805.6 759.0,807.2 759.2,776.6 759.4,792.0 759.6,800.6 759.8,769.7 760.0,794.7 760.2,784.6 760.4,777.1 760.6,791.6 760.8,789.6 761.0,782.4 761.2,794.1 761.4,821.6 761.6,781.6 761.8,788.2 762.0,802.2 762.2,801.2 762.4,771.3 762.6,811.7 762.8,792.0 763.0,796.0 763.2,798.1 763.4,797.4 763.6,826.8 763.8,810.4 764.0,808.0 764.2,780.1 764.4,810.2 764.6,785.0 764.8,796.6 765.0,811.2 765.2,768.8 765.4,803.3 765.6,778.2 765.8,802.3 766.0,780.5 766.2,809.1 766.4,773.7 766.6,798.2 766.8,790.8 767.0,811.6 767.2,815.8 767.4,763.0 767.6,784.6 767.8,801.4 768.0,788.1 768.2,779.4 768.4,801.1 768.6,779.1 768.8,779.4 769.0,782.3 769.2,811.4 769.4,802.5 769.6,791.2 769.8,803.2 770.0,792.3 770.2,793.8 770.4,775.1 770.6,801.4 770.8,805.4 771.0,805.6 771.2,779.4 771.4,774.1 771.6,781.8 771.8,805.5 772.0,780.7 772.2,777.5 772.4,779.7 772.6,774.7 772.8,775.9 773.0,812.3 773.2,789.6 773.4,815.2 773.6,815.3 773.8,785.2 774.0,811.6 774.2,815.8 774.4,774.8 774.6,787.5 774.8,790.3 775.0,810.3 775.2,777.8 775.4,782.0 775.6,792.3 775.8,800.1 776.0,809.9 776.2,813.6 776.4,769.2 776.6,775.0 776.8,816.0 777.0,792.3 777.2,815.7 777.4,775.5 777.6,793.6 777.8,783.0 778.0,785.0 778.2,819.4 778.4,816.8 778.6,784.2 778.8,795.1 779.0,794.0 779.2,794.6 779.4,774.2 779.6,806.1 779.8,803.4 780.0,792.1 780.2,794.4 780.4,811.2 780.6,777.3 780.8,796.1 781.0,782.6 781.2,795.3 781.4,805.4 781.6,812.6 781.8,778.3 782.0,819.6 782.2,794.6 782.4,786.9 782.6,817.0 782.8,809.5 783.0,799.0 783.2,776.8 783.4,812.1 783.6,811.9 783.8,817.8 784.0,795.2 784.2,777.6 784.4,802.5 784.6,777.7 784.8,811.3 785.0,803.4 785.2,810.6 785.4,796.1 785.6,787.9 785.8,811.7 786.0,789.5 786.2,798.9 786.4,797.2 786.6,803.4 786.8,819.2 787.0,802.8 787.2,809.6 787.4,811.2 787.6,789.2 787.8,804.1 788.0,812.8 788.2,805.6 788.4,810.0 788.6,809.0 788.8,794.3 789.0,798.2 789.2,793.1 789.4,793.5 789.6,799.5 789.8,790.5 790.0,822.9 790.2,770.1 790.4,816.1 790.6,813.3 790.8,812.4 791.0,806.4 791.2,806.2 791.4,833.3 791.6,795.9 791.8,806.9 792.0,806.9 792.2,768.3 792.4,811.1 792.6,792.9 792.8,792.1 793.0,824.5 793.2,816.4 793.4,808.5 793.6,823.8 793.8,779.8 794.0,819.4 794.2,798.2 794.4,806.7 794.6,799.6 794.8,811.9 795.0,802.2 795.2,794.5 795.4,814.8 795.6,803.9 795.8,819.4 796.0,796.1 796.2,793.1 796.4,792.1 796.6,807.2 796.8,797.6 797.0,793.7 797.2,815.6 797.4,827.1 797.6,801.1 797.8,786.0 798.0,817.4 798.2,802.0 798.4,792.5 798.6,806.0 798.8,817.8 799.0,804.4 799.2,803.5 799.4,837.4 799.6,797.9 799.8,807.1 800.0,794.4 800.2,799.0 800.4,817.4 800.6,798.9 800.8,795.5 801.0,828.6 801.2,797.7 801.4,814.7 801.6,812.4 801.8,788.2 802.0,789.7 802.2,807.3 802.4,819.1 802.6,818.8 802.8,790.7 803.0,808.2 803.2,827.6 803.4,798.5 803.6,811.2 803.8,800.5 804.0,794.2 804.2,822.9 804.4,790.6 804.6,795.6 804.8,802.5 805.0,820.8 805.2,829.7 805.4,780.9 805.6,796.1 805.8,795.2 806.0,821.8 806.2,801.7 806.4,814.7 806.6,812.7 806.8,807.4 807.0,823.0 807.2,815.5 807.4,814.0 807.6,801.4 807.8,790.2 808.0,824.2 808.2,832.2 808.4,824.5 808.6,797.0 808.8,817.0 809.0,816.5 809.2,827.1 809.4,800.0 809.6,792.1 809.8,817.3 810.0,813.8 810.2,796.2 810.4,805.9 810.6,802.9 810.8,826.2 811.0,820.8 811.2,835.5 811.4,813.8 811.6,828.4 811.8,815.9 812.0,830.6 812.2,828.7 812.4,802.3 812.6,809.2 812.8,832.0 813.0,792.5 813.2,814.7 813.4,817.3 813.6,813.1 813.8,815.7 814.0,818.3 814.2,828.2 814.4,802.3 814.6,818.1 814.8,822.8 815.0,815.3 815.2,825.4 815.4,802.8 815.6,822.9 815.8,801.1 816.0,802.3 816.2,810.9 816.4,809.7 816.6,822.6 816.8,828.6 817.0,833.4 817.2,797.6 817.4,813.1 817.6,815.1 817.8,821.4 818.0,819.5 818.2,792.8 818.4,830.8 818.6,823.4 818.8,833.4 819.0,802.8 819.2,817.2 819.4,807.5 819.6,807.7 819.8,803.5 820.0,823.2 820.2,798.2 820.4,806.0 820.6,817.3 820.8,831.6 821.0,795.2 821.2,813.5 821.4,819.1 821.6,794.1 821.8,818.4 822.0,836.2 822.2,845.2 822.4,818.9 822.6,811.0 822.8,801.3 823.0,813.3 823.2,815.4 823.4,816.8 823.6,818.2 823.8,795.7 824.0,834.0 824.2,819.6 824.4,796.7 824.6,826.6 824.8,809.8 825.0,819.5 825.2,800.8 825.4,822.9 825.6,790.8 825.8,809.0 826.0,824.9 826.2,822.2 826.4,827.3 826.6,819.4 826.8,834.5 827.0,787.6 827.2,801.8 827.4,832.2 827.6,834.5 827.8,800.9 828.0,794.1 828.2,811.1 828.4,839.4 828.6,798.5 828.8,820.8 829.0,832.5 829.2,813.5 829.4,830.2 829.6,820.1 829.8,798.7 830.0,840.7 830.2,790.4 830.4,831.0 830.6,838.5 830.8,810.8 831.0,827.3 831.2,819.3 831.4,835.9 831.6,807.0 831.8,827.1 832.0,838.6 832.2,825.3 832.4,827.6 832.6,816.5 832.8,831.7 833.0,805.5 833.2,834.7 833.4,808.0 833.6,837.9 833.8,836.6 834.0,816.3 834.2,825.6 834.4,832.6 834.6,810.1 834.8,790.7 835.0,800.0 835.2,831.8 835.4,830.4 835.6,807.7 835.8,835.2 836.0,838.9 836.2,838.1 836.4,826.3 836.6,824.7 836.8,813.5 837.0,803.3 837.2,818.4 837.4,836.9 837.6,807.3 837.8,818.6 838.0,837.5 838.2,811.1 838.4,826.2 838.6,844.3 838.8,832.2 839.0,842.3 839.2,837.7 839.4,851.8 839.6,839.7 839.8,813.6 840.0,815.7 840.2,811.4 840.4,806.2 840.6,846.1 840.8,807.9 841.0,811.7 841.2,844.7 841.4,846.3 841.6,829.1 841.8,828.6 842.0,828.6 842.2,812.5 842.4,821.8 842.6,833.7 842.8,813.9 843.0,820.0 843.2,805.8 843.4,837.4 843.6,825.4 843.8,830.4 844.0,805.6 844.2,806.6 844.4,809.1 844.6,828.8 844.8,851.6 845.0,820.3 845.2,809.7 845.4,824.7 845.6,799.9 845.8,807.5 846.0,804.9 846.2,826.6 846.4,847.4 846.6,818.3 846.8,815.5 847.0,847.1 847.2,804.5 847.4,804.6 847.6,805.3 847.8,837.2 848.0,813.2 848.2,836.1 848.4,843.4 848.6,806.7 848.8,810.2 849.0,843.7 849.2,839.9 849.4,825.5 849.6,841.2 849.8,813.7 850.0,832.0 850.2,843.8 850.4,825.7 850.6,846.1 850.8,847.6 851.0,838.2 851.2,824.6 851.4,806.2 851.6,828.0 851.8,825.8 852.0,812.6 852.2,830.1 852.4,819.0 852.6,819.5 852.8,858.2 853.0,793.4 853.2,804.4 853.4,830.1 853.6,800.7 853.8,827.9 854.0,824.3 854.2,812.4 854.4,840.0 854.6,843.0 854.8,825.4 855.0,831.1 855.2,825.9 855.4,830.5 855.6,809.0 855.8,839.1 856.0,836.4 856.2,809.4 856.4,817.5 856.6,855.7 856.8,807.4 857.0,840.5 857.2,810.5 857.4,855.8 857.6,847.0 857.8,819.3 858.0,816.0 858.2,827.3 858.4,828.8 858.6,822.5 858.8,844.8 859.0,846.1 859.2,806.9 859.4,839.9 859.6,820.7 859.8,824.0 860.0,812.4 860.2,823.9 860.4,809.5 860.6,811.2 860.8,819.4 861.0,820.4 861.2,832.5 861.4,828.8 861.6,814.3 861.8,822.1 862.0,829.9 862.2,818.8 862.4,842.5 862.6,828.4 862.8,807.9 863.0,805.6 863.2,827.4 863.4,834.1 863.6,821.8 863.8,845.3 864.0,806.6 864.2,834.4 864.4,834.6 864.6,828.4 864.8,832.8 865.0,814.1 865.2,809.1 865.4,817.5 865.6,807.1 865.8,829.3 866.0,842.1 866.2,822.4 866.4,836.1 866.6,810.5 866.8,827.9 867.0,814.6 867.2,827.1 867.4,821.3 867.6,816.9 867.8,835.9 868.0,830.2 868.2,839.0 868.4,834.4 868.6,817.1 868.8,801.5 869.0,818.4 869.2,804.5 869.4,800.2 869.6,798.9 869.8,841.6 870.0,832.8 870.2,816.5 870.4,814.3 870.6,813.2 870.8,816.6 871.0,840.4 871.2,805.6 871.4,825.4 871.6,807.1 871.8,834.7 872.0,830.7 872.2,794.1 872.4,827.5 872.6,804.6 872.8,801.1 873.0,838.2 873.2,825.2 873.4,805.2 873.6,830.2 873.8,800.5 874.0,818.6 874.2,804.9 874.4,792.0 874.6,797.8 874.8,795.0 875.0,808.7 875.2,801.2 875.4,815.0 875.6,805.6 875.8,797.0 876.0,794.0 876.2,799.0 876.4,826.9 876.6,810.4 876.8,799.5 877.0,802.5 877.2,800.1 877.4,777.0 877.6,777.8 877.8,783.6 878.0,800.0 878.2,787.1 878.4,790.4 878.6,815.8 878.8,781.3 879.0,801.1 879.2,813.9 879.4,787.6 879.6,772.4 879.8,785.9 880.0,813.7 880.2,791.4 880.4,791.1 880.6,796.2 880.8,766.1 881.0,766.8 881.2,791.0 881.4,773.1 881.6,777.2 881.8,776.9 882.0,794.5 882.2,756.0 882.4,779.2 882.6,772.0 882.8,765.3 883.0,742.4 883.2,775.9 883.4,752.2 883.6,780.8 883.8,770.0 884.0,735.2 884.2,744.4 884.4,775.8 884.6,737.5 884.8,719.7 885.0,727.2 885.2,747.8 885.4,721.1 885.6,745.5 885.8,711.7 886.0,740.1 886.2,722.7 886.4,710.1 886.6,736.2 886.8,691.4 887.0,721.9 887.2,687.0 887.4,710.9 887.6,719.7 887.8,703.3 888.0,683.5 888.2,698.7 888.4,692.6 888.6,662.6 888.8,682.9 889.0,706.6 889.2,684.1 889.4,702.7 889.6,672.4 889.8,692.9 890.0,672.2 890.2,677.8 890.4,671.0 890.6,676.7 890.8,696.7 891.0,664.9 891.2,653.4 891.4,661.6 891.6,668.6 891.8,673.3 892.0,689.8 892.2,657.3 892.4,625.4 892.6,674.8 892.8,632.6 893.0,684.6 893.2,678.8 893.4,638.8 893.6,640.8 893.8,677.1 894.0,667.2 894.2,664.7 894.4,664.3 894.6,673.4 894.8,638.7 895.0,653.4 895.2,621.2 895.4,659.4 895.6,623.5 895.8,633.4 896.0,629.9 896.2,634.4 896.4,663.4 896.6,651.2 896.8,605.1 897.0,646.5 897.2,605.3 897.4,618.5 897.6,628.7 897.8,593.7 898.0,627.7 898.2,648.3 898.4,601.9 898.6,639.6 898.8,627.3 899.0,641.9 899.2,604.8 899.4,646.3 899.6,603.6 899.8,611.6 900.0,625.8 900.2,646.5 900.4,650.0 900.6,644.9 900.8,633.5 901.0,652.2 901.2,636.4 901.4,626.0 901.6,666.7 901.8,663.9 902.0,649.8 902.2,685.8 902.4,632.8 902.6,682.8 902.8,656.0 903.0,684.8 903.2,693.8 903.4,712.4 903.6,700.6 903.8,696.7 904.0,721.0 904.2,723.4 904.4,718.4 904.6,708.2 904.8,703.9 905.0,723.2 905.2,749.4 905.4,733.2 905.6,752.8 905.8,716.3 906.0,753.8 906.2,717.2 906.4,729.7 906.6,764.2 906.8,737.5 907.0,769.9 907.2,764.4 907.4,754.4 907.6,747.5 907.8,764.0 908.0,763.1 908.2,746.1 908.4,741.7 908.6,747.5 908.8,741.0 909.0,774.3 909.2,778.8 909.4,747.2 909.6,762.4 909.8,782.2 910.0,751.3 910.2,760.3 910.4,775.7 910.6,794.8 910.8,774.0 911.0,762.1 911.2,778.9 911.4,787.0 911.6,802.7 911.8,783.4 912.0,796.8 912.2,808.9 912.4,782.2 912.6,799.0 912.8,819.2 913.0,817.4 913.2,779.4 913.4,787.4 913.6,810.9 913.8,790.4 914.0,782.4 914.2,790.0 914.4,810.3 914.6,827.4 914.8,798.0 915.0,807.6 915.2,803.4 915.4,789.1 915.6,843.7 915.8,801.9 916.0,828.4 916.2,807.7 916.4,802.1 916.6,795.8 916.8,831.1 917.0,808.8 917.2,799.0 917.4,809.4 917.6,833.2 917.8,813.3 918.0,817.7 918.2,814.3 918.4,805.3 918.6,816.5 918.8,821.9 919.0,818.6 919.2,816.0 919.4,813.9 919.6,822.8 919.8,810.9 920.0,815.9 920.2,813.5 920.4,830.9 920.6,816.9 920.8,845.8 921.0,815.8 921.2,838.0 921.4,824.2 921.6,835.6 921.8,838.0 922.0,836.0 922.2,825.9 922.4,812.6 922.6,845.8 922.8,845.5 923.0,831.2 923.2,814.6 923.4,846.7 923.6,817.7 923.8,816.4 924.0,809.4 924.2,828.2 924.4,838.6 924.6,837.8 924.8,828.5 925.0,848.6 925.2,813.4 925.4,848.3 925.6,850.7 925.8,829.0 926.0,833.0 926.2,827.3 926.4,827.7 926.6,846.5 926.8,822.2 927.0,851.6 927.2,841.5 927.4,842.8 927.6,820.2 927.8,815.6 928.0,832.7 928.2,837.3 928.4,824.0 928.6,850.7 928.8,810.8 929.0,816.6 929.2,818.5 929.4,849.2 929.6,834.8 929.8,827.2 930.0,811.5 930.2,838.3 930.4,838.4 930.6,834.7 930.8,833.4 931.0,841.8 931.2,833.8 931.4,811.1 931.6,827.8 931.8,828.0 932.0,830.2 932.2,832.4 932.4,844.2 932.6,817.2 932.8,834.4 933.0,846.4 933.2,838.8 933.4,825.6 933.6,824.0 933.8,813.0 934.0,834.0 934.2,825.0 934.4,818.8 934.6,836.9 934.8,817.3 935.0,821.1 935.2,813.7 935.4,845.5 935.6,838.3 935.8,829.5 936.0,854.1 936.2,842.0 936.4,850.4 936.6,829.0 936.8,843.0 937.0,848.9 937.2,853.9 937.4,847.0 937.6,828.4 937.8,832.1 938.0,817.4 938.2,824.2 938.4,850.5 938.6,830.8 938.8,856.6 939.0,838.6 939.2,842.7 939.4,828.2 939.6,845.9 939.8,841.9 940.0,837.4 940.2,849.8 940.4,821.9 940.6,836.7 940.8,838.5 941.0,843.8 941.2,844.8 941.4,846.5 941.6,860.0 941.8,858.2 942.0,855.3 942.2,857.9 942.4,833.8 942.6,852.0 942.8,858.3 943.0,853.7 943.2,840.5 943.4,823.9 943.6,842.0 943.8,822.7 944.0,821.0 944.2,834.9 944.4,835.4 944.6,837.8 944.8,842.1 945.0,859.0 945.2,813.4 945.4,843.1 945.6,825.2 945.8,848.2 946.0,852.4 946.2,853.9 946.4,824.8 946.6,856.9 946.8,824.9 947.0,839.9 947.2,843.8 947.4,826.1 947.6,865.5 947.8,855.7 948.0,833.7 948.2,859.7 948.4,837.6 948.6,831.2 948.8,832.8 949.0,823.6 949.2,855.9 949.4,845.3 949.6,853.2 949.8,857.0 950.0,825.4 950.2,825.1 950.4,837.4 950.6,828.4 950.8,849.7 951.0,826.7 951.2,853.6 951.4,833.2 951.6,822.7 951.8,840.3 952.0,840.9 952.2,862.9 952.4,857.2 952.6,825.4 952.8,832.8 953.0,850.8 953.2,838.9 953.4,837.8 953.6,863.3 953.8,853.0 954.0,848.3 954.2,859.5 954.4,851.8 954.6,830.1 954.8,859.1 955.0,839.7 955.2,860.0 955.4,824.2 955.6,844.7 955.8,834.6 956.0,846.5 956.2,841.0 956.4,844.4 956.6,835.2 956.8,826.6 957.0,840.0 957.2,819.6 957.4,824.9 957.6,830.4 957.8,864.7 958.0,858.0 958.2,865.2 958.4,841.9 958.6,859.4 958.8,846.6 959.0,855.7 959.2,838.5 959.4,834.4 959.6,861.0 959.8,826.9 960.0,843.0 960.2,826.6 960.4,835.3 960.6,864.5 960.8,840.7 961.0,839.0 961.2,822.2 961.4,833.5 961.6,839.7 961.8,854.4 962.0,864.7 962.2,827.4 962.4,860.8 962.6,864.5 962.8,831.4 963.0,853.7 963.2,829.9 963.4,861.7 963.6,832.7 963.8,849.3 964.0,838.1 964.2,848.5 964.4,848.5 964.6,827.2 964.8,863.6 965.0,844.3 965.2,850.6 965.4,839.1 965.6,855.5 965.8,826.7 966.0,849.0 966.2,838.9 966.4,838.9 966.6,834.4 966.8,851.9 967.0,858.2 967.2,862.6 967.4,858.5 967.6,848.2 967.8,832.5 968.0,860.2 968.2,844.8 968.4,831.5 968.6,856.9 968.8,844.6 969.0,827.9 969.2,842.1 969.4,837.4 969.6,833.4 969.8,841.5 970.0,862.3 970.2,842.1 970.4,829.8 970.6,838.7 970.8,847.5 971.0,832.1 971.2,832.2 971.4,861.1 971.6,852.5 971.8,857.1 972.0,852.6 972.2,856.2 972.4,854.7 972.6,816.8 972.8,849.2 973.0,841.5 973.2,856.3 973.4,867.3 973.6,836.9 973.8,843.0 974.0,839.0 974.2,836.6 974.4,847.9 974.6,849.2 974.8,863.5 975.0,862.0 975.2,853.3 975.4,828.6 975.6,863.2 975.8,847.1 976.0,862.9 976.2,877.7 976.4,858.2 976.6,829.7 976.8,852.5 977.0,825.7 977.2,837.2 977.4,864.6 977.6,855.3 977.8,831.1 978.0,856.6 978.2,851.6 978.4,831.2 978.6,829.8 978.8,868.5 979.0,841.3 979.2,856.0 979.4,847.6 979.6,850.9 979.8,854.3 980.0,866.7 980.2,829.8 980.4,874.1 980.6,852.6 980.8,834.0 981.0,837.5 981.2,862.2 981.4,836.1 981.6,855.7 981.8,829.3 982.0,859.6 982.2,845.8 982.4,849.5 982.6,877.4 982.8,865.8 983.0,845.9 983.2,846.1 983.4,830.9 983.6,840.1 983.8,850.2 984.0,836.9 984.2,843.4 984.4,829.6 984.6,831.8 984.8,853.8 985.0,854.5 985.2,867.2 985.4,839.8 985.6,839.6 985.8,838.7 986.0,858.9 986.2,845.1 986.4,843.8 986.6,853.4 986.8,828.1 987.0,850.8 987.2,827.1 987.4,866.2 987.6,827.1 987.8,819.7 988.0,834.5 988.2,829.3 988.4,839.1 988.6,860.1 988.8,825.7 989.0,835.6 989.2,852.7 989.4,827.8 989.6,837.9 989.8,821.4 990.0,833.4 990.2,831.8 990.4,852.4 990.6,828.9 990.8,824.8 991.0,826.0 991.2,861.7 991.4,854.2 991.6,813.9 991.8,865.4 992.0,859.8 992.2,851.3 992.4,863.3 992.6,856.1 992.8,851.2 993.0,837.9 993.2,830.1 993.4,849.9 993.6,835.4 993.8,838.3 994.0,824.9 994.2,872.3 994.4,854.3 994.6,846.2 994.8,823.9 995.0,830.5 995.2,824.2 995.4,859.2 995.6,839.2 995.8,841.9 996.0,854.1 996.2,823.0 996.4,845.3 996.6,843.7 996.8,818.2 997.0,863.6 997.2,845.3 997.4,835.3 997.6,843.4 997.8,833.2 998.0,855.1 998.2,837.4 998.4,834.6 998.6,831.3 998.8,825.0 999.0,831.5 999.2,837.6 999.4,862.5 999.6,856.3 999.8,829.1 1000.0,851.7 1000.2,827.6 1000.4,858.3 1000.6,839.7 1000.8,836.9 1001.0,826.3 1001.2,861.0 1001.4,822.1 1001.6,841.6 1001.8,852.2 1002.0,829.1 1002.2,825.3 1002.4,841.5 1002.6,834.9 1002.8,826.1 1003.0,826.1 1003.2,834.2 1003.4,824.4 1003.6,831.7 1003.8,851.7 1004.0,833.8 1004.2,822.5 1004.4,834.1 1004.6,822.4 1004.8,809.6 1005.0,823.2 1005.2,823.2 1005.4,822.5 1005.6,811.1 1005.8,840.5 1006.0,829.6 1006.2,845.7 1006.4,831.2 1006.6,838.8 1006.8,830.9 1007.0,829.9 1007.2,822.2 1007.4,821.3 1007.6,823.2 1007.8,803.0 1008.0,802.9 1008.2,852.4 1008.4,803.2 1008.6,824.2 1008.8,827.4 1009.0,800.9 1009.2,829.2 1009.4,833.8 1009.6,802.3 1009.8,819.7 1010.0,819.5 1010.2,799.6 1010.4,811.3 1010.6,814.2 1010.8,829.6 1011.0,818.4 1011.2,799.8 1011.4,823.4 1011.6,805.2 1011.8,819.4 1012.0,802.5 1012.2,827.7 1012.4,804.7 1012.6,806.4 1012.8,794.7 1013.0,832.0 1013.2,800.5 1013.4,819.9 1013.6,791.1 1013.8,793.7 1014.0,793.3 1014.2,819.9 1014.4,812.7 1014.6,792.6 1014.8,810.2 1015.0,791.8 1015.2,800.7 1015.4,827.6 1015.6,799.8 1015.8,800.5 1016.0,808.8 1016.2,820.9 1016.4,825.8 1016.6,816.5 1016.8,784.9 1017.0,814.4 1017.2,770.0 1017.4,804.6 1017.6,786.2 1017.8,791.1 1018.0,787.1 1018.2,820.6 1018.4,783.2 1018.6,788.6 1018.8,792.0 1019.0,785.6 1019.2,795.3 1019.4,789.2 1019.6,810.5 1019.8,798.3 1020.0,808.1 1020.2,791.3 1020.4,819.2 1020.6,807.8 1020.8,812.3 1021.0,795.0 1021.2,784.0 1021.4,773.7 1021.6,777.8 1021.8,796.0 1022.0,796.3 1022.2,807.1 1022.4,774.9 1022.6,765.0 1022.8,768.6 1023.0,786.9 1023.2,789.0 1023.4,797.7 1023.6,786.5 1023.8,766.1 1024.0,757.5 1024.2,789.1 1024.4,761.8 1024.6,785.6 1024.8,760.5 1025.0,780.9 1025.2,788.9 1025.4,784.3 1025.6,790.4 1025.8,778.8 1026.0,766.1 1026.2,760.4 1026.4,763.0 1026.6,756.5 1026.8,754.1 1027.0,755.9 1027.2,751.4 1027.4,747.0 1027.6,792.5 1027.8,778.1 1028.0,755.6 1028.2,784.0 1028.4,784.5 1028.6,786.3 1028.8,774.9 1029.0,788.8 1029.2,791.2 1029.4,810.4 1029.6,813.6 1029.8,788.8 1030.0,792.7 1030.2,793.4 1030.4,793.4 1030.6,807.9 1030.8,790.5 1031.0,818.4 1031.2,812.8 1031.4,801.1 1031.6,800.3 1031.8,806.9 1032.0,804.3 1032.2,796.4 1032.4,810.5 1032.6,818.1 1032.8,810.0 1033.0,836.6 1033.2,809.6 1033.4,794.2 1033.6,814.2 1033.8,842.2 1034.0,845.0 1034.2,836.0 1034.4,839.1 1034.6,822.5 1034.8,832.2 1035.0,830.1 1035.2,828.0 1035.4,832.9 1035.6,837.5 1035.8,835.4 1036.0,841.1 1036.2,831.8 1036.4,843.8 1036.6,830.7 1036.8,843.5 1037.0,857.5 1037.2,840.0 1037.4,852.3 1037.6,831.8 1037.8,834.6 1038.0,850.1 1038.2,853.5 1038.4,849.3 1038.6,838.7 1038.8,829.7 1039.0,843.9 1039.2,833.7 1039.4,824.9 1039.6,849.8 1039.8,840.0 1040.0,843.5 1040.2,855.8 1040.4,845.2 1040.6,843.0 1040.8,827.1 1041.0,839.6 1041.2,827.7 1041.4,848.5 1041.6,843.9 1041.8,841.0 1042.0,830.9 1042.2,861.3 1042.4,862.9 1042.6,831.8 1042.8,836.1 1043.0,879.4 1043.2,852.7 1043.4,851.5 1043.6,857.6 1043.8,847.9 1044.0,863.5 1044.2,849.2 1044.4,871.5 1044.6,862.8 1044.8,874.1 1045.0,867.6 1045.2,855.2 1045.4,835.7 1045.6,838.1 1045.8,867.2 1046.0,851.6 1046.2,862.5 1046.4,869.7 1046.6,875.4 1046.8,852.5 1047.0,875.0 1047.2,845.7 1047.4,862.0 1047.6,872.5 1047.8,846.0 1048.0,875.4 1048.2,871.6 1048.4,875.7 1048.6,841.9 1048.8,830.2 1049.0,861.1 1049.2,848.1 1049.4,872.4 1049.6,863.7 1049.8,841.8 1050.0,868.6 1050.2,846.8 1050.4,865.2 1050.6,860.1 1050.8,867.8 1051.0,855.9 1051.2,858.7 1051.4,861.3 1051.6,876.4 1051.8,846.4 1052.0,853.4 1052.2,863.5 1052.4,849.8 1052.6,880.1 1052.8,878.1 1053.0,857.2 1053.2,843.9 1053.4,868.3 1053.6,872.1 1053.8,855.0 1054.0,845.7 1054.2,846.9 1054.4,863.7 1054.6,859.4 1054.8,861.3 1055.0,844.7 1055.2,867.8 1055.4,875.5 1055.6,852.4 1055.8,854.4 1056.0,839.2 1056.2,872.3 1056.4,847.7 1056.6,858.0 1056.8,895.5 1057.0,863.9 1057.2,862.7 1057.4,850.4 1057.6,875.4 1057.8,865.6 1058.0,869.6 1058.2,880.7 1058.4,850.8 1058.6,883.8 1058.8,853.2 1059.0,873.2 1059.2,885.7 1059.4,851.3 1059.6,870.3 1059.8,861.2 1060.0,867.1 1060.2,873.5 1060.4,875.4 1060.6,863.6 1060.8,843.0 1061.0,877.5 1061.2,877.6 1061.4,863.1 1061.6,887.6 1061.8,885.3 1062.0,876.2 1062.2,875.7 1062.4,856.2 1062.6,879.8 1062.8,850.6 1063.0,885.4 1063.2,863.5 1063.4,840.1 1063.6,853.0 1063.8,879.4 1064.0,857.4 1064.2,855.6 1064.4,869.0 1064.6,876.0 1064.8,862.0 1065.0,885.8 1065.2,884.8 1065.4,856.4 1065.6,879.2 1065.8,872.8 1066.0,874.7 1066.2,884.5 1066.4,856.6 1066.6,856.9 1066.8,863.5 1067.0,853.6 1067.2,850.0 1067.4,867.9 1067.6,860.4 1067.8,880.1 1068.0,852.1 1068.2,855.2 1068.4,889.6 1068.6,854.7 1068.8,867.2 1069.0,855.7 1069.2,866.8 1069.4,871.1 1069.6,852.9 1069.8,860.2 1070.0,890.1 1070.2,858.2 1070.4,865.4 1070.6,858.8 1070.8,870.0 1071.0,857.8 1071.2,884.3 1071.4,855.2 1071.6,853.0 1071.8,886.2 1072.0,859.7 1072.2,869.8 1072.4,884.1 1072.6,886.8 1072.8,870.6 1073.0,864.0 1073.2,867.5 1073.4,891.4 1073.6,878.5 1073.8,873.4 1074.0,862.3 1074.2,869.9 1074.4,889.4 1074.6,884.9 1074.8,869.8 1075.0,887.2 1075.2,861.9 1075.4,886.1 1075.6,887.9 1075.8,881.8 1076.0,857.0 1076.2,860.1 1076.4,864.5 1076.6,878.0 1076.8,887.7 1077.0,872.4 1077.2,883.7 1077.4,881.3 1077.6,878.2 1077.8,878.2 1078.0,857.9 1078.2,877.3 1078.4,862.5 1078.6,876.0 1078.8,870.9 1079.0,896.6 1079.2,860.3 1079.4,862.3 1079.6,862.1 1079.8,878.0 1080.0,859.1 1080.2,890.8 1080.4,870.5 1080.6,875.1 1080.8,883.8 1081.0,865.1 1081.2,865.3 1081.4,874.5 1081.6,864.5 1081.8,875.6 1082.0,875.3 1082.2,859.5 1082.4,856.0 1082.6,872.0 1082.8,866.4 1083.0,868.1 1083.2,895.1 1083.4,849.4 1083.6,868.7 1083.8,857.7 1084.0,868.4 1084.2,882.1 1084.4,866.9 1084.6,883.4 1084.8,884.8 1085.0,863.5 1085.2,858.3 1085.4,887.5 1085.6,881.6 1085.8,863.3 1086.0,866.3 1086.2,883.6 1086.4,864.9 1086.6,863.8 1086.8,863.4 1087.0,876.5 1087.2,878.3 1087.4,868.3 1087.6,850.7 1087.8,863.7 1088.0,857.5 1088.2,867.4 1088.4,883.5 1088.6,893.2 1088.8,858.9 1089.0,873.9 1089.2,876.6 1089.4,880.3 1089.6,891.2 1089.8,872.0 1090.0,889.9 1090.2,881.8 1090.4,879.8 1090.6,891.8 1090.8,875.3 1091.0,883.7 1091.2,866.7 1091.4,875.6 1091.6,882.4 1091.8,870.9 1092.0,886.2 1092.2,874.3 1092.4,869.9 1092.6,878.1 1092.8,871.9 1093.0,886.4 1093.2,870.2 1093.4,859.0 1093.6,892.8 1093.8,901.5 1094.0,869.1 1094.2,876.0 1094.4,870.5 1094.6,872.9 1094.8,893.7 1095.0,880.7 1095.2,894.4 1095.4,866.3 1095.6,890.8 1095.8,883.5 1096.0,885.8 1096.2,882.9 1096.4,886.3 1096.6,886.1 1096.8,876.9 1097.0,859.5 1097.2,875.4 1097.4,869.7 1097.6,897.2 1097.8,871.8 1098.0,884.1 1098.2,894.2 1098.4,881.6 1098.6,874.6 1098.8,880.8 1099.0,892.0 1099.2,887.0 1099.4,880.3 1099.6,861.1 1099.8,867.5 1100.0,861.9 1100.2,870.3 1100.4,896.0 1100.6,884.9 1100.8,894.9 1101.0,886.4 1101.2,889.1 1101.4,866.2 1101.6,878.1 1101.8,879.1 1102.0,879.8 1102.2,860.4 1102.4,896.5 1102.6,883.4 1102.8,866.9 1103.0,883.4 1103.2,874.5 1103.4,860.8 1103.6,906.7 1103.8,866.6 1104.0,891.3 1104.2,877.4 1104.4,871.1 1104.6,870.5 1104.8,883.4 1105.0,874.3 1105.2,871.9 1105.4,868.5 1105.6,891.6 1105.8,877.9 1106.0,896.4 1106.2,866.3 1106.4,870.8 1106.6,877.8 1106.8,870.8 1107.0,851.2 1107.2,881.8 1107.4,872.5 1107.6,871.5 1107.8,892.3 1108.0,887.4 1108.2,872.8 1108.4,889.6 1108.6,893.4 1108.8,869.8 1109.0,876.3 1109.2,886.8 1109.4,886.8 1109.6,880.5 1109.8,873.2 1110.0,865.9 1110.2,874.2 1110.4,890.3 1110.6,894.1 1110.8,861.3 1111.0,874.3 1111.2,869.9 1111.4,873.5 1111.6,862.6 1111.8,888.2 1112.0,869.0 1112.2,877.5 1112.4,883.4 1112.6,894.4 1112.8,896.1 1113.0,882.8 1113.2,885.2 1113.4,885.7 1113.6,885.8 1113.8,891.7 1114.0,878.7 1114.2,872.4 1114.4,888.5 1114.6,880.8 1114.8,861.2 1115.0,868.4 1115.2,894.8 1115.4,886.0 1115.6,871.4 1115.8,886.0 1116.0,887.0 1116.2,874.2 1116.4,865.5 1116.6,868.8 1116.8,886.9 1117.0,867.4 1117.2,877.7 1117.4,871.6 1117.6,890.9 1117.8,877.6 1118.0,877.1 1118.2,879.5 1118.4,862.3 1118.6,887.8 1118.8,867.0 1119.0,882.8 1119.2,894.1 1119.4,876.3 1119.6,885.4 1119.8,872.0 1120.0,892.6 1120.2,898.6 1120.4,883.4 1120.6,891.9 1120.8,895.6 1121.0,878.9 1121.2,867.8 1121.4,874.3 1121.6,890.7 1121.8,900.4 1122.0,898.6 1122.2,884.4 1122.4,889.5 1122.6,894.2 1122.8,866.4 1123.0,869.2 1123.2,875.1 1123.4,879.2 1123.6,866.8 1123.8,866.3 1124.0,880.3 1124.2,900.2 1124.4,869.5 1124.6,873.2 1124.8,888.7 1125.0,879.6 1125.2,884.3 1125.4,855.5 1125.6,878.3 1125.8,872.5 1126.0,874.0 1126.2,879.7 1126.4,861.9 1126.6,878.8 1126.8,892.2 1127.0,895.7 1127.2,898.2 1127.4,878.6 1127.6,894.8 1127.8,877.3 1128.0,899.6 1128.2,896.6 1128.4,899.7 1128.6,899.8 1128.8,876.2 1129.0,877.0 1129.2,877.0 1129.4,890.4 1129.6,879.3 1129.8,880.2 1130.0,868.5 1130.2,871.5 1130.4,884.1 1130.6,878.9 1130.8,901.2 1131.0,872.9 1131.2,868.7 1131.4,895.9 1131.6,889.3 1131.8,875.8 1132.0,894.4 1132.2,884.3 1132.4,886.8 1132.6,902.4 1132.8,877.5 1133.0,887.7 1133.2,875.2 1133.4,865.3 1133.6,902.0 1133.8,902.2 1134.0,880.2 1134.2,869.7 1134.4,882.6 1134.6,873.9 1134.8,892.1 1135.0,879.2 1135.2,883.1 1135.4,891.1 1135.6,873.4 1135.8,874.8 1136.0,874.8 1136.2,897.1 1136.4,900.1 1136.6,899.5 1136.8,891.2 1137.0,899.0 1137.2,878.9 1137.4,876.9 1137.6,902.0 1137.8,886.3 1138.0,905.5 1138.2,892.8 1138.4,883.0 1138.6,902.5 1138.8,884.6 1139.0,905.6 1139.2,879.8 1139.4,881.0 1139.6,883.5 1139.8,890.0 1140.0,900.8 1140.2,885.9 1140.4,899.0 1140.6,873.2 1140.8,873.7 1141.0,902.6 1141.2,886.9 1141.4,880.6 1141.6,890.2 1141.8,893.1 1142.0,870.8 1142.2,892.0 1142.4,892.3 1142.6,873.3 1142.8,874.0 1143.0,890.5 1143.2,879.1 1143.4,887.0 1143.6,889.6 1143.8,877.4 1144.0,892.6 1144.2,874.2 1144.4,895.0 1144.6,872.0 1144.8,885.6 1145.0,901.2 1145.2,870.1 1145.4,892.2 1145.6,881.4 1145.8,877.4 1146.0,893.9 1146.2,880.4 1146.4,887.5 1146.6,902.1 1146.8,901.8 1147.0,885.2 1147.2,905.4 1147.4,877.4 1147.6,877.5 1147.8,883.0 1148.0,905.8 1148.2,888.8 1148.4,900.5 1148.6,889.8 1148.8,876.3 1149.0,898.5 1149.2,874.1 1149.4,890.9 1149.6,904.1 1149.8,876.9 1150.0,873.1 1150.2,888.7 1150.4,898.4 1150.6,899.1 1150.8,900.8 1151.0,886.6 1151.2,875.4 1151.4,897.3 1151.6,892.0 1151.8,902.3 1152.0,896.9 1152.2,897.6 1152.4,888.4 1152.6,894.1 1152.8,881.9 1153.0,895.7 1153.2,894.0 1153.4,874.5 1153.6,895.1 1153.8,876.4 1154.0,884.2 1154.2,885.4 1154.4,905.1 1154.6,894.8 1154.8,901.9 1155.0,902.3 1155.2,887.9 1155.4,894.9 1155.6,877.8 1155.8,870.7 1156.0,896.4 1156.2,873.9 1156.4,899.7 1156.6,873.8 1156.8,902.6 1157.0,897.5 1157.2,884.8 1157.4,881.7 1157.6,881.5 1157.8,877.6 1158.0,896.4 1158.2,892.0 1158.4,894.7 1158.6,903.6 1158.8,875.9 1159.0,893.1 1159.2,891.2 1159.4,875.7 1159.6,875.9 1159.8,881.0 1160.0,894.6 1160.2,880.9 1160.4,897.2 1160.6,878.3 1160.8,904.4 1161.0,878.1 1161.2,906.1 1161.4,880.3 1161.6,905.2 1161.8,872.2 1162.0,893.8 1162.2,892.6 1162.4,872.4 1162.6,882.9 1162.8,886.9 1163.0,909.7 1163.2,884.6 1163.4,901.2 1163.6,875.0 1163.8,904.7 1164.0,895.8 1164.2,880.2 1164.4,875.0 1164.6,909.3 1164.8,887.9 1165.0,888.9 1165.2,878.6 1165.4,894.8 1165.6,872.8 1165.8,880.8 1166.0,875.4 1166.2,876.6 1166.4,885.7 1166.6,906.7 1166.8,903.8 1167.0,902.2 1167.2,905.9 1167.4,902.7 1167.6,880.8 1167.8,886.0 1168.0,914.6 1168.2,905.5 1168.4,892.0 1168.6,889.5 1168.8,903.4 1169.0,894.0 1169.2,896.2 1169.4,891.7 1169.6,887.2 1169.8,901.8 1170.0,879.3 1170.2,896.7 1170.4,903.6 1170.6,903.7 1170.8,886.6 1171.0,878.0 1171.2,903.5 1171.4,892.6 1171.6,885.7 1171.8,909.7 1172.0,903.6 1172.2,885.5 1172.4,890.3 1172.6,878.0 1172.8,882.8 1173.0,898.4 1173.2,881.8 1173.4,894.7 1173.6,883.4 1173.8,881.3 1174.0,908.5 1174.2,885.6 1174.4,875.8 1174.6,886.0 1174.8,895.5 1175.0,882.4 1175.2,880.3 1175.4,877.2 1175.6,902.4 1175.8,888.3 1176.0,891.1 1176.2,908.2 1176.4,893.4 1176.6,897.8 1176.8,906.1 1177.0,903.5 1177.2,876.6 1177.4,889.2 1177.6,896.6 1177.8,888.8 1178.0,896.0 1178.2,882.5 1178.4,889.4 1178.6,898.3 1178.8,886.2 1179.0,883.7 1179.2,909.5 1179.4,906.1 1179.6,905.5 1179.8,897.8 1180.0,904.8 1180.2,880.7 1180.4,893.3 1180.6,894.9 1180.8,909.5 1181.0,895.4 1181.2,902.1 1181.4,886.3 1181.6,909.7 1181.8,890.7 1182.0,894.8 1182.2,910.4 1182.4,878.3 1182.6,880.5 1182.8,911.1 1183.0,905.9 1183.2,903.3 1183.4,884.3 1183.6,883.6 1183.8,909.9 1184.0,909.9 1184.2,884.0 1184.4,888.1 1184.6,896.7 1184.8,883.6 1185.0,879.5 1185.2,905.8 1185.4,881.1 1185.6,907.7 1185.8,899.7 1186.0,876.6 1186.2,884.5 1186.4,905.8 1186.6,908.7 1186.8,881.8 1187.0,903.0 1187.2,888.0 1187.4,888.6 1187.6,882.1 1187.8,878.0 1188.0,886.3 1188.2,906.8 1188.4,907.3 1188.6,881.5 1188.8,882.2 1189.0,902.7 1189.2,883.3 1189.4,907.9 1189.6,883.6 1189.8,904.1 1190.0,876.4 1190.2,893.9 1190.4,904.3 1190.6,910.3 1190.8,909.8 1191.0,892.8 1191.2,881.0 1191.4,881.7 1191.6,879.9 1191.8,877.7 1192.0,901.2 1192.2,881.5 1192.4,888.0 1192.6,909.0 1192.8,886.1 1193.0,873.7 1193.2,902.9 1193.4,911.1 1193.6,877.0 1193.8,905.5 1194.0,911.7 1194.2,891.0 1194.4,896.7 1194.6,901.1 1194.8,911.3 1195.0,888.3 1195.2,882.7 1195.4,901.1 1195.6,878.5 1195.8,911.7 1196.0,886.0 1196.2,877.9 1196.4,904.4 1196.6,879.7 1196.8,911.0 1197.0,910.8 1197.2,911.6 1197.4,896.1 1197.6,914.0 1197.8,898.4 1198.0,910.3 1198.2,879.6 1198.4,910.9 1198.6,901.0 1198.8,907.5 1199.0,891.9 1199.2,907.3 1199.4,896.8 1199.6,908.8 1199.8,907.6 1200.0,904.7 1200.2,908.9 1200.4,884.1 1200.6,885.9 1200.8,911.0 1201.0,885.9 1201.2,885.2 1201.4,904.9 1201.6,888.6 1201.8,911.6 1202.0,910.6 1202.2,880.8 1202.4,914.0 1202.6,885.4 1202.8,913.0 1203.0,895.3 1203.2,879.2 1203.4,887.1 1203.6,893.7 1203.8,907.1 1204.0,898.5 1204.2,893.3 1204.4,895.2 1204.6,888.1 1204.8,910.0 1205.0,881.4 1205.2,882.6 1205.4,886.9 1205.6,913.8 1205.8,897.3 1206.0,886.0 1206.2,888.2 1206.4,881.3 1206.6,914.3 1206.8,882.9 1207.0,881.0 1207.2,898.6 1207.4,894.1 1207.6,887.5 1207.8,899.5 1208.0,908.4 1208.2,883.7 1208.4,889.4 1208.6,883.9 1208.8,904.7 1209.0,886.2 1209.2,889.0 1209.4,895.4 1209.6,903.1 1209.8,907.1 1210.0,897.9 1210.2,897.3 1210.4,905.1 1210.6,899.9 1210.8,889.0 1211.0,893.5 1211.2,905.8 1211.4,892.9 1211.6,881.4 1211.8,909.5 1212.0,903.2 1212.2,919.9 1212.4,885.7 1212.6,888.6 1212.8,893.8 1213.0,882.0 1213.2,900.8 1213.4,896.8 1213.6,887.4 1213.8,883.5 1214.0,894.4 1214.2,885.5 1214.4,891.0 1214.6,894.9 1214.8,886.2 1215.0,890.7 1215.2,912.1 1215.4,912.7 1215.6,901.6 1215.8,891.1 1216.0,890.1 1216.2,896.9 1216.4,889.7 1216.6,907.8 1216.8,886.3 1217.0,911.7 1217.2,902.4 1217.4,905.7 1217.6,902.4 1217.8,898.3 1218.0,890.0 1218.2,916.2 1218.4,905.9 1218.6,902.9 1218.8,887.7 1219.0,904.0 1219.2,910.8 1219.4,907.8 1219.6,906.1 1219.8,894.7 1220.0,903.9 1220.2,899.0 1220.4,898.0 1220.6,916.3 1220.8,899.2 1221.0,878.8 1221.2,913.5 1221.4,904.7 1221.6,896.2 1221.8,893.6 1222.0,898.0 1222.2,886.7 1222.4,887.1 1222.6,896.6 1222.8,924.3 1223.0,921.7 1223.2,899.6 1223.4,889.2 1223.6,903.0 1223.8,890.4 1224.0,913.6 1224.2,918.9 1224.4,909.4 1224.6,908.6 1224.8,901.3 1225.0,891.2 1225.2,908.7 1225.4,892.7 1225.6,916.1 1225.8,892.0 1226.0,885.8 1226.2,900.5 1226.4,905.2 1226.6,901.3 1226.8,900.1 1227.0,906.4 1227.2,896.5 1227.4,915.2 1227.6,895.1 1227.8,905.5 1228.0,902.3 1228.2,887.3 1228.4,917.0 1228.6,895.9 1228.8,911.0 1229.0,912.8 1229.2,907.7 1229.4,907.4 1229.6,895.8 1229.8,911.7 1230.0,883.7 1230.2,916.8 1230.4,908.6 1230.6,926.8 1230.8,900.8 1231.0,892.7 1231.2,908.5 1231.4,912.7 1231.6,902.1 1231.8,907.7 1232.0,913.3 1232.2,918.3 1232.4,912.9 1232.6,879.1 1232.8,890.0 1233.0,895.8 1233.2,908.2 1233.4,896.7 1233.6,914.1 1233.8,892.8 1234.0,888.7 1234.2,892.3 1234.4,918.8 1234.6,909.8 1234.8,902.8 1235.0,921.6 1235.2,903.5 1235.4,891.1 1235.6,897.2 1235.8,918.3 1236.0,888.7 1236.2,895.6 1236.4,922.0 1236.6,916.0 1236.8,918.4 1237.0,920.7 1237.2,921.4 1237.4,895.8 1237.6,907.4 1237.8,903.1 1238.0,898.8 1238.2,913.1 1238.4,920.7 1238.6,912.2 1238.8,896.1 1239.0,919.1 1239.2,908.5 1239.4,905.2 1239.6,905.8 1239.8,914.9 1240.0,896.7 1240.2,913.5 1240.4,901.1 1240.6,917.7 1240.8,912.0 1241.0,921.4 1241.2,910.9 1241.4,894.9 1241.6,912.0 1241.8,917.7 1242.0,904.4 1242.2,896.4 1242.4,911.6 1242.6,895.6 1242.8,901.9 1243.0,889.6 1243.2,898.0 1243.4,920.1 1243.6,896.5 1243.8,919.6 1244.0,915.8 1244.2,890.3 1244.4,889.5 1244.6,910.5 1244.8,911.8 1245.0,906.1 1245.2,892.5 1245.4,923.8 1245.6,902.0 1245.8,904.4 1246.0,907.3 1246.2,918.0 1246.4,916.3 1246.6,903.5 1246.8,909.9 1247.0,913.0 1247.2,894.5 1247.4,913.1 1247.6,893.2 1247.8,915.5 1248.0,916.8 1248.2,895.1 1248.4,919.7 1248.6,900.2 1248.8,896.8 1249.0,916.0 1249.2,920.7 1249.4,901.9 1249.6,901.7 1249.8,893.3 1250.0,894.1 1250.2,891.9 1250.4,890.2 1250.6,914.0 1250.8,909.7 1251.0,905.5 1251.2,901.5 1251.4,910.7 1251.6,900.4 1251.8,911.9 1252.0,911.2 1252.2,903.5 1252.4,920.3 1252.6,913.1 1252.8,898.6 1253.0,918.5 1253.2,899.9 1253.4,900.2 1253.6,895.6 1253.8,904.9 1254.0,888.7 1254.2,910.6 1254.4,910.3 1254.6,900.4 1254.8,915.2 1255.0,906.7 1255.2,889.7 1255.4,890.4 1255.6,921.0 1255.8,909.2 1256.0,898.1 1256.2,892.3 1256.4,901.0 1256.6,906.8 1256.8,900.0 1257.0,919.0 1257.2,910.6 1257.4,880.8 1257.6,893.1 1257.8,915.3 1258.0,930.8 1258.2,910.9 1258.4,906.2 1258.6,903.1 1258.8,917.1 1259.0,900.5 1259.2,888.2 1259.4,916.4 1259.6,918.9 1259.8,919.2 1260.0,919.0 1260.2,915.8 1260.4,920.6 1260.6,907.8 1260.8,919.7 1261.0,908.1 1261.2,891.6 1261.4,904.7 1261.6,911.8 1261.8,907.1 1262.0,902.2 1262.2,895.2 1262.4,916.9 1262.6,898.1 1262.8,890.5 1263.0,891.9 1263.2,916.3 1263.4,895.6 1263.6,888.8 1263.8,905.8 1264.0,904.0 1264.2,905.0 1264.4,913.2 1264.6,902.1 1264.8,920.4 1265.0,919.8 1265.2,921.1 1265.4,890.8 1265.6,915.4 1265.8,916.1 1266.0,909.1 1266.2,923.6 1266.4,889.0 1266.6,906.2 1266.8,899.9 1267.0,902.6 1267.2,912.6 1267.4,900.0 1267.6,892.8 1267.8,928.2 1268.0,917.0 1268.2,898.1 1268.4,903.8 1268.6,913.7 1268.8,906.3 1269.0,917.5 1269.2,899.6 1269.4,899.2 1269.6,901.7 1269.8,897.6 1270.0,904.8 1270.2,907.6 1270.4,920.8 1270.6,895.8 1270.8,900.6 1271.0,902.6 1271.2,903.9 1271.4,915.1 1271.6,919.4 1271.8,899.9 1272.0,892.4 1272.2,891.5 1272.4,921.6 1272.6,902.4 1272.8,898.6 1273.0,909.4 1273.2,910.0 1273.4,899.2 1273.6,889.6 1273.8,908.8 1274.0,900.3 1274.2,890.6 1274.4,917.9 1274.6,903.6 1274.8,915.6 1275.0,888.9 1275.2,900.9 1275.4,897.0 1275.6,912.8 1275.8,921.4 1276.0,905.7 1276.2,897.0 1276.4,898.3 1276.6,890.1 1276.8,904.5 1277.0,896.2 1277.2,896.1 1277.4,910.0 1277.6,890.8 1277.8,903.7 1278.0,913.3 1278.2,904.6 1278.4,924.1 1278.6,904.4 1278.8,906.5 1279.0,916.6 1279.2,902.8 1279.4,906.0 1279.6,915.6 1279.8,898.0 1280.0,900.5 1280.2,919.1 1280.4,908.6 1280.6,903.9 1280.8,915.9 1281.0,889.9 1281.2,901.0 1281.4,902.8 1281.6,897.1 1281.8,922.0 1282.0,903.5 1282.2,919.2 1282.4,919.0 1282.6,915.5 1282.8,894.9 1283.0,918.5 1283.2,901.6 1283.4,894.4 1283.6,905.6 1283.8,921.1 1284.0,901.3 1284.2,920.5 1284.4,894.2 1284.6,915.0 1284.8,893.9 1285.0,891.0 1285.2,892.9 1285.4,894.2 1285.6,922.0 1285.8,905.6 1286.0,905.1 1286.2,895.9 1286.4,918.9 1286.6,906.7 1286.8,908.2 1287.0,915.8 1287.2,905.1 1287.4,895.5 1287.6,906.6 1287.8,900.3 1288.0,892.7 1288.2,912.3 1288.4,919.6 1288.6,896.7 1288.8,894.8 1289.0,891.8 1289.2,915.6 1289.4,906.7 1289.6,921.1 1289.8,896.9 1290.0,893.7 1290.2,922.4 1290.4,897.3 1290.6,902.9 1290.8,923.2 1291.0,906.8 1291.2,914.2 1291.4,902.5 1291.6,923.9 1291.8,897.1 1292.0,897.8 1292.2,911.5 1292.4,907.7 1292.6,894.9 1292.8,892.0 1293.0,919.4 1293.2,916.8 1293.4,900.2 1293.6,913.7 1293.8,897.3 1294.0,903.7 1294.2,924.9 1294.4,909.8 1294.6,901.3 1294.8,911.7 1295.0,924.4 1295.2,906.8 1295.4,922.1 1295.6,911.2 1295.8,917.3 1296.0,899.9 1296.2,904.5 1296.4,934.2 1296.6,916.8 1296.8,918.6 1297.0,914.1 1297.2,922.8 1297.4,921.6 1297.6,904.4 1297.8,928.1 1298.0,917.6 1298.2,911.8 1298.4,899.9 1298.6,898.4 1298.8,913.4 1299.0,906.3 1299.2,920.3 1299.4,914.3 1299.6,924.7 1299.8,899.8 1300.0,899.1 1300.2,902.9 1300.4,916.8 1300.6,910.8 1300.8,896.8 1301.0,893.0 1301.2,899.6 1301.4,912.4 1301.6,897.2 1301.8,910.7 1302.0,907.4 1302.2,901.5 1302.4,920.3 1302.6,918.0 1302.8,917.3 1303.0,915.5 1303.2,897.9 1303.4,922.9 1303.6,903.3 1303.8,897.5 1304.0,899.2 1304.2,911.4 1304.4,901.2 1304.6,909.4 1304.8,895.7 1305.0,894.6 1305.2,901.4 1305.4,917.2 1305.6,913.7 1305.8,900.4 1306.0,917.8 1306.2,902.0 1306.4,910.8 1306.6,897.5 1306.8,916.0 1307.0,913.3 1307.2,911.3 1307.4,917.3 1307.6,917.8 1307.8,895.6 1308.0,914.3 1308.2,906.7 1308.4,924.4 1308.6,900.8 1308.8,893.2 1309.0,899.0 1309.2,905.8 1309.4,900.8 1309.6,907.0 1309.8,902.5 1310.0,921.0 1310.2,900.5 1310.4,913.3 1310.6,924.6 1310.8,902.4 1311.0,895.6 1311.2,916.8 1311.4,899.9 1311.6,897.6 1311.8,899.7 1312.0,914.5 1312.2,907.2 1312.4,906.9 1312.6,899.1 1312.8,925.2 1313.0,924.4 1313.2,895.2 1313.4,896.9 1313.6,923.3 1313.8,919.6 1314.0,918.5 1314.2,892.2 1314.4,929.0 1314.6,932.5 1314.8,909.1 1315.0,924.9 1315.2,900.2 1315.4,915.8 1315.6,925.3 1315.8,895.2 1316.0,908.9 1316.2,896.8 1316.4,912.3 1316.6,897.2 1316.8,924.2 1317.0,905.5 1317.2,910.6 1317.4,917.1 1317.6,918.7 1317.8,907.1 1318.0,905.9 1318.2,918.3 1318.4,908.7 1318.6,898.3 1318.8,915.0 1319.0,919.8 1319.2,897.1 1319.4,895.5 1319.6,914.2 1319.8,899.6 1320.0,926.0 1320.2,916.9 1320.4,887.7 1320.6,903.1 1320.8,904.9 1321.0,898.8 1321.2,907.9 1321.4,910.0 1321.6,903.1 1321.8,918.6 1322.0,905.4 1322.2,905.6 1322.4,897.4 1322.6,910.7 1322.8,905.3 1323.0,905.4 1323.2,926.6 1323.4,901.3 1323.6,916.1 1323.8,921.1 1324.0,914.7 1324.2,901.2 1324.4,898.9 1324.6,902.4 1324.8,894.2 1325.0,901.4 1325.2,900.6 1325.4,921.3 1325.6,901.8 1325.8,903.0 1326.0,925.0 1326.2,908.8 1326.4,898.9 1326.6,925.9 1326.8,924.9 1327.0,921.6 1327.2,917.9 1327.4,906.8 1327.6,897.8 1327.8,925.3 1328.0,897.3 1328.2,918.0 1328.4,916.2 1328.6,927.2 1328.8,903.0 1329.0,909.6 1329.2,922.3 1329.4,899.5 1329.6,895.9 1329.8,925.6 1330.0,896.0 1330.2,909.5 1330.4,925.2 1330.6,918.4 1330.8,905.3 1331.0,911.7 1331.2,924.6 1331.4,900.9 1331.6,923.4 1331.8,910.7 1332.0,911.0 1332.2,913.9 1332.4,934.8 1332.6,905.4 1332.8,904.2 1333.0,904.7 1333.2,897.4 1333.4,919.3 1333.6,900.9 1333.8,895.4 1334.0,891.6 1334.2,905.4 1334.4,907.9 1334.6,913.9 1334.8,921.4 1335.0,915.2 1335.2,911.4 1335.4,899.2 1335.6,905.7 1335.8,904.6 1336.0,913.0 1336.2,913.3 1336.4,907.8 1336.6,924.1 1336.8,925.9 1337.0,913.3 1337.2,899.0 1337.4,921.6 1337.6,909.6 1337.8,899.6 1338.0,922.0 1338.2,894.5 1338.4,922.4 1338.6,905.0 1338.8,911.1 1339.0,899.2 1339.2,916.0 1339.4,922.4 1339.6,901.0 1339.8,895.0 1340.0,897.7 1340.2,894.0 1340.4,919.7 1340.6,895.0 1340.8,917.4 1341.0,909.5 1341.2,908.7 1341.4,924.0 1341.6,899.7 1341.8,907.3 1342.0,915.9 1342.2,896.4 1342.4,922.1 1342.6,926.2 1342.8,904.0 1343.0,899.4 1343.2,895.0 1343.4,922.0 1343.6,921.9 1343.8,914.0 1344.0,901.8 1344.2,899.4 1344.4,907.8 1344.6,901.8 1344.8,897.0 1345.0,898.8 1345.2,904.2 1345.4,897.2 1345.6,899.2 1345.8,924.9 1346.0,897.1 1346.2,903.0 1346.4,901.4 1346.6,926.1 1346.8,919.0 1347.0,903.4 1347.2,895.2 1347.4,931.5 1347.6,901.0 1347.8,913.7 1348.0,919.2 1348.2,900.0 1348.4,899.6 1348.6,921.8 1348.8,915.6 1349.0,897.8 1349.2,902.2 1349.4,897.4 1349.6,918.8 1349.8,890.7 1350.0,893.4 1350.2,894.8 1350.4,925.3 1350.6,910.1 1350.8,910.1 1351.0,896.5 1351.2,925.9 1351.4,895.7 1351.6,918.1 1351.8,897.6 1352.0,900.3 1352.2,918.1 1352.4,911.3 1352.6,917.1 1352.8,917.1 1353.0,897.4 1353.2,915.4 1353.4,915.9 1353.6,899.8 1353.8,923.0 1354.0,902.3 1354.2,924.0 1354.4,924.7 1354.6,922.9 1354.8,918.4 1355.0,896.0 1355.2,907.3 1355.4,904.2 1355.6,921.2 1355.8,904.1 1356.0,914.1 1356.2,922.0 1356.4,901.9 1356.6,924.0 1356.8,894.4 1357.0,900.8 1357.2,906.8 1357.4,919.2 1357.6,908.3 1357.8,920.4 1358.0,910.6 1358.2,922.5 1358.4,916.3 1358.6,917.9 1358.8,931.3 1359.0,907.1 1359.2,918.5 1359.4,916.9 1359.6,900.2 1359.8,916.2 1360.0,909.4 1360.2,927.1 1360.4,910.7 1360.6,919.8 1360.8,927.5 1361.0,899.4 1361.2,902.1 1361.4,898.1 1361.6,903.4 1361.8,920.4 1362.0,914.1 1362.2,913.5 1362.4,925.9 1362.6,922.8 1362.8,920.4 1363.0,896.9 1363.2,918.4 1363.4,906.5 1363.6,914.1 1363.8,918.6 1364.0,915.9 1364.2,916.9 1364.4,906.8 1364.6,920.2 1364.8,914.8 1365.0,913.3 1365.2,908.9 1365.4,906.6 1365.6,925.0 1365.8,898.6 1366.0,904.2 1366.2,905.7 1366.4,920.0 1366.6,912.2 1366.8,915.4 1367.0,918.8 1367.2,901.9 1367.4,901.2 1367.6,923.7 1367.8,908.7 1368.0,899.1 1368.2,908.8 1368.4,907.1 1368.6,911.0 1368.8,904.6 1369.0,929.6 1369.2,899.9 1369.4,928.0 1369.6,917.3 1369.8,924.3 1370.0,923.8 1370.2,920.6 1370.4,908.0 1370.6,910.2 1370.8,910.8 1371.0,914.1 1371.2,919.0 1371.4,922.7 1371.6,927.5 1371.8,901.0 1372.0,901.0 1372.2,901.0 1372.4,910.7 1372.6,919.4 1372.8,916.1 1373.0,905.9 1373.2,915.4 1373.4,924.9 1373.6,904.5 1373.8,905.2 1374.0,921.4 1374.2,900.9 1374.4,916.5 1374.6,909.2 1374.8,909.7 1375.0,915.4 1375.2,926.0 1375.4,922.0 1375.6,909.5 1375.8,901.6 1376.0,916.7 1376.2,908.6 1376.4,919.6 1376.6,927.3 1376.8,930.7 1377.0,915.4 1377.2,925.8 1377.4,905.5 1377.6,902.4 1377.8,927.2 1378.0,900.2 1378.2,907.7 1378.4,926.9 1378.6,929.6 1378.8,921.5 1379.0,914.6 1379.2,906.3 1379.4,925.2 1379.6,926.5 1379.8,914.5 1380.0,928.0 1380.2,918.6 1380.4,921.7 1380.6,927.1 1380.8,914.1 1381.0,910.2 1381.2,915.9 1381.4,924.4 1381.6,914.6 1381.8,933.6 1382.0,934.1 1382.2,931.2 1382.4,913.7 1382.6,925.6 1382.8,931.6 1383.0,929.7 1383.2,906.6 1383.4,900.7 1383.6,916.1 1383.8,911.1 1384.0,916.8 1384.2,925.9 1384.4,929.2 1384.6,907.1 1384.8,923.6 1385.0,905.7 1385.2,935.9 1385.4,908.5 1385.6,905.0 1385.8,914.9 1386.0,906.6 1386.2,907.1 1386.4,913.1 1386.6,923.8 1386.8,906.4 1387.0,931.7 1387.2,909.5 1387.4,906.7 1387.6,915.6 1387.8,907.8 1388.0,939.7 1388.2,922.8 1388.4,928.7 1388.6,931.4 1388.8,940.9 1389.0,937.7 1389.2,900.9 1389.4,911.5 1389.6,903.4 1389.8,927.5 1390.0,900.9 1390.2,907.5 1390.4,906.5 1390.6,919.3 1390.8,914.6 1391.0,928.7 1391.2,924.6 1391.4,916.6 1391.6,908.8 1391.8,902.7 1392.0,903.9 1392.2,905.8 1392.4,929.2 1392.6,929.7 1392.8,909.0 1393.0,908.8 1393.2,907.5 1393.4,909.9 1393.6,928.7 1393.8,904.6 1394.0,911.5 1394.2,930.8 1394.4,910.8 1394.6,927.1 1394.8,904.8 1395.0,902.1 1395.2,908.8 1395.4,906.0 1395.6,925.0 1395.8,904.8 1396.0,906.6 1396.2,911.6 1396.4,917.5 1396.6,923.0 1396.8,930.5 1397.0,891.8 1397.2,910.4 1397.4,910.7 1397.6,910.5 1397.8,922.4 1398.0,919.3 1398.2,914.4 1398.4,922.8 1398.6,926.9 1398.8,924.5 1399.0,928.1 1399.2,904.0 1399.4,903.0 1399.6,917.3 1399.8,902.7 1400.0,921.5 1400.2,919.5 1400.4,896.2 1400.6,898.3 1400.8,898.7 1401.0,927.8 1401.2,910.8 1401.4,916.1 1401.6,926.9 1401.8,901.6 1402.0,923.0 1402.2,907.2 1402.4,895.9 1402.6,900.5 1402.8,924.3 1403.0,922.9 1403.2,926.4 1403.4,895.1 1403.6,909.3 1403.8,913.9 1404.0,908.1 1404.2,905.1 1404.4,915.0 1404.6,911.5 1404.8,922.4 1405.0,904.9 1405.2,913.3 1405.4,896.0 1405.6,916.4 1405.8,909.7 1406.0,907.6 1406.2,900.4 1406.4,899.9 1406.6,914.4 1406.8,907.1 1407.0,902.8 1407.2,899.6 1407.4,922.0 1407.6,923.5 1407.8,911.3 1408.0,913.8 1408.2,918.7 1408.4,922.5 1408.6,897.5 1408.8,895.4 1409.0,910.8 1409.2,900.1 1409.4,912.5 1409.6,910.3 1409.8,906.2 1410.0,910.1 1410.2,891.7 1410.4,923.2 1410.6,910.7 1410.8,897.6 1411.0,902.5 1411.2,890.0 1411.4,899.4 1411.6,902.8 1411.8,909.5 1412.0,893.5 1412.2,905.3 1412.4,891.2 1412.6,888.1 1412.8,900.8 1413.0,904.0 1413.2,888.4 1413.4,901.6 1413.6,886.9 1413.8,918.4 1414.0,907.2 1414.2,903.8 1414.4,902.6 1414.6,901.2 1414.8,891.5 1415.0,884.2 1415.2,910.0 1415.4,894.7 1415.6,903.1 1415.8,886.3 1416.0,890.0 1416.2,909.0 1416.4,886.8 1416.6,907.7 1416.8,898.9 1417.0,883.7 1417.2,884.4 1417.4,896.8 1417.6,898.7 1417.8,891.5 1418.0,876.1 1418.2,909.3 1418.4,907.6 1418.6,912.4 1418.8,903.1 1419.0,900.9 1419.2,892.4 1419.4,903.2 1419.6,919.1 1419.8,882.2 1420.0,890.1 1420.2,881.5 1420.4,872.6 1420.6,892.3 1420.8,896.3 1421.0,894.6 1421.2,878.2 1421.4,894.8 1421.6,878.2 1421.8,885.4 1422.0,877.3 1422.2,903.5 1422.4,869.5 1422.6,880.2 1422.8,897.3 1423.0,898.3 1423.2,896.5 1423.4,882.6 1423.6,915.0 1423.8,882.2 1424.0,897.7 1424.2,914.1 1424.4,893.8 1424.6,872.9 1424.8,886.3 1425.0,896.4 1425.2,880.0 1425.4,887.4 1425.6,899.9 1425.8,867.6 1426.0,898.5 1426.2,902.2 1426.4,897.1 1426.6,891.0 1426.8,902.2 1427.0,879.6 1427.2,872.4 1427.4,874.8 1427.6,868.8 1427.8,871.4 1428.0,872.1 1428.2,885.7 1428.4,863.6 1428.6,868.9 1428.8,897.9 1429.0,880.9 1429.2,896.0 1429.4,873.9 1429.6,895.7 1429.8,896.2 1430.0,894.2 1430.2,892.7 1430.4,908.7 1430.6,879.4 1430.8,874.8 1431.0,896.6 1431.2,887.9 1431.4,864.0 1431.6,863.3 1431.8,874.5 1432.0,870.9 1432.2,887.8 1432.4,894.7 1432.6,886.9 1432.8,875.6 1433.0,882.7 1433.2,868.7 1433.4,864.6 1433.6,896.7 1433.8,866.6 1434.0,875.3 1434.2,883.7 1434.4,865.7 1434.6,862.7 1434.8,863.5 1435.0,883.4 1435.2,892.0 1435.4,850.5 1435.6,891.4 1435.8,889.2 1436.0,864.1 1436.2,870.0 1436.4,887.0 1436.6,875.6 1436.8,865.8 1437.0,901.4 1437.2,869.8 1437.4,884.1 1437.6,852.6 1437.8,873.4 1438.0,887.5 1438.2,857.8 1438.4,885.1 1438.6,893.4 1438.8,879.4 1439.0,885.6 1439.2,857.4 1439.4,872.5 1439.6,883.7 1439.8,872.6 1440.0,867.4 1440.2,875.2 1440.4,891.3 1440.6,871.4 1440.8,868.9 1441.0,879.5 1441.2,861.7 1441.4,879.6 1441.6,872.4 1441.8,856.0 1442.0,868.7 1442.2,880.8 1442.4,857.9 1442.6,873.3 1442.8,887.9 1443.0,853.6 1443.2,855.2 1443.4,865.2 1443.6,864.7 1443.8,853.9 1444.0,881.7 1444.2,862.4 1444.4,883.9 1444.6,855.8 1444.8,856.0 1445.0,862.5 1445.2,879.9 1445.4,887.4 1445.6,888.9 1445.8,891.2 1446.0,878.0 1446.2,880.2 1446.4,863.8 1446.6,869.4 1446.8,894.8 1447.0,892.2 1447.2,890.2 1447.4,886.8 1447.6,889.9 1447.8,868.8 1448.0,887.6 1448.2,869.2 1448.4,878.8 1448.6,886.5 1448.8,878.9 1449.0,889.9 1449.2,903.0 1449.4,904.3 1449.6,882.4 1449.8,901.9 1450.0,904.6 1450.2,863.3 1450.4,871.1 1450.6,886.1 1450.8,899.1 1451.0,873.1 1451.2,894.3 1451.4,884.2 1451.6,900.2 1451.8,885.4 1452.0,910.2 1452.2,883.7 1452.4,878.0 1452.6,881.9 1452.8,902.0 1453.0,892.3 1453.2,898.6 1453.4,886.9 1453.6,892.5 1453.8,905.1 1454.0,882.4 1454.2,898.8 1454.4,908.3 1454.6,912.8 1454.8,883.0 1455.0,900.9 1455.2,892.1 1455.4,903.5 1455.6,904.0 1455.8,892.1 1456.0,896.0 1456.2,917.4 1456.4,911.6 1456.6,907.5 1456.8,888.6 1457.0,915.6 1457.2,887.9 1457.4,904.5 1457.6,918.0 1457.8,895.7 1458.0,899.8 1458.2,904.8 1458.4,919.7 1458.6,895.2 1458.8,902.1 1459.0,892.2 1459.2,918.1 1459.4,912.6 1459.6,913.2 1459.8,913.1 1460.0,903.8 1460.2,899.1 1460.4,894.7 1460.6,905.3 1460.8,900.1 1461.0,913.7 1461.2,924.2 1461.4,901.7 1461.6,922.5 1461.8,904.2 1462.0,914.3 1462.2,927.1 1462.4,919.8 1462.6,925.3 1462.8,902.6 1463.0,910.0 1463.2,924.9 1463.4,929.1 1463.6,923.1 1463.8,922.2 1464.0,903.9 1464.2,918.6 1464.4,925.2 1464.6,902.6 1464.8,906.6 1465.0,902.9 1465.2,923.6 1465.4,914.8 1465.6,922.7 1465.8,927.6 1466.0,908.1 1466.2,911.7 1466.4,911.6 1466.6,934.2 1466.8,916.5 1467.0,916.2 1467.2,908.6 1467.4,924.8 1467.6,920.0 1467.8,937.2 1468.0,929.6 1468.2,934.4 1468.4,918.9 1468.6,914.7 1468.8,914.4 1469.0,913.6 1469.2,929.7 1469.4,923.4 1469.6,921.5 1469.8,936.4 1470.0,914.2 1470.2,928.8 1470.4,937.0 1470.6,912.6 1470.8,931.2 1471.0,919.0 1471.2,920.4 1471.4,933.5 1471.6,918.9 1471.8,939.9 1472.0,932.0 1472.2,923.3 1472.4,931.8 1472.6,943.3 1472.8,936.0 1473.0,942.7 1473.2,929.2 1473.4,932.7 1473.6,912.9 1473.8,920.0 1474.0,914.4 1474.2,920.2 1474.4,941.1 1474.6,938.7 1474.8,922.9 1475.0,923.2 1475.2,927.0 1475.4,915.7 1475.6,921.4 1475.8,941.9 1476.0,917.7 1476.2,941.8 1476.4,916.4 1476.6,915.0 1476.8,915.7 1477.0,934.3 1477.2,918.4 1477.4,936.8 1477.6,930.3 1477.8,920.2 1478.0,936.0 1478.2,918.0 1478.4,936.1 1478.6,939.0 1478.8,912.2 1479.0,942.9 1479.2,923.0 1479.4,933.2 1479.6,931.1 1479.8,930.7 1480.0,937.5 1480.2,918.9 1480.4,915.8 1480.6,940.1 1480.8,920.7 1481.0,928.1 1481.2,905.4 1481.4,912.8 1481.6,932.3 1481.8,913.6 1482.0,941.2 1482.2,932.1 1482.4,929.9 1482.6,912.5 1482.8,918.9 1483.0,938.8 1483.2,947.2 1483.4,912.7 1483.6,926.3 1483.8,939.7 1484.0,931.0 1484.2,929.9 1484.4,941.0 1484.6,925.7 1484.8,915.6 1485.0,923.7 1485.2,915.3 1485.4,941.5 1485.6,904.9 1485.8,920.6 1486.0,934.0 1486.2,928.1 1486.4,930.8 1486.6,924.9 1486.8,918.7 1487.0,937.3 1487.2,926.6 1487.4,918.9 1487.6,939.7 1487.8,941.7 1488.0,935.0 1488.2,941.7 1488.4,941.6 1488.6,920.4 1488.8,916.3 1489.0,916.5 1489.2,915.0 1489.4,915.5 1489.6,916.7 1489.8,913.1 1490.0,916.6 1490.2,921.1 1490.4,942.6 1490.6,913.5 1490.8,931.8 1491.0,907.7 1491.2,934.1 1491.4,921.4 1491.6,922.3 1491.8,934.1 1492.0,917.0 1492.2,921.9 1492.4,912.2 1492.6,938.7 1492.8,932.1 1493.0,938.5 1493.2,936.8 1493.4,941.7 1493.6,937.2 1493.8,914.2 1494.0,921.6 1494.2,931.5 1494.4,925.6 1494.6,926.6 1494.8,936.0 1495.0,941.0 1495.2,918.9 1495.4,924.8 1495.6,923.8 1495.8,918.5 1496.0,927.2 1496.2,913.4 1496.4,933.0 1496.6,918.1 1496.8,916.5 1497.0,922.9 1497.2,940.4 1497.4,928.5 1497.6,928.0 1497.8,935.8 1498.0,932.3 1498.2,939.8 1498.4,927.5 1498.6,932.7 1498.8,926.1 1499.0,915.4 1499.2,932.7 1499.4,921.5 1499.6,919.9 1499.8,926.8 1500.0,940.3 1500.2,917.9 1500.4,938.1 1500.6,928.5 1500.8,935.8 1501.0,918.0 1501.2,929.7 1501.4,933.4 1501.6,938.1 1501.8,928.4 1502.0,935.7 1502.2,923.2 1502.4,941.7 1502.6,917.8 1502.8,927.6 1503.0,939.9 1503.2,915.2 1503.4,935.8 1503.6,935.4 1503.8,921.3 1504.0,933.5 1504.2,941.3 1504.4,937.6 1504.6,938.4 1504.8,927.5 1505.0,933.8 1505.2,928.8 1505.4,920.0 1505.6,919.7 1505.8,932.8 1506.0,940.6 1506.2,942.3 1506.4,925.4 1506.6,936.4 1506.8,936.7 1507.0,918.0 1507.2,935.0 1507.4,924.6 1507.6,923.3 1507.8,921.8 1508.0,920.4 1508.2,923.1 1508.4,906.5 1508.6,942.4 1508.8,917.0 1509.0,936.0 1509.2,917.3 1509.4,935.9 1509.6,929.1 1509.8,931.3 1510.0,931.7 1510.2,914.2 1510.4,921.2 1510.6,928.6 1510.8,922.4 1511.0,914.2 1511.2,940.7 1511.4,935.6 1511.6,936.0 1511.8,940.9 1512.0,920.8 1512.2,914.1 1512.4,928.2 1512.6,936.9 1512.8,940.4 1513.0,933.7 1513.2,925.1 1513.4,943.1 1513.6,927.1 1513.8,916.6 1514.0,941.2 1514.2,931.3 1514.4,942.7 1514.6,933.2 1514.8,921.4 1515.0,938.1 1515.2,931.9 1515.4,936.0 1515.6,935.1 1515.8,929.3 1516.0,933.3 1516.2,914.8 1516.4,915.9 1516.6,929.3 1516.8,926.2 1517.0,935.4 1517.2,921.4 1517.4,925.6 1517.6,917.0 1517.8,920.5 1518.0,943.0 1518.2,917.0 1518.4,916.1 1518.6,917.7 1518.8,930.8 1519.0,923.1 1519.2,927.1 1519.4,940.9 1519.6,926.6 1519.8,941.5 1520.0,928.3 1520.2,930.7 1520.4,919.9 1520.6,927.9 1520.8,923.4 1521.0,942.4 1521.2,938.1 1521.4,946.1 1521.6,944.0 1521.8,932.8 1522.0,916.2 1522.2,933.8 1522.4,911.9 1522.6,915.1 1522.8,935.0 1523.0,935.1 1523.2,935.1 1523.4,919.3 1523.6,936.4 1523.8,933.3 1524.0,937.7 1524.2,918.5 1524.4,944.2 1524.6,927.9 1524.8,915.4 1525.0,925.0 1525.2,931.4 1525.4,943.8 1525.6,952.2 1525.8,924.1 1526.0,932.9 1526.2,937.8 1526.4,943.9 1526.6,941.9 1526.8,914.9 1527.0,939.6 1527.2,942.7 1527.4,942.2 1527.6,924.8 1527.8,924.1 1528.0,913.8 1528.2,925.8 1528.4,916.6 1528.6,934.7 1528.8,910.4 1529.0,908.1 1529.2,940.4 1529.4,933.0 1529.6,938.0 1529.8,927.0 1530.0,929.9 1530.2,935.1 1530.4,925.7 1530.6,940.6 1530.8,914.2 1531.0,916.7 1531.2,941.9 1531.4,917.8 1531.6,939.0 1531.8,936.7 1532.0,943.8 1532.2,937.9 1532.4,923.4 1532.6,929.8 1532.8,923.9 1533.0,938.9 1533.2,930.2 1533.4,923.5 1533.6,917.3 1533.8,938.1 1534.0,938.7 1534.2,913.9 1534.4,922.7 1534.6,918.1 1534.8,921.6 1535.0,915.1 1535.2,940.0 1535.4,914.9 1535.6,939.9 1535.8,932.9 1536.0,921.6 1536.2,927.8 1536.4,917.9 1536.6,931.8 1536.8,926.5 1537.0,936.6 1537.2,915.9 1537.4,937.1 1537.6,914.9 1537.8,916.9 1538.0,936.9 1538.2,916.6 1538.4,924.9 1538.6,944.0 1538.8,927.9 1539.0,951.5 1539.2,933.3 1539.4,942.9 1539.6,942.2 1539.8,929.8 1540.0,943.6 1540.2,941.5 1540.4,927.4 1540.6,938.4 1540.8,927.8 1541.0,927.7 1541.2,929.4 1541.4,942.9 1541.6,920.7 1541.8,940.1 1542.0,926.5 1542.2,934.8 1542.4,931.1 1542.6,938.8 1542.8,929.8 1543.0,924.3 1543.2,937.2 1543.4,931.6 1543.6,916.9 1543.8,938.5 1544.0,942.2 1544.2,940.6 1544.4,943.4 1544.6,920.6 1544.8,905.7 1545.0,929.2 1545.2,935.0 1545.4,938.4 1545.6,944.3 1545.8,924.8 1546.0,909.4 1546.2,935.8 1546.4,930.1 1546.6,925.0 1546.8,923.8 1547.0,918.2 1547.2,940.3 1547.4,930.4 1547.6,942.8 1547.8,927.5 1548.0,927.3 1548.2,942.0 1548.4,914.3 1548.6,928.3 1548.8,930.6 1549.0,938.6 1549.2,941.5 1549.4,935.5 1549.6,943.2 1549.8,938.6 1550.0,934.3 1550.2,935.5 1550.4,926.9 1550.6,928.8 1550.8,942.9 1551.0,928.5 1551.2,943.2 1551.4,932.3 1551.6,929.3 1551.8,914.8 1552.0,936.0 1552.2,932.5 1552.4,937.2 1552.6,926.9 1552.8,932.5 1553.0,933.6 1553.2,931.6 1553.4,942.0 1553.6,935.1 1553.8,920.2 1554.0,944.5 1554.2,922.6 1554.4,924.5 1554.6,928.2 1554.8,945.0 1555.0,922.5 1555.2,926.1 1555.4,922.8 1555.6,932.6 1555.8,928.7 1556.0,908.4 1556.2,937.6 1556.4,929.5 1556.6,929.9 1556.8,936.0 1557.0,908.9 1557.2,944.3 1557.4,922.7 1557.6,924.1 1557.8,953.9 1558.0,939.2 1558.2,928.8 1558.4,945.7 1558.6,928.8 1558.8,945.0 1559.0,944.1 1559.2,931.3 1559.4,919.3 1559.6,928.8 1559.8,942.4 1560.0,921.4 1560.2,943.5 1560.4,946.1 1560.6,926.3 1560.8,928.8 1561.0,921.5 1561.2,924.2 1561.4,918.3 1561.6,919.8 1561.8,937.0 1562.0,938.8 1562.2,935.9 1562.4,918.3 1562.6,922.8 1562.8,929.4 1563.0,928.3 1563.2,933.2 1563.4,931.8 1563.6,935.6 1563.8,940.5 1564.0,925.8 1564.2,940.5 1564.4,918.7 1564.6,927.4 1564.8,919.2 1565.0,939.4 1565.2,918.4 1565.4,919.5 1565.6,929.6 1565.8,917.7 1566.0,925.8 1566.2,925.7 1566.4,932.4 1566.6,932.5 1566.8,917.2 1567.0,932.1 1567.2,920.3 1567.4,927.0 1567.6,925.5 1567.8,942.8 1568.0,940.4 1568.2,932.2 1568.4,923.4 1568.6,946.5 1568.8,937.4 1569.0,927.1 1569.2,919.8 1569.4,944.6 1569.6,925.8 1569.8,938.5 1570.0,926.0 1570.2,931.8 1570.4,913.4 1570.6,930.6 1570.8,923.5 1571.0,930.3 1571.2,941.2 1571.4,923.5 1571.6,940.3 1571.8,922.8 1572.0,937.9 1572.2,923.5 1572.4,927.8 1572.6,932.3 1572.8,924.5 1573.0,927.4 1573.2,924.0 1573.4,921.5 1573.6,935.4 1573.8,942.7 1574.0,927.8 1574.2,922.9 1574.4,922.8 1574.6,932.1 1574.8,945.0 1575.0,912.4 1575.2,920.6 1575.4,934.8 1575.6,943.2 1575.8,929.7 1576.0,919.0 1576.2,948.0 1576.4,920.9 1576.6,921.6 1576.8,934.8 1577.0,919.3 1577.2,937.4 1577.4,932.3 1577.6,928.4 1577.8,918.3 1578.0,917.1 1578.2,934.6 1578.4,924.8 1578.6,948.3 1578.8,929.1 1579.0,934.7 1579.2,932.5 1579.4,920.7 1579.6,945.6 1579.8,924.0 1580.0,930.4 1580.2,922.0 1580.4,917.4 1580.6,920.0 1580.8,931.6 1581.0,938.9 1581.2,935.0 1581.4,938.9 1581.6,917.8 1581.8,918.1 1582.0,928.5 1582.2,925.0 1582.4,919.6 1582.6,940.5 1582.8,941.7 1583.0,921.2 1583.2,943.6 1583.4,940.5 1583.6,936.8 1583.8,918.2 1584.0,927.5 1584.2,940.8 1584.4,942.2 1584.6,916.9 1584.8,927.2 1585.0,926.5 1585.2,918.7 1585.4,920.3 1585.6,939.4 1585.8,931.0 1586.0,930.1 1586.2,939.0 1586.4,922.3 1586.6,918.1 1586.8,924.8 1587.0,917.0 1587.2,932.0 1587.4,921.9 1587.6,934.1 1587.8,942.5 1588.0,922.0 1588.2,939.2 1588.4,919.9 1588.6,916.8 1588.8,934.0 1589.0,941.2 1589.2,917.8 1589.4,917.6 1589.6,920.7 1589.8,936.2 1590.0,935.2 1590.2,921.6 1590.4,923.6 1590.6,939.3 1590.8,926.0 1591.0,923.9 1591.2,938.8 1591.4,944.8 1591.6,938.7 1591.8,941.3 1592.0,926.6 1592.2,940.1 1592.4,922.6 1592.6,916.5 1592.8,953.1 1593.0,927.1 1593.2,942.0 1593.4,927.6 1593.6,942.0 1593.8,926.6 1594.0,918.0 1594.2,918.9 1594.4,941.6 1594.6,940.7 1594.8,945.1 1595.0,934.9 1595.2,929.5 1595.4,934.8 1595.6,928.6 1595.8,937.6 1596.0,941.0 1596.2,912.3 1596.4,931.3 1596.6,922.9 1596.8,944.3 1597.0,931.2 1597.2,946.2 1597.4,918.3 1597.6,936.7 1597.8,935.6 1598.0,940.6 1598.2,927.3 1598.4,945.0 1598.6,927.3 1598.8,945.0 1599.0,938.5 1599.2,916.9 1599.4,919.4 1599.6,941.6 1599.8,924.1 1600.0,932.1 1600.2,924.4 1600.4,943.8 1600.6,928.5 1600.8,945.5 1601.0,923.6 1601.2,922.6 1601.4,919.9 1601.6,944.7 1601.8,926.9 1602.0,945.1 1602.2,926.8 1602.4,925.6 1602.6,923.8 1602.8,937.6 1603.0,923.8 1603.2,934.8 1603.4,930.1 1603.6,924.3 1603.8,924.8 1604.0,954.4 1604.2,937.0 1604.4,924.7 1604.6,945.0 1604.8,944.6 1605.0,923.5 1605.2,921.2 1605.4,934.1 1605.6,944.0 1605.8,931.2 1606.0,932.0 1606.2,927.4 1606.4,941.4 1606.6,935.0 1606.8,918.5 1607.0,927.6 1607.2,946.4 1607.4,935.0 1607.6,950.0 1607.8,924.0 1608.0,942.0 1608.2,922.7 1608.4,928.1 1608.6,941.6 1608.8,922.4 1609.0,931.4 1609.2,940.7 1609.4,917.2 1609.6,925.9 1609.8,935.1 1610.0,938.9 1610.2,924.7 1610.4,932.6 1610.6,938.1 1610.8,946.9 1611.0,921.8 1611.2,941.8 1611.4,943.0 1611.6,929.8 1611.8,942.8 1612.0,933.1 1612.2,934.1 1612.4,932.1 1612.6,926.5 1612.8,919.2 1613.0,931.3 1613.2,921.5 1613.4,940.0 1613.6,917.8 1613.8,920.9 1614.0,920.2 1614.2,922.8 1614.4,940.6 1614.6,935.2 1614.8,937.6 1615.0,953.8 1615.2,927.6 1615.4,932.9 1615.6,938.1 1615.8,939.6 1616.0,936.5 1616.2,947.3 1616.4,939.6 1616.6,938.7 1616.8,919.3 1617.0,930.4 1617.2,946.3 1617.4,930.8 1617.6,946.4 1617.8,930.2 1618.0,931.7 1618.2,947.0 1618.4,923.1 1618.6,933.6 1618.8,937.0 1619.0,922.1 1619.2,922.7 1619.4,936.0 1619.6,921.7 1619.8,917.9 1620.0,926.8 1620.2,944.1 1620.4,923.5 1620.6,938.4 1620.8,930.4 1621.0,928.8 1621.2,947.0 1621.4,921.4 1621.6,942.6 1621.8,933.8 1622.0,927.9 1622.2,917.8 1622.4,946.0 1622.6,937.2 1622.8,928.9 1623.0,923.6 1623.2,936.9 1623.4,935.9 1623.6,928.4 1623.8,944.8 1624.0,947.3 1624.2,944.3 1624.4,942.1 1624.6,946.0 1624.8,927.2 1625.0,923.2 1625.2,937.6 1625.4,919.4 1625.6,937.1 1625.8,946.5 1626.0,939.5 1626.2,919.1 1626.4,933.2 1626.6,920.7 1626.8,940.2 1627.0,930.6 1627.2,920.0 1627.4,931.2 1627.6,928.4 1627.8,927.8 1628.0,941.8 1628.2,941.9 1628.4,926.7 1628.6,941.7 1628.8,934.7 1629.0,933.8 1629.2,946.5 1629.4,926.3 1629.6,929.6 1629.8,937.7 1630.0,935.5 1630.2,936.0 1630.4,931.8 1630.6,937.7 1630.8,953.4 1631.0,927.9 1631.2,940.9 1631.4,946.4 1631.6,928.9 1631.8,922.1 1632.0,925.1 1632.2,943.6 1632.4,928.1 1632.6,924.8 1632.8,941.9 1633.0,942.0 1633.2,922.2 1633.4,945.2 1633.6,921.3 1633.8,928.5 1634.0,942.6 1634.2,951.5 1634.4,921.0 1634.6,922.7 1634.8,919.9 1635.0,937.7 1635.2,943.5 1635.4,925.2 1635.6,919.3 1635.8,941.3 1636.0,943.3 1636.2,923.6 1636.4,929.7 1636.6,931.9 1636.8,922.1 1637.0,937.6 1637.2,932.1 1637.4,920.8 1637.6,940.2 1637.8,941.4 1638.0,937.5 1638.2,950.3 1638.4,937.6 1638.6,946.6 1638.8,925.2 1639.0,936.3 1639.2,923.1 1639.4,918.3 1639.6,943.9 1639.8,918.2 1640.0,934.0 1640.2,921.6 1640.4,929.8 1640.6,930.5 1640.8,921.5 1641.0,927.1 1641.2,936.3 1641.4,931.2 1641.6,943.3 1641.8,919.9 1642.0,939.5 1642.2,947.3 1642.4,943.9 1642.6,920.1 1642.8,918.6 1643.0,946.1 1643.2,937.6 1643.4,913.9 1643.6,942.4 1643.8,919.0 1644.0,940.5 1644.2,929.2 1644.4,921.3 1644.6,945.8 1644.8,943.1 1645.0,945.2 1645.2,941.4 1645.4,921.5 1645.6,927.3 1645.8,941.9 1646.0,924.0 1646.2,921.2 1646.4,921.3 1646.6,921.4 1646.8,926.8 1647.0,917.6 1647.2,917.5 1647.4,929.0 1647.6,940.6 1647.8,938.3 1648.0,928.1 1648.2,920.7 1648.4,942.3 1648.6,933.1 1648.8,918.9 1649.0,951.7 1649.2,927.6 1649.4,929.6 1649.6,927.7 1649.8,934.0 1650.0,937.1 1650.2,930.8 1650.4,928.1 1650.6,938.8 1650.8,936.1 1651.0,926.4 1651.2,942.0 1651.4,921.6 1651.6,937.0 1651.8,938.2 1652.0,918.5 1652.2,924.5 1652.4,939.7 1652.6,918.6 1652.8,944.8 1653.0,942.4 1653.2,919.6 1653.4,937.0 1653.6,943.1 1653.8,922.8 1654.0,942.8 1654.2,921.4 1654.4,936.9 1654.6,941.2 1654.8,926.4 1655.0,926.7 1655.2,923.9 1655.4,933.4 1655.6,936.5 1655.8,927.2 1656.0,945.3 1656.2,938.3 1656.4,946.4 1656.6,918.1 1656.8,922.6 1657.0,933.5 1657.2,930.4 1657.4,937.6 1657.6,917.8 1657.8,912.5 1658.0,923.6 1658.2,942.7 1658.4,932.5 1658.6,935.2 1658.8,944.2 1659.0,939.2 1659.2,939.5 1659.4,924.4 1659.6,935.9 1659.8,938.8 1660.0,938.2 1660.2,942.4 1660.4,939.9 1660.6,930.6 1660.8,935.1 1661.0,945.3 1661.2,951.9 1661.4,931.1 1661.6,929.0 1661.8,940.3 1662.0,933.0 1662.2,927.4 1662.4,922.2 1662.6,927.7 1662.8,947.2 1663.0,941.5 1663.2,943.9 1663.4,922.5 1663.6,929.4 1663.8,935.0 1664.0,921.3 1664.2,940.0 1664.4,934.0 1664.6,944.0 1664.8,924.4 1665.0,927.5 1665.2,937.8 1665.4,926.0 1665.6,935.0 1665.8,941.2 1666.0,927.3 1666.2,943.6 1666.4,929.4 1666.6,931.1 1666.8,924.1 1667.0,943.1 1667.2,920.5 1667.4,941.9 1667.6,931.8 1667.8,938.0 1668.0,920.8 1668.2,924.6 1668.4,933.4 1668.6,935.6 1668.8,926.0 1669.0,925.9 1669.2,928.8 1669.4,942.1 1669.6,922.8 1669.8,921.2 1670.0,928.6 1670.2,929.8 1670.4,938.0 1670.6,953.9 1670.8,924.0 1671.0,928.3 1671.2,928.9 1671.4,939.8 1671.6,925.1 1671.8,944.6 1672.0,923.4 1672.2,947.7 1672.4,917.8 1672.6,917.5 1672.8,921.8 1673.0,936.5 1673.2,922.4 1673.4,912.4 1673.6,938.0 1673.8,930.4 1674.0,912.2 1674.2,915.6 1674.4,929.6 1674.6,917.1 1674.8,937.2 1675.0,916.9 1675.2,938.7 1675.4,926.8 1675.6,921.0 1675.8,915.6 1676.0,924.0 1676.2,915.7 1676.4,913.7 1676.6,919.2 1676.8,934.9 1677.0,935.2 1677.2,931.0 1677.4,913.8 1677.6,921.9 1677.8,914.3 1678.0,925.4 1678.2,936.3 1678.4,913.3 1678.6,928.4 1678.8,909.6 1679.0,921.9 1679.2,907.3 1679.4,922.9 1679.6,935.2 1679.8,906.7 1680.0,925.9 1680.2,934.6 1680.4,934.5 1680.6,917.9 1680.8,932.6 1681.0,918.5 1681.2,918.4 1681.4,933.0 1681.6,932.9 1681.8,910.3 1682.0,922.3 1682.2,906.6 1682.4,925.0 1682.6,921.6 1682.8,911.7 1683.0,901.2 1683.2,927.5 1683.4,924.9 1683.6,902.8 1683.8,930.6 1684.0,922.1 1684.2,899.9 1684.4,900.8 1684.6,920.3 1684.8,921.3 1685.0,927.2 1685.2,919.2 1685.4,903.9 1685.6,903.5 1685.8,901.2 1686.0,902.4 1686.2,888.3 1686.4,899.9 1686.6,912.8 1686.8,927.8 1687.0,911.9 1687.2,907.6 1687.4,912.9 1687.6,910.7 1687.8,917.2 1688.0,907.1 1688.2,921.4 1688.4,897.7 1688.6,916.2 1688.8,908.3 1689.0,926.3 1689.2,893.3 1689.4,921.9 1689.6,919.9 1689.8,924.8 1690.0,913.1 1690.2,897.6 1690.4,915.8 1690.6,901.8 1690.8,908.7 1691.0,898.2 1691.2,906.1 1691.4,907.7 1691.6,891.7 1691.8,922.9 1692.0,916.5 1692.2,889.3 1692.4,919.4 1692.6,913.6 1692.8,920.8 1693.0,922.9 1693.2,922.0 1693.4,917.6 1693.6,899.2 1693.8,897.0 1694.0,894.2 1694.2,910.8 1694.4,919.3 1694.6,924.2 1694.8,899.6 1695.0,907.4 1695.2,899.7 1695.4,913.9 1695.6,909.7 1695.8,909.8 1696.0,910.7 1696.2,924.4 1696.4,925.6 1696.6,897.2 1696.8,904.7 1697.0,912.4 1697.2,906.3 1697.4,921.0 1697.6,909.9 1697.8,919.8 1698.0,914.4 1698.2,911.8 1698.4,921.2 1698.6,913.7 1698.8,902.1 1699.0,908.3 1699.2,930.7 1699.4,902.6 1699.6,927.9 1699.8,901.7 1700.0,929.6 1700.2,926.5 1700.4,903.9 1700.6,920.1 1700.8,906.9 1701.0,911.5 1701.2,928.5 1701.4,902.8 1701.6,928.8 1701.8,901.4 1702.0,918.9 1702.2,925.1 1702.4,906.7 1702.6,909.5 1702.8,931.0 1703.0,926.3 1703.2,902.4 1703.4,921.1 1703.6,909.1 1703.8,902.9 1704.0,911.0 1704.2,918.9 1704.4,907.9 1704.6,929.2 1704.8,911.4 1705.0,923.4 1705.2,925.0 1705.4,924.2 1705.6,930.8 1705.8,911.7 1706.0,903.4 1706.2,921.2 1706.4,937.7 1706.6,901.3 1706.8,905.0 1707.0,915.7 1707.2,934.1 1707.4,899.0 1707.6,924.0 1707.8,920.4 1708.0,918.6 1708.2,923.0 1708.4,905.6 1708.6,927.2 1708.8,907.4 1709.0,933.1 1709.2,899.3 1709.4,917.3 1709.6,922.4 1709.8,910.3 1710.0,916.7 1710.2,917.3 1710.4,918.3 1710.6,888.7 1710.8,904.1 1711.0,920.4 1711.2,928.5 1711.4,925.2 1711.6,900.5 1711.8,920.7 1712.0,926.5 1712.2,926.2 1712.4,921.7 1712.6,908.7 1712.8,910.7 1713.0,916.1 1713.2,881.2 1713.4,891.9 1713.6,908.0 1713.8,887.5 1714.0,918.8 1714.2,904.8 1714.4,912.7 1714.6,906.5 1714.8,888.5 1715.0,881.4 1715.2,912.2 1715.4,912.6 1715.6,891.5 1715.8,907.4 1716.0,900.1 1716.2,876.1 1716.4,886.9 1716.6,883.9 1716.8,895.3 1717.0,891.0 1717.2,890.5 1717.4,888.6 1717.6,876.3 1717.8,887.2 1718.0,899.5 1718.2,885.4 1718.4,902.1 1718.6,903.3 1718.8,900.3 1719.0,896.7 1719.2,882.8 1719.4,904.1 1719.6,894.1 1719.8,905.6 1720.0,882.3 1720.2,914.6 1720.4,886.5 1720.6,899.8 1720.8,906.8 1721.0,895.3 1721.2,915.2 1721.4,898.3 1721.6,907.6 1721.8,901.3 1722.0,891.0 1722.2,920.3 1722.4,898.6 1722.6,919.2 1722.8,916.9 1723.0,909.0 1723.2,901.9 1723.4,904.1 1723.6,904.4 1723.8,909.3 1724.0,922.3 1724.2,915.7 1724.4,906.3 1724.6,930.8 1724.8,900.8 1725.0,903.0 1725.2,929.3 1725.4,917.3 1725.6,920.4 1725.8,926.8 1726.0,932.0 1726.2,937.7 1726.4,919.9 1726.6,923.5 1726.8,915.2 1727.0,922.8 1727.2,919.3 1727.4,909.9 1727.6,927.9 1727.8,926.5 1728.0,919.0 1728.2,916.4 1728.4,906.3 1728.6,913.5 1728.8,918.2 1729.0,915.5 1729.2,918.4 1729.4,930.6 1729.6,912.6 1729.8,909.0 1730.0,914.8 1730.2,918.4 1730.4,924.0 1730.6,925.6 1730.8,915.9 1731.0,928.2 1731.2,937.3 1731.4,918.4 1731.6,916.1 1731.8,926.5 1732.0,930.9 1732.2,916.5 1732.4,926.7 1732.6,938.2 1732.8,933.0 1733.0,927.8 1733.2,922.9 1733.4,919.4 1733.6,938.8 1733.8,928.0 1734.0,919.6 1734.2,929.2 1734.4,931.1 1734.6,917.8 1734.8,917.6 1735.0,936.1 1735.2,943.2 1735.4,929.2 1735.6,938.0 1735.8,934.6 1736.0,944.3 1736.2,933.9 1736.4,932.2 1736.6,942.6 1736.8,937.3 1737.0,915.6 1737.2,925.4 1737.4,936.5 1737.6,931.7 1737.8,926.6 1738.0,934.9 1738.2,935.6 1738.4,936.6 1738.6,939.2 1738.8,933.9 1739.0,926.4 1739.2,921.1 1739.4,920.8 1739.6,915.6 1739.8,932.4 1740.0,918.6 1740.2,937.5 1740.4,931.3 1740.6,944.5 1740.8,924.8 1741.0,944.8 1741.2,925.1 1741.4,944.3 1741.6,917.9 1741.8,937.0 1742.0,931.8 1742.2,916.4 1742.4,936.4 1742.6,930.0 1742.8,926.3 1743.0,928.2 1743.2,922.9 1743.4,934.5 1743.6,939.1 1743.8,942.6 1744.0,922.4 1744.2,919.1 1744.4,940.7 1744.6,925.9 1744.8,921.7 1745.0,920.7 1745.2,928.2 1745.4,924.1 1745.6,939.1 1745.8,923.7 1746.0,916.5 1746.2,944.1 1746.4,922.9 1746.6,944.1 1746.8,931.4 1747.0,943.3 1747.2,925.7 1747.4,923.5 1747.6,917.8 1747.8,922.8 1748.0,941.3 1748.2,936.9 1748.4,945.8 1748.6,925.4 1748.8,945.7 1749.0,929.8 1749.2,918.6 1749.4,924.2 1749.6,921.8 1749.8,920.8 1750.0,921.4 1750.2,935.2 1750.4,935.3 1750.6,920.6 1750.8,922.3 1751.0,921.6 1751.2,928.8 1751.4,937.7 1751.6,929.6 1751.8,923.4 1752.0,933.6 1752.2,950.3 1752.4,946.4 1752.6,933.5 1752.8,932.9 1753.0,936.4 1753.2,926.4 1753.4,932.9 1753.6,933.4 1753.8,955.3 1754.0,934.8 1754.2,948.7 1754.4,942.0 1754.6,938.1 1754.8,948.7 1755.0,953.0 1755.2,946.7 1755.4,948.5 1755.6,944.2 1755.8,930.4 1756.0,942.1 1756.2,940.1 1756.4,941.6 1756.6,934.6 1756.8,944.0 1757.0,953.0 1757.2,934.8 1757.4,934.0 1757.6,931.3 1757.8,953.9 1758.0,950.2 1758.2,948.5 1758.4,951.0 1758.6,951.7 1758.8,949.0 1759.0,941.5 1759.2,931.9 1759.4,945.2 1759.6,931.8 1759.8,932.5 1760.0,927.0 1760.2,952.6 1760.4,934.6 1760.6,932.9 1760.8,946.7 1761.0,946.5 1761.2,940.9 1761.4,926.1 1761.6,930.7 1761.8,940.8 1762.0,945.1 1762.2,926.1 1762.4,949.9 1762.6,926.3 1762.8,925.7 1763.0,951.6 1763.2,950.9 1763.4,938.6 1763.6,937.7 1763.8,921.2 1764.0,943.7 1764.2,940.7 1764.4,930.4 1764.6,936.0 1764.8,946.2 1765.0,950.4 1765.2,951.2 1765.4,944.3 1765.6,926.4 1765.8,939.3 1766.0,931.4 1766.2,953.1 1766.4,943.6 1766.6,942.1 1766.8,932.8 1767.0,938.2 1767.2,929.9 1767.4,938.8 1767.6,925.8 1767.8,949.2 1768.0,951.5 1768.2,940.0 1768.4,953.3 1768.6,932.2 1768.8,944.7 1769.0,939.4 1769.2,934.7 1769.4,950.9 1769.6,933.5 1769.8,939.0 1770.0,952.7 1770.2,923.7 1770.4,935.3 1770.6,941.6 1770.8,948.6 1771.0,947.9 1771.2,942.1 1771.4,948.1 1771.6,943.8 1771.8,949.3 1772.0,937.4 1772.2,930.3 1772.4,938.0 1772.6,930.0 1772.8,949.9 1773.0,940.1 1773.2,936.3 1773.4,948.1 1773.6,955.9 1773.8,946.2 1774.0,945.7 1774.2,942.8 1774.4,926.4 1774.6,937.2 1774.8,943.1 1775.0,947.1 1775.2,954.8 1775.4,941.9 1775.6,946.6 1775.8,935.5 1776.0,928.1 1776.2,929.0 1776.4,930.9 1776.6,938.2 1776.8,939.0 1777.0,924.1 1777.2,944.0 1777.4,926.8 1777.6,941.2 1777.8,924.3 1778.0,939.1 1778.2,932.8 1778.4,929.1 1778.6,937.5 1778.8,945.3 1779.0,943.4 1779.2,954.5 1779.4,933.0 1779.6,948.7 1779.8,924.5 1780.0,924.8 1780.2,939.6 1780.4,946.2 1780.6,951.7 1780.8,948.8 1781.0,935.3 1781.2,940.9 1781.4,951.6 1781.6,931.3 1781.8,926.6 1782.0,927.3 1782.2,931.8 1782.4,926.1 1782.6,946.7 1782.8,944.6 1783.0,934.9 1783.2,926.8 1783.4,936.1 1783.6,947.0 1783.8,939.6 1784.0,926.3 1784.2,949.7 1784.4,947.5 1784.6,932.5 1784.8,941.8 1785.0,915.0 1785.2,945.9 1785.4,937.5 1785.6,926.6 1785.8,928.6 1786.0,951.5 1786.2,943.3 1786.4,935.4 1786.6,935.7 1786.8,942.9 1787.0,929.4 1787.2,940.6 1787.4,928.3 1787.6,933.0 1787.8,949.7 1788.0,925.7 1788.2,931.0 1788.4,949.8 1788.6,922.5 1788.8,949.8 1789.0,924.0 1789.2,928.5 1789.4,949.9 1789.6,934.2 1789.8,948.1 1790.0,923.0 1790.2,957.8 1790.4,934.0 1790.6,950.2 1790.8,946.8 1791.0,952.2 1791.2,950.9 1791.4,950.9 1791.6,933.0 1791.8,926.6 1792.0,944.3 1792.2,935.4 1792.4,934.1 1792.6,929.7 1792.8,938.6 1793.0,942.4 1793.2,950.6 1793.4,925.5 1793.6,924.8 1793.8,940.3 1794.0,926.7 1794.2,943.4 1794.4,926.6 1794.6,929.6 1794.8,932.1 1795.0,957.8 1795.2,950.1 1795.4,921.8 1795.6,944.8 1795.8,925.1 1796.0,920.3 1796.2,924.6 1796.4,932.5 1796.6,926.3 1796.8,931.7 1797.0,929.3 1797.2,926.9 1797.4,928.4 1797.6,930.0 1797.8,927.2 1798.0,917.1 1798.2,940.9 1798.4,920.3 1798.6,948.6 1798.8,936.1 1799.0,920.3 1799.2,947.7 1799.4,921.8 1799.6,925.4 1799.8,942.8 1800.0,931.1 1800.2,926.2 1800.4,937.5 1800.6,927.2 1800.8,944.1 1801.0,927.4 1801.2,946.3 1801.4,933.6 1801.6,935.1 1801.8,933.0 1802.0,934.1 1802.2,929.0 1802.4,943.9 1802.6,941.3 1802.8,941.9 1803.0,929.6 1803.2,926.0 1803.4,933.9 1803.6,924.5 1803.8,929.6 1804.0,938.8 1804.2,941.1 1804.4,940.1 1804.6,945.2 1804.8,938.6 1805.0,948.7 1805.2,940.6 1805.4,938.4 1805.6,924.3 1805.8,929.6 1806.0,943.8 1806.2,932.9 1806.4,944.4 1806.6,940.5 1806.8,921.1 1807.0,943.0 1807.2,949.5 1807.4,957.1 1807.6,939.8 1807.8,932.7 1808.0,938.7 1808.2,919.4 1808.4,933.6 1808.6,924.8 1808.8,950.8 1809.0,947.8 1809.2,934.4 1809.4,944.6 1809.6,941.6 1809.8,940.9 1810.0,943.7 1810.2,925.2 1810.4,934.1 1810.6,952.4 1810.8,927.9 1811.0,941.3 1811.2,931.0 1811.4,951.3 1811.6,944.9 1811.8,926.3 1812.0,953.5 1812.2,935.1 1812.4,940.5 1812.6,938.7 1812.8,940.2 1813.0,947.8 1813.2,954.2 1813.4,952.3 1813.6,935.8 1813.8,935.6 1814.0,951.6 1814.2,951.0 1814.4,936.7 1814.6,922.0 1814.8,951.7 1815.0,935.7 1815.2,935.2 1815.4,936.8 1815.6,936.9 1815.8,931.3 1816.0,935.9 1816.2,927.4 1816.4,942.2 1816.6,948.5 1816.8,935.1 1817.0,954.6 1817.2,948.0 1817.4,951.1 1817.6,943.4 1817.8,944.4 1818.0,954.1 1818.2,932.9 1818.4,945.0 1818.6,944.8 1818.8,942.8 1819.0,958.7 1819.2,944.8 1819.4,934.0 1819.6,949.2 1819.8,947.4 1820.0,958.9 1820.2,921.8 1820.4,932.7 1820.6,955.1 1820.8,933.6 1821.0,950.3 1821.2,930.5 1821.4,948.9 1821.6,939.8 1821.8,942.7 1822.0,956.7 1822.2,942.4 1822.4,930.9 1822.6,937.0 1822.8,957.1 1823.0,943.8 1823.2,955.8 1823.4,943.1 1823.6,952.5 1823.8,935.6 1824.0,957.6 1824.2,938.5 1824.4,956.2 1824.6,940.2 1824.8,935.7 1825.0,947.0 1825.2,946.1 1825.4,934.9 1825.6,952.8 1825.8,957.3 1826.0,964.3 1826.2,957.3 1826.4,936.8 1826.6,932.8 1826.8,947.2 1827.0,949.2 1827.2,953.0 1827.4,953.8 1827.6,953.9 1827.8,937.1 1828.0,949.9 1828.2,934.3 1828.4,946.5 1828.6,943.6 1828.8,958.3 1829.0,943.6 1829.2,953.5 1829.4,949.3 1829.6,933.5 1829.8,956.0 1830.0,943.9 1830.2,949.2 1830.4,947.0 1830.6,944.9 1830.8,958.9 1831.0,941.6 1831.2,935.1 1831.4,950.4 1831.6,940.9 1831.8,954.6 1832.0,947.6 1832.2,942.1 1832.4,935.4 1832.6,925.3 1832.8,954.7 1833.0,945.2 1833.2,949.3 1833.4,935.0 1833.6,933.7 1833.8,959.1 1834.0,959.7 1834.2,937.3 1834.4,949.2 1834.6,936.3 1834.8,933.9 1835.0,949.2 1835.2,948.6 1835.4,958.4 1835.6,943.6 1835.8,932.7 1836.0,934.3 1836.2,940.9 1836.4,941.2 1836.6,941.9 1836.8,956.2 1837.0,960.0 1837.2,959.8 1837.4,944.5 1837.6,958.9 1837.8,948.6 1838.0,952.9 1838.2,956.3 1838.4,949.6 1838.6,936.4 1838.8,953.3 1839.0,942.6 1839.2,949.4 1839.4,943.7 1839.6,958.0 1839.8,935.5 1840.0,934.0 1840.2,959.1 1840.4,954.7 1840.6,942.2 1840.8,961.1 1841.0,941.3 1841.2,959.8 1841.4,958.6 1841.6,961.6 1841.8,934.0 1842.0,946.4 1842.2,942.2 1842.4,935.5 1842.6,949.1 1842.8,956.0 1843.0,939.8 1843.2,955.5 1843.4,945.1 1843.6,952.3 1843.8,957.0 1844.0,953.4 1844.2,955.4 1844.4,944.8 1844.6,945.6 1844.8,942.4 1845.0,957.2 1845.2,942.3 1845.4,942.7 1845.6,957.7 1845.8,936.3 1846.0,939.6 1846.2,939.3 1846.4,957.6 1846.6,939.7 1846.8,951.9 1847.0,947.3 1847.2,936.9 1847.4,958.0 1847.6,960.8 1847.8,950.6 1848.0,955.5 1848.2,949.6 1848.4,955.0 1848.6,949.7 1848.8,960.4 1849.0,943.3 1849.2,958.5 1849.4,935.5 1849.6,937.4 1849.8,944.3 1850.0,935.5 1850.2,949.5 1850.4,954.6 1850.6,944.2 1850.8,948.4 1851.0,955.8 1851.2,936.0 1851.4,954.8 1851.6,961.0 1851.8,959.1 1852.0,946.8 1852.2,935.9 1852.4,950.5 1852.6,934.4 1852.8,963.1 1853.0,935.6 1853.2,943.7 1853.4,968.2 1853.6,952.2 1853.8,937.6 1854.0,935.9 1854.2,952.1 1854.4,952.8 1854.6,943.8 1854.8,961.5 1855.0,945.5 1855.2,962.5 1855.4,941.1 1855.6,940.9 1855.8,955.6 1856.0,940.0 1856.2,957.6 1856.4,953.1 1856.6,947.1 1856.8,948.4 1857.0,956.0 1857.2,948.7 1857.4,961.9 1857.6,954.7 1857.8,950.2 1858.0,961.9 1858.2,957.6 1858.4,941.1 1858.6,949.9 1858.8,957.7 1859.0,956.1 1859.2,951.4 1859.4,943.0 1859.6,948.7 1859.8,936.0 1860.0,961.4 1860.2,955.6 1860.4,948.3 1860.6,936.0 1860.8,955.5 1861.0,944.3 1861.2,943.7 1861.4,944.7 1861.6,942.6 1861.8,952.4 1862.0,943.8 1862.2,949.6 1862.4,952.5 1862.6,947.7 1862.8,935.0 1863.0,956.6 1863.2,944.9 1863.4,952.4 1863.6,961.7 1863.8,935.8 1864.0,954.0 1864.2,947.5 1864.4,944.0 1864.6,946.2 1864.8,957.2 1865.0,949.3 1865.2,943.5 1865.4,947.6 1865.6,942.6 1865.8,964.2 1866.0,943.7 1866.2,950.6 1866.4,934.9 1866.6,937.0 1866.8,957.2 1867.0,945.5 1867.2,939.3 1867.4,949.1 1867.6,945.7 1867.8,951.5 1868.0,948.0 1868.2,942.0 1868.4,960.5 1868.6,939.1 1868.8,935.9 1869.0,942.0 1869.2,947.7 1869.4,946.4 1869.6,948.8 1869.8,957.3 1870.0,952.8 1870.2,943.8 1870.4,936.5 1870.6,958.9 1870.8,956.2 1871.0,957.2 1871.2,939.6 1871.4,949.4 1871.6,952.3 1871.8,955.5 1872.0,960.3 1872.2,950.3 1872.4,950.2 1872.6,952.6 1872.8,958.2 1873.0,959.9 1873.2,943.2 1873.4,943.1 1873.6,948.7 1873.8,958.2 1874.0,946.8 1874.2,960.9 1874.4,954.3 1874.6,948.3 1874.8,955.2 1875.0,947.8 1875.2,952.1 1875.4,954.6 1875.6,956.1 1875.8,953.7 1876.0,948.3 1876.2,960.5 1876.4,952.1 1876.6,946.7 1876.8,950.6 1877.0,948.5 1877.2,959.6 1877.4,945.0 1877.6,942.8 1877.8,942.4 1878.0,944.9 1878.2,948.9 1878.4,965.0 1878.6,950.8 1878.8,963.8 1879.0,953.5 1879.2,938.3 1879.4,940.1 1879.6,950.6 1879.8,956.3 1880.0,937.8 1880.2,949.6 1880.4,957.8 1880.6,958.2 1880.8,954.9 1881.0,939.6 1881.2,942.0 1881.4,935.1 1881.6,961.0 1881.8,942.7" fill="none" stroke="#660666" stroke-width="2.9" stroke-linejoin="round"/>
<path d="M324.1,1173.9 326.0,1172.2 327.9,1169.4 329.8,1167.7 331.7,1166.7 333.6,1165.1 336.5,1150.5 339.1,1119.7 341.6,1140.5 344.1,1138.1 345.3,1171.0 347.4,1187.0 349.0,1186.0 350.6,1185.1 352.3,1183.6 353.9,1181.2 355.5,1181.0 357.3,1176.0 359.1,1172.1 361.0,1167.8 362.8,1162.0 364.9,1156.8 367.4,1152.0 370.0,1188.5 372.2,1190.2 374.5,1190.0 379.3,1171.0 383.2,1197.0 385.4,1194.2 387.6,1191.4 389.4,1194.3 391.2,1194.5 393.1,1197.2 394.9,1198.7 396.7,1197.5 398.5,1193.9 400.4,1192.2 402.2,1191.4 405.8,1178.0 410.2,1200.0 412.4,1193.1 414.6,1187.0 417.2,1177.0 419.7,1198.3 420.4,1206.0 422.0,1201.7 423.7,1197.9 425.4,1195.2 427.0,1191.4 428.4,1186.0 430.9,1181.4 433.4,1199.1 435.8,1206.0 437.7,1203.3 439.7,1200.0 441.6,1197.0 444.5,1187.0 447.0,1195.6 448.2,1203.0 450.2,1206.4 452.2,1208.4 454.2,1211.5 456.2,1214.7 458.0,1211.2 459.7,1208.8 461.5,1206.8 463.2,1205.0 465.0,1201.6 466.1,1196.6 468.6,1191.6 471.1,1204.5 472.3,1210.4 474.1,1211.3 475.8,1213.2 477.6,1214.3 479.4,1214.8 481.2,1215.8 482.9,1214.9 484.7,1217.0 486.5,1216.1 488.2,1213.1 490.0,1213.5 491.8,1211.3 493.6,1209.1 495.3,1209.8 497.1,1207.4 498.8,1204.9 500.5,1205.0 502.2,1202.9 503.9,1201.5 505.6,1199.0 507.3,1197.0 509.0,1197.0 510.8,1198.2 512.5,1197.9 514.3,1198.9 516.0,1198.7 518.2,1193.6 520.7,1170.4 523.5,1178.0 526.3,1172.4 530.7,1203.0 532.9,1209.9 535.0,1214.7 536.8,1211.5 538.6,1209.5 540.5,1208.0 542.3,1206.0 543.8,1200.5 546.3,1194.5 548.8,1199.2 549.6,1204.5 551.4,1205.7 553.1,1208.8 554.9,1211.2 556.6,1212.9 558.4,1216.0 561.0,1212.4 563.5,1200.7 566.0,1204.7 568.6,1207.4 570.5,1208.6 572.4,1212.4 574.3,1213.7 576.2,1217.2 578.1,1219.0 580.0,1216.2 581.9,1214.8 583.8,1210.7 585.7,1208.7 587.6,1206.0 591.7,1187.0 592.5,1181.2 595.0,1177.0 597.5,1192.9 598.2,1200.0 600.0,1201.0 601.9,1203.0 607.7,1173.9 610.7,1125.7 613.6,1117.7 616.5,1179.7 619.1,1150.5 623.0,1169.5 626.0,1198.7 629.6,1176.8 631.0,1161.7 633.5,1158.0 636.0,1153.8 637.7,1168.0 642.5,1147.2 645.0,1158.0 647.5,1178.7 648.6,1203.0 650.8,1205.6 653.0,1206.0 657.4,1191.4 659.6,1188.7 661.8,1187.0 663.6,1191.8 665.4,1195.8 667.6,1173.9 668.3,1168.4 670.8,1152.0 673.4,1162.0 675.6,1194.3 677.5,1192.5 679.3,1191.4 681.8,1181.4 684.3,1193.7 685.8,1198.7 687.3,1192.0 689.8,1188.7 692.3,1195.8 693.1,1203.0 695.3,1206.0 698.2,1176.8 700.4,1159.3 702.6,1161.1 704.8,1162.0 707.0,1194.3 710.7,1207.4 713.6,1191.4 715.5,1182.3 718.0,1208.7 718.7,1214.7 720.6,1216.2 722.5,1217.7 724.4,1218.5 726.3,1219.3 728.2,1220.6 729.8,1219.0 731.5,1216.8 733.1,1215.3 734.7,1214.7 738.4,1203.0 741.0,1184.0 745.0,1211.8 747.1,1208.1 749.3,1206.0 751.1,1208.5 753.0,1208.9 755.2,1188.5 757.4,1181.9 759.9,1204.2 761.0,1208.9 763.0,1213.2 764.9,1217.7 766.9,1220.6 769.0,1217.9 771.2,1214.7 772.7,1210.5 775.2,1203.3 777.7,1209.3 778.5,1213.3 780.2,1215.0 781.9,1217.0 783.6,1220.6 786.6,1206.0 788.5,1202.1 791.0,1194.1 793.5,1199.4 794.6,1203.0 796.2,1206.0 797.9,1210.0 799.6,1212.5 801.2,1214.7 805.5,1192.8 807.2,1191.8 809.0,1192.5 810.7,1192.8 813.6,1207.4 816.5,1227.9 818.3,1226.4 820.0,1226.2 821.8,1226.6 823.5,1225.2 825.3,1225.0 828.2,1214.7 829.8,1217.3 831.5,1219.3 833.1,1222.2 834.7,1225.0 836.4,1221.3 838.2,1218.3 839.9,1214.7 842.8,1200.0 844.4,1198.5 846.0,1200.2 847.7,1197.6 849.3,1198.0 851.0,1200.6 852.8,1206.3 854.5,1208.9 856.4,1213.9 858.4,1218.4 860.3,1225.0 862.4,1218.5 864.5,1214.0 866.6,1207.4 868.2,1212.4 869.9,1216.5 871.5,1221.4 873.1,1225.0 877.5,1206.0 880.4,1171.0 883.4,1188.0 884.1,1179.1 886.6,1166.8 889.1,1169.1 891.4,1176.8 894.3,1217.7 896.0,1221.5 897.7,1226.4 899.4,1229.3 901.2,1228.0 903.0,1227.8 904.9,1227.9 906.7,1226.4 908.7,1224.6 910.6,1221.9 912.6,1220.6 914.7,1191.4 917.4,1181.4 919.9,1200.0 921.3,1206.0 923.5,1230.8 927.2,1214.7 928.8,1213.2 930.5,1213.4 932.1,1211.5 933.7,1210.4 935.7,1212.5 937.6,1215.6 939.6,1217.7 943.9,1233.7 945.9,1233.8 947.8,1236.2 949.8,1236.6 951.4,1235.1 953.1,1234.3 954.8,1232.8 956.4,1232.0 958.2,1232.9 960.0,1231.2 961.8,1232.9 963.7,1232.4 965.5,1231.2 967.3,1232.0 968.8,1220.6 970.5,1214.9 972.2,1210.3 973.9,1206.0 975.0,1201.8 977.5,1196.0 980.0,1201.8 981.9,1206.0 985.5,1230.8 987.5,1232.6 989.4,1235.7 991.4,1236.6 996.5,1220.6 998.2,1220.1 999.9,1217.7 1001.6,1217.0 1005.3,1232.0 1007.1,1226.9 1008.9,1222.0 1010.5,1224.9 1012.2,1230.7 1013.9,1234.5 1015.5,1238.0 1020.6,1220.6 1025.7,1202.3 1030.8,1227.9 1033.0,1229.7 1035.2,1230.8 1037.0,1228.1 1038.8,1225.0 1040.5,1227.3 1042.2,1231.7 1043.9,1235.0 1045.8,1230.2 1047.6,1225.0 1049.2,1227.8 1050.9,1231.0 1052.5,1232.1 1054.2,1235.0 1055.8,1233.0 1057.5,1232.0 1059.1,1231.0 1060.7,1229.3 1063.6,1211.8 1065.3,1211.7 1067.1,1210.5 1068.8,1208.9 1074.6,1230.8 1079.0,1214.7 1080.7,1213.3 1082.4,1211.6 1084.1,1210.4 1089.2,1230.8 1091.1,1234.1 1093.1,1235.8 1095.0,1238.8 1096.8,1236.6 1098.7,1233.6 1100.5,1232.8 1102.3,1230.8 1104.2,1225.0 1106.0,1220.6 1108.9,1205.3 1112.6,1220.6 1115.5,1235.0 1117.3,1235.8 1119.2,1233.4 1121.0,1232.9 1122.8,1233.7 1124.4,1233.7 1126.1,1234.9 1127.7,1233.2 1129.3,1232.8 1131.0,1232.7 1132.6,1232.5 1134.3,1234.0 1135.9,1233.7 1137.6,1229.9 1139.3,1227.7 1141.0,1223.5 1142.7,1226.2 1144.4,1230.4 1146.1,1233.7 1149.2,1233.1 1151.1,1231.3 1152.9,1231.2 1154.8,1231.9 1156.6,1230.4 1158.5,1229.4 1160.3,1231.2 1162.2,1234.2 1164.0,1234.6 1165.9,1235.8 1167.7,1238.7 1169.6,1236.7 1171.4,1235.2 1173.3,1233.8 1175.1,1230.9 1177.0,1229.4 1178.8,1230.4 1180.7,1232.2 1182.5,1232.5 1184.4,1232.5 1186.2,1234.0 1188.0,1234.9 1189.7,1234.0 1191.5,1234.5 1193.2,1234.3 1195.0,1233.9 1196.7,1232.9 1198.5,1233.7 1200.2,1232.3 1202.0,1233.1 1205.6,1211.0 1207.9,1210.4 1210.3,1209.0 1212.2,1209.5 1214.0,1209.5 1215.8,1210.3 1217.7,1210.4 1219.6,1211.3 1221.4,1211.9 1224.1,1225.7 1225.7,1228.3 1227.3,1231.2 1229.0,1232.9 1230.6,1236.8 1232.5,1235.6 1234.3,1237.0 1236.2,1235.9 1237.9,1230.9 1239.5,1226.9 1241.2,1223.6 1242.8,1218.6 1244.5,1214.6 1246.2,1215.5 1248.0,1215.8 1249.7,1217.9 1251.4,1219.4 1253.1,1220.3 1254.8,1221.3 1256.6,1222.0 1258.3,1223.9 1260.2,1225.5 1262.0,1226.5 1263.9,1228.9 1265.7,1230.1 1267.6,1233.1 1269.4,1231.2 1271.3,1229.9 1273.1,1230.8 1275.0,1228.8 1276.8,1227.6 1278.4,1226.1 1280.1,1226.1 1281.7,1224.9 1284.2,1220.9 1286.7,1224.9 1289.8,1227.6 1292.1,1229.8 1294.4,1233.1 1296.1,1232.8 1297.9,1231.8 1299.6,1230.8 1301.3,1231.3 1303.1,1230.1 1304.8,1230.0 1306.6,1227.7 1308.3,1227.6 1310.2,1224.1 1312.0,1221.5 1313.8,1218.1 1315.7,1214.6 1317.5,1218.9 1319.3,1223.3 1321.2,1229.9 1323.0,1234.0 1324.9,1232.2 1326.8,1230.1 1328.6,1230.3 1330.5,1228.5 1332.3,1229.3 1334.2,1231.5 1336.0,1231.3 1337.9,1232.9 1339.8,1235.7 1341.6,1235.9 1343.3,1236.4 1345.1,1236.1 1346.8,1237.3 1348.6,1237.1 1350.3,1236.1 1352.1,1236.5 1353.8,1238.1 1355.6,1238.5 1357.3,1238.1 1359.1,1237.8 1360.9,1236.7 1362.8,1236.4 1364.7,1234.7 1366.5,1233.1 1368.3,1230.9 1370.2,1227.1 1372.1,1222.7 1373.9,1220.2 1375.5,1223.2 1377.2,1224.4 1378.8,1226.0 1380.4,1228.5 1382.1,1226.2 1383.7,1224.6 1385.4,1223.6 1387.0,1220.8 1388.7,1220.2 1390.6,1223.4 1392.4,1226.7 1394.3,1229.8 1396.1,1234.3 1398.0,1237.8 1399.6,1236.2 1401.2,1236.2 1402.8,1234.0 1404.5,1231.8 1406.1,1230.4 1407.7,1230.3 1409.3,1229.5 1410.9,1227.6 1412.7,1228.9 1414.6,1230.8 1416.4,1232.2 1418.2,1231.1 1420.1,1228.9 1422.0,1226.9 1423.8,1224.8 1425.5,1227.6 1427.2,1227.7 1428.9,1229.6 1430.6,1233.3 1432.3,1234.8 1434.0,1235.9 1435.9,1238.5 1437.7,1238.9 1439.6,1240.2 1441.4,1242.9 1443.3,1243.3 1445.1,1242.9 1446.9,1241.7 1448.8,1241.0 1450.6,1240.5 1454.3,1228.5 1456.2,1230.1 1458.0,1230.8 1459.8,1232.8 1461.7,1235.6 1463.6,1237.5 1465.4,1238.7 1467.0,1239.4 1468.7,1238.4 1470.3,1237.1 1471.9,1238.2 1473.5,1236.7 1475.2,1237.4 1476.8,1236.3 1478.4,1236.8 1480.2,1237.6 1482.1,1240.3 1483.9,1240.8 1485.8,1242.6 1487.6,1243.3 1489.4,1243.1 1491.3,1244.5 1493.2,1245.1 1495.0,1246.0 1496.8,1245.3 1498.7,1242.9 1500.6,1241.3 1502.4,1238.7 1504.3,1241.6 1506.1,1242.5 1508.0,1246.0 1509.6,1246.0 1511.3,1245.2 1512.9,1244.4 1514.6,1243.1 1516.2,1242.0 1517.9,1241.9 1519.5,1241.2 1521.1,1241.9 1522.7,1242.2 1524.3,1244.8 1526.0,1245.5 1527.6,1245.2 1529.2,1247.0 1530.9,1246.4 1532.5,1246.3 1534.2,1244.5 1535.8,1242.4 1537.5,1243.8 1539.1,1242.1 1540.8,1240.9 1542.4,1241.1 1544.0,1239.0 1545.7,1238.3 1547.5,1239.2 1549.2,1240.2 1551.0,1243.6 1552.7,1243.6 1554.5,1246.0 1556.2,1246.3 1558.0,1244.2 1559.8,1245.2 1561.5,1243.3 1563.2,1244.6 1565.0,1242.6 1566.8,1244.3 1568.5,1243.2 1570.2,1243.3 1572.0,1242.2 1573.8,1244.0 1575.5,1243.9 1577.2,1244.7 1579.0,1246.3 1580.8,1246.6 1582.5,1247.6 1584.2,1247.7 1586.0,1249.6 1587.8,1249.4 1589.5,1250.0 1591.1,1249.2 1592.7,1249.0 1594.3,1251.0 1595.9,1249.3 1597.5,1250.5 1599.1,1250.4 1600.7,1251.2 1602.3,1250.2 1604.0,1249.7 1605.6,1249.8 1607.2,1249.7 1608.8,1250.8 1610.4,1249.7 1612.0,1250.6 1613.6,1250.2 1615.2,1250.1 1616.8,1251.0 1618.5,1251.2 1620.2,1251.0 1621.8,1250.6 1623.5,1249.4 1625.2,1249.3 1626.9,1249.5 1628.6,1249.0 1630.2,1248.4 1631.9,1247.4 1633.6,1247.1 1635.3,1247.5 1637.0,1247.7 1638.6,1246.4 1640.3,1246.5 1642.0,1246.0 1643.7,1247.7 1645.4,1246.7 1647.1,1248.2 1648.8,1248.2 1650.6,1248.2 1652.3,1249.0 1654.0,1248.5 1655.7,1250.0 1657.4,1250.4 1659.1,1251.2 1660.8,1249.5 1662.4,1251.1 1664.1,1249.9 1665.8,1250.2 1667.5,1251.7 1669.2,1251.6 1670.9,1251.0 1672.6,1251.6 1674.3,1251.2 1675.9,1252.8 1677.6,1252.9 1679.3,1253.8 1681.0,1252.9 1682.6,1253.5 1684.3,1254.2 1685.9,1254.1 1687.6,1253.7 1689.2,1253.7 1690.9,1252.8 1692.5,1253.1 1694.2,1254.3 1695.8,1253.9 1697.5,1253.4 1699.1,1255.2 1700.8,1254.3 1702.4,1254.8 1704.0,1253.2 1705.7,1252.8 1707.3,1252.2 1709.0,1252.0 1710.6,1252.3 1712.3,1251.7 1713.9,1250.4 1715.6,1249.7 1717.2,1250.0 1718.9,1249.9 1720.5,1249.0 1722.2,1248.5 1723.8,1248.0 1725.5,1249.4 1727.1,1249.5 1728.8,1249.6 1730.5,1249.2 1732.2,1249.9 1733.8,1250.6 1735.5,1250.3 1737.2,1249.7 1738.8,1251.5 1740.5,1252.4 1742.2,1251.4 1743.9,1252.9 1745.5,1253.1 1747.2,1252.9 1748.9,1252.8 1750.7,1250.9 1752.4,1250.4 1754.1,1251.2 1755.9,1250.8 1757.6,1249.4 1759.3,1251.0 1761.1,1248.8 1762.8,1249.0 1764.4,1249.0 1766.0,1247.5 1767.7,1246.9 1769.3,1247.2 1770.9,1246.9 1772.5,1244.0 1774.1,1245.0 1775.7,1244.2 1777.3,1243.2 1779.0,1242.2 1780.6,1241.8 1782.2,1241.2 1783.9,1241.3 1785.7,1243.5 1787.4,1242.3 1789.1,1242.9 1790.9,1244.9 1792.6,1245.0 1794.3,1246.0 1796.1,1246.6 1797.8,1247.0 1799.5,1247.6 1801.1,1246.3 1802.8,1247.8 1804.4,1247.0 1806.1,1248.0 1807.7,1247.2 1809.4,1248.5 1811.0,1248.6 1812.7,1248.2 1814.3,1247.4 1816.0,1247.9 1817.7,1247.9 1819.3,1247.5 1821.0,1247.4 1822.6,1248.8 1824.3,1248.5 1825.9,1247.7 1827.6,1249.1 1829.2,1249.1 1830.9,1249.0 1832.5,1248.5 1834.2,1247.0 1835.8,1247.4 1837.5,1246.9 1839.1,1245.5 1840.8,1245.3 1842.4,1246.5 1844.1,1246.0 1845.7,1245.2 1847.4,1243.7 1849.0,1243.8 1850.7,1241.8 1852.3,1242.2 1854.0,1242.6 1855.8,1243.8 1857.5,1243.5 1859.3,1245.3 1861.0,1245.8 1862.8,1245.2 1864.5,1245.2 1866.3,1247.1 1868.0,1246.8 1869.8,1248.0 1871.5,1248.3 1873.1,1247.6 1874.8,1248.0 1876.5,1245.8 1878.2,1246.4 1879.8,1247.1 1881.5,1246.0" fill="none" stroke="#000" stroke-width="4.0" stroke-linejoin="round" stroke-linecap="round"/>
<path d="M324.1,1173.9 326.0,1171.5 327.9,1171.3 329.8,1167.9 331.7,1167.9 333.6,1165.1 336.5,1150.5 339.1,1119.7 341.2,842.0 342.0,842.0 344.1,1138.1 345.3,1171.0 347.4,1187.0 349.0,1185.8 350.6,1184.9 352.3,1184.0 353.9,1182.2 355.5,1181.0 357.3,1175.8 359.1,1170.8 361.0,1165.7 362.8,1162.0 364.9,1156.8 367.0,1109.6 367.8,1109.6 370.0,1188.5 372.2,1189.8 374.5,1190.0 379.3,1171.0 383.2,1197.0 385.4,1194.1 387.6,1191.4 389.4,1192.4 391.2,1196.0 393.1,1196.3 394.9,1198.7 396.7,1196.7 398.5,1194.6 400.4,1193.5 402.2,1191.4 405.8,1178.0 410.2,1200.0 412.4,1193.7 414.6,1187.0 416.8,1128.6 417.6,1128.6 419.7,1198.3 420.4,1206.0 422.0,1202.6 423.7,1198.1 425.4,1194.5 427.0,1191.4 428.4,1186.0 430.5,1137.4 431.3,1137.4 433.4,1199.1 435.8,1206.0 437.7,1202.4 439.7,1199.6 441.6,1197.0 444.1,1128.6 444.9,1128.6 447.0,1195.6 448.2,1203.0 450.2,1205.1 452.2,1208.0 454.2,1212.9 456.2,1214.7 458.0,1213.2 459.7,1208.7 461.5,1205.7 463.2,1203.5 465.0,1201.6 466.1,1196.6 468.2,1151.2 469.0,1151.2 471.1,1204.5 472.3,1210.4 474.1,1211.8 475.8,1213.0 477.6,1212.1 479.4,1214.4 481.2,1213.9 482.9,1216.1 484.7,1217.0 486.5,1216.0 488.2,1215.4 490.0,1212.3 491.8,1212.2 493.6,1211.0 495.3,1209.8 497.1,1207.4 498.8,1204.5 500.5,1203.9 502.2,1203.4 503.9,1200.2 505.6,1199.5 507.3,1197.0 509.0,1197.5 510.8,1198.3 512.5,1198.0 514.3,1197.2 516.0,1198.7 518.2,1193.6 520.3,1147.6 521.1,1147.6 523.5,1178.0 526.3,1172.4 530.7,1203.0 532.9,1207.9 535.0,1214.7 536.8,1211.6 538.6,1209.8 540.5,1209.3 542.3,1206.0 543.8,1200.5 545.9,1151.2 546.7,1151.2 548.8,1199.2 549.6,1204.5 551.4,1207.1 553.1,1209.9 554.9,1211.6 556.6,1214.0 558.4,1216.0 561.0,1212.4 563.1,1180.4 563.9,1180.4 566.0,1204.7 568.6,1207.4 570.5,1210.5 572.4,1213.1 574.3,1215.4 576.2,1217.5 578.1,1219.0 580.0,1215.4 581.9,1213.5 583.8,1210.1 585.7,1208.7 587.6,1206.0 591.7,1187.0 592.5,1181.2 594.6,1128.6 595.4,1128.6 597.5,1192.9 598.2,1200.0 600.0,1202.2 601.9,1203.0 607.7,1173.9 610.7,1125.7 613.2,1093.6 614.0,1093.6 616.5,1179.7 619.1,1150.5 623.0,1169.5 626.0,1198.7 629.6,1176.8 631.0,1161.7 633.1,1026.0 633.9,1026.0 636.0,1153.8 637.7,1168.0 642.5,1147.2 644.6,960.0 645.4,960.0 647.5,1178.7 648.6,1203.0 650.8,1203.4 653.0,1206.0 657.4,1191.4 659.6,1188.5 661.8,1187.0 663.6,1191.1 665.4,1195.8 667.6,1173.9 668.3,1168.4 670.4,1118.4 671.2,1118.4 673.4,1162.0 675.6,1194.3 677.5,1192.2 679.3,1191.4 681.4,1149.0 682.2,1149.0 684.3,1193.7 685.8,1198.7 687.3,1192.0 689.4,1131.5 690.2,1131.5 692.3,1195.8 693.1,1203.0 695.3,1206.0 698.2,1176.8 700.4,1159.3 702.6,1161.4 704.8,1162.0 707.0,1194.3 710.7,1207.4 713.6,1191.4 715.1,1154.9 715.9,1154.9 718.0,1208.7 718.7,1214.7 720.6,1215.5 722.5,1217.4 724.4,1218.2 726.3,1219.6 728.2,1220.6 729.8,1220.2 731.5,1218.7 733.1,1215.2 734.7,1214.7 738.4,1203.0 741.0,1184.0 745.0,1211.8 747.1,1209.7 749.3,1206.0 751.1,1207.1 753.0,1208.9 755.2,1188.5 757.0,1162.0 757.8,1162.0 759.9,1204.2 761.0,1208.9 763.0,1211.8 764.9,1216.4 766.9,1220.6 769.0,1217.7 771.2,1214.7 772.7,1210.5 774.8,1173.0 775.6,1173.0 777.7,1209.3 778.5,1213.3 780.2,1216.8 781.9,1217.9 783.6,1220.6 786.6,1206.0 788.5,1202.1 790.6,1167.3 791.4,1167.3 793.5,1199.4 794.6,1203.0 796.2,1204.8 797.9,1209.7 799.6,1210.8 801.2,1214.7 805.5,1192.8 807.2,1192.7 809.0,1193.6 810.7,1192.8 813.6,1207.4 816.5,1227.9 818.3,1227.4 820.0,1226.6 821.8,1226.9 823.5,1224.4 825.3,1225.0 828.2,1214.7 829.8,1217.4 831.5,1219.6 833.1,1223.6 834.7,1225.0 836.4,1222.3 838.2,1217.1 839.9,1214.7 842.8,1200.0 844.4,1198.8 846.0,1198.9 847.7,1199.0 849.3,1198.0 851.0,1201.2 852.8,1204.9 854.5,1208.9 856.4,1215.3 858.4,1220.7 860.3,1225.0 862.4,1218.9 864.5,1214.2 866.6,1207.4 868.2,1211.4 869.9,1215.2 871.5,1220.7 873.1,1225.0 877.5,1206.0 880.4,1171.0 883.4,1188.0 884.1,1179.1 886.2,1099.4 887.0,1099.4 889.1,1169.1 891.4,1176.8 894.3,1217.7 896.0,1222.0 897.7,1226.4 899.4,1229.3 901.2,1229.7 903.0,1228.5 904.9,1227.7 906.7,1226.4 908.7,1225.0 910.6,1223.0 912.6,1220.6 914.7,1191.4 917.0,1146.0 917.8,1146.0 919.9,1200.0 921.3,1206.0 923.5,1230.8 927.2,1214.7 928.8,1214.3 930.5,1213.7 932.1,1211.2 933.7,1210.4 935.7,1211.8 937.6,1214.6 939.6,1217.7 943.9,1233.7 945.9,1234.0 947.8,1235.3 949.8,1236.6 951.4,1236.2 953.1,1233.2 954.8,1233.0 956.4,1232.0 958.2,1232.8 960.0,1231.4 961.8,1231.0 963.7,1231.4 965.5,1231.0 967.3,1232.0 968.8,1220.6 970.5,1216.5 972.2,1210.1 973.9,1206.0 975.0,1201.8 977.1,1164.4 977.9,1164.4 980.0,1201.8 981.9,1206.0 985.5,1230.8 987.5,1232.0 989.4,1235.4 991.4,1236.6 996.5,1220.6 998.2,1220.1 999.9,1218.4 1001.6,1217.0 1005.3,1232.0 1007.1,1228.0 1008.9,1222.0 1010.5,1224.9 1012.2,1231.1 1013.9,1234.2 1015.5,1238.0 1020.6,1220.6 1025.7,1202.3 1030.8,1227.9 1033.0,1228.9 1035.2,1230.8 1037.0,1228.7 1038.8,1225.0 1040.5,1228.7 1042.2,1232.8 1043.9,1235.0 1045.8,1229.1 1047.6,1225.0 1049.2,1227.7 1050.9,1229.9 1052.5,1232.9 1054.2,1235.0 1055.8,1233.0 1057.5,1231.0 1059.1,1230.8 1060.7,1229.3 1063.6,1211.8 1065.3,1210.5 1067.1,1210.8 1068.8,1208.9 1074.6,1230.8 1079.0,1214.7 1080.7,1213.2 1082.4,1211.6 1084.1,1210.4 1089.2,1230.8 1091.1,1233.8 1093.1,1236.2 1095.0,1238.8 1096.8,1237.9 1098.7,1235.5 1100.5,1232.8 1102.3,1230.8 1104.2,1225.0 1106.0,1220.6 1108.9,1205.3 1112.6,1220.6 1115.5,1235.0 1117.3,1234.9 1119.2,1234.9 1121.0,1234.6 1122.8,1233.7 1124.4,1234.9 1126.1,1233.0 1127.7,1233.5 1129.3,1233.5 1131.0,1233.3 1132.6,1233.4 1134.3,1233.6 1135.9,1233.7 1137.6,1230.4 1139.3,1226.3 1141.0,1223.5 1142.7,1226.0 1144.4,1229.8 1146.1,1233.7 1149.2,1233.1 1151.1,1231.5 1152.9,1231.2 1154.8,1231.3 1156.6,1230.4 1158.5,1229.4 1160.3,1232.5 1162.2,1233.3 1164.0,1235.1 1165.9,1237.2 1167.7,1238.7 1169.6,1237.4 1171.4,1235.3 1173.3,1233.3 1175.1,1231.5 1177.0,1229.4 1178.8,1230.0 1180.7,1231.9 1182.5,1232.4 1184.4,1232.6 1186.2,1234.0 1188.0,1233.3 1189.7,1232.8 1191.5,1233.3 1193.2,1232.4 1195.0,1232.7 1196.7,1232.3 1198.5,1232.8 1200.2,1232.8 1202.0,1233.1 1205.6,1211.0 1207.9,1210.2 1210.3,1209.0 1212.2,1210.1 1214.0,1210.3 1215.8,1209.6 1217.7,1211.9 1219.6,1212.0 1221.4,1211.9 1224.1,1225.7 1225.7,1228.5 1227.3,1231.6 1229.0,1234.0 1230.6,1236.8 1232.5,1235.7 1234.3,1236.5 1236.2,1235.9 1237.9,1232.8 1239.5,1228.0 1241.2,1222.4 1242.8,1217.9 1244.5,1214.6 1246.2,1216.8 1248.0,1217.9 1249.7,1218.7 1251.4,1219.9 1253.1,1219.6 1254.8,1222.3 1256.6,1222.0 1258.3,1223.9 1260.2,1224.9 1262.0,1227.4 1263.9,1228.2 1265.7,1232.1 1267.6,1233.1 1269.4,1231.2 1271.3,1231.5 1273.1,1230.0 1275.0,1229.3 1276.8,1227.6 1278.4,1226.9 1280.1,1226.9 1281.7,1224.9 1283.8,1200.8 1284.6,1200.8 1286.7,1224.9 1289.8,1227.6 1292.1,1230.1 1294.4,1233.1 1296.1,1232.4 1297.9,1231.3 1299.6,1231.6 1301.3,1229.9 1303.1,1230.4 1304.8,1228.0 1306.6,1227.7 1308.3,1227.6 1310.2,1224.2 1312.0,1220.2 1313.8,1217.1 1315.7,1214.6 1317.5,1220.3 1319.3,1224.0 1321.2,1228.5 1323.0,1234.0 1324.9,1233.5 1326.8,1231.4 1328.6,1230.2 1330.5,1228.5 1332.3,1230.7 1334.2,1231.5 1336.0,1231.6 1337.9,1232.3 1339.8,1234.8 1341.6,1235.9 1343.3,1236.6 1345.1,1237.0 1346.8,1235.7 1348.6,1237.0 1350.3,1237.9 1352.1,1236.5 1353.8,1236.7 1355.6,1237.2 1357.3,1237.8 1359.1,1237.8 1360.9,1237.8 1362.8,1235.7 1364.7,1235.2 1366.5,1233.1 1368.3,1230.2 1370.2,1226.6 1372.1,1223.0 1373.9,1220.2 1375.5,1221.9 1377.2,1225.0 1378.8,1225.7 1380.4,1228.5 1382.1,1226.0 1383.7,1224.5 1385.4,1223.9 1387.0,1221.6 1388.7,1220.2 1390.6,1223.0 1392.4,1226.8 1394.3,1229.8 1396.1,1234.1 1398.0,1237.8 1399.6,1237.3 1401.2,1235.1 1402.8,1233.8 1404.5,1231.6 1406.1,1230.9 1407.7,1229.1 1409.3,1227.8 1410.9,1227.6 1412.7,1230.0 1414.6,1231.2 1416.4,1232.2 1418.2,1231.1 1420.1,1227.6 1422.0,1226.3 1423.8,1224.8 1425.5,1227.6 1427.2,1228.3 1428.9,1231.4 1430.6,1233.3 1432.3,1232.9 1434.0,1235.9 1435.9,1237.2 1437.7,1239.1 1439.6,1240.0 1441.4,1241.5 1443.3,1243.3 1445.1,1242.3 1446.9,1241.3 1448.8,1240.1 1450.6,1240.5 1454.3,1228.5 1456.2,1230.8 1458.0,1233.1 1459.8,1232.5 1461.7,1236.2 1463.6,1237.1 1465.4,1238.7 1467.0,1237.3 1468.7,1237.2 1470.3,1238.0 1471.9,1236.8 1473.5,1237.0 1475.2,1236.7 1476.8,1238.2 1478.4,1236.8 1480.2,1238.0 1482.1,1238.9 1483.9,1241.8 1485.8,1243.1 1487.6,1243.3 1489.4,1244.5 1491.3,1243.8 1493.2,1246.3 1495.0,1246.0 1496.8,1244.0 1498.7,1243.0 1500.6,1241.1 1502.4,1238.7 1504.3,1241.5 1506.1,1244.2 1508.0,1246.0 1509.6,1246.1 1511.3,1244.5 1512.9,1243.9 1514.6,1242.3 1516.2,1242.3 1517.9,1242.8 1519.5,1241.2 1521.1,1241.5 1522.7,1243.7 1524.3,1244.8 1526.0,1244.3 1527.6,1246.7 1529.2,1247.0 1530.9,1246.5 1532.5,1246.4 1534.2,1244.1 1535.8,1244.1 1537.5,1243.5 1539.1,1241.5 1540.8,1240.2 1542.4,1239.7 1544.0,1239.5 1545.7,1238.3 1547.5,1239.3 1549.2,1242.2 1551.0,1242.4 1552.7,1245.1 1554.5,1246.0 1556.2,1245.2 1558.0,1245.3 1559.8,1245.8 1561.5,1244.4 1563.2,1244.4 1565.0,1243.3 1566.8,1243.3 1568.5,1241.9 1570.2,1242.6 1572.0,1242.2 1573.8,1242.9 1575.5,1243.3 1577.2,1243.8 1579.0,1244.9 1580.8,1245.6 1582.5,1246.6 1584.2,1248.4 1586.0,1249.4 1587.8,1250.2 1589.5,1250.0 1591.1,1249.9 1592.7,1251.1 1594.3,1250.4 1595.9,1251.4 1597.5,1249.4 1599.1,1251.0 1600.7,1250.6 1602.3,1250.5 1604.0,1251.1 1605.6,1251.4 1607.2,1251.4 1608.8,1250.3 1610.4,1250.5 1612.0,1251.1 1613.6,1249.8 1615.2,1251.7 1616.8,1251.0 1618.5,1250.9 1620.2,1250.2 1621.8,1250.3 1623.5,1250.8 1625.2,1250.1 1626.9,1249.4 1628.6,1248.0 1630.2,1249.5 1631.9,1247.7 1633.6,1248.6 1635.3,1247.3 1637.0,1247.4 1638.6,1247.6 1640.3,1245.3 1642.0,1246.0 1643.7,1246.0 1645.4,1246.2 1647.1,1246.4 1648.8,1247.6 1650.6,1249.5 1652.3,1248.4 1654.0,1248.6 1655.7,1250.0 1657.4,1251.3 1659.1,1250.4 1660.8,1250.5 1662.4,1251.2 1664.1,1251.7 1665.8,1250.5 1667.5,1250.6 1669.2,1251.4 1670.9,1252.6 1672.6,1253.0 1674.3,1251.4 1675.9,1252.8 1677.6,1252.4 1679.3,1253.6 1681.0,1252.9 1682.6,1252.6 1684.3,1252.6 1685.9,1252.2 1687.6,1254.4 1689.2,1252.8 1690.9,1253.2 1692.5,1253.3 1694.2,1255.1 1695.8,1253.2 1697.5,1254.0 1699.1,1254.9 1700.8,1253.9 1702.4,1254.8 1704.0,1254.5 1705.7,1253.6 1707.3,1252.1 1709.0,1253.0 1710.6,1251.8 1712.3,1251.0 1713.9,1252.3 1715.6,1251.4 1717.2,1250.0 1718.9,1249.1 1720.5,1247.9 1722.2,1249.1 1723.8,1248.0 1725.5,1247.8 1727.1,1248.7 1728.8,1249.4 1730.5,1250.0 1732.2,1248.9 1733.8,1249.1 1735.5,1251.1 1737.2,1249.7 1738.8,1250.9 1740.5,1250.4 1742.2,1251.1 1743.9,1251.5 1745.5,1253.4 1747.2,1252.9 1748.9,1253.0 1750.7,1251.4 1752.4,1251.8 1754.1,1251.2 1755.9,1249.8 1757.6,1250.0 1759.3,1250.5 1761.1,1248.5 1762.8,1249.0 1764.4,1247.7 1766.0,1247.4 1767.7,1245.9 1769.3,1247.1 1770.9,1245.5 1772.5,1245.4 1774.1,1244.5 1775.7,1244.5 1777.3,1243.5 1779.0,1242.3 1780.6,1240.9 1782.2,1241.2 1783.9,1241.7 1785.7,1241.3 1787.4,1242.1 1789.1,1244.6 1790.9,1244.5 1792.6,1245.8 1794.3,1246.3 1796.1,1246.4 1797.8,1247.0 1799.5,1247.6 1801.1,1248.3 1802.8,1248.4 1804.4,1246.8 1806.1,1248.5 1807.7,1247.5 1809.4,1247.0 1811.0,1247.6 1812.7,1248.1 1814.3,1248.9 1816.0,1249.1 1817.7,1248.3 1819.3,1249.0 1821.0,1248.5 1822.6,1247.5 1824.3,1248.4 1825.9,1249.2 1827.6,1249.4 1829.2,1249.3 1830.9,1249.0 1832.5,1247.3 1834.2,1248.4 1835.8,1248.6 1837.5,1246.2 1839.1,1246.9 1840.8,1245.1 1842.4,1246.0 1844.1,1245.9 1845.7,1243.6 1847.4,1244.6 1849.0,1242.8 1850.7,1243.6 1852.3,1242.2 1854.0,1241.7 1855.8,1244.0 1857.5,1243.3 1859.3,1244.2 1861.0,1244.3 1862.8,1246.4 1864.5,1245.5 1866.3,1246.5 1868.0,1247.1 1869.8,1248.0 1871.5,1247.2 1873.1,1246.8 1874.8,1247.7 1876.5,1247.0 1878.2,1247.2 1879.8,1245.5 1881.5,1246.0" fill="none" stroke="#000" stroke-width="2.3" stroke-linejoin="round"/>
<g stroke="#000" fill="none">
<line x1="315.9" y1="54" x2="315.9" y2="1364" stroke-width="10.8"/>
<line x1="311" y1="1366.3" x2="1880" y2="1366.3" stroke-width="9.4"/>
<line x1="316.3" y1="1366" x2="316.3" y2="1395" stroke-width="8.6"/>
<line x1="511.7" y1="1366" x2="511.7" y2="1395" stroke-width="8.6"/>
<line x1="707.1" y1="1366" x2="707.1" y2="1395" stroke-width="8.6"/>
<line x1="902.4" y1="1366" x2="902.4" y2="1395" stroke-width="8.6"/>
<line x1="1097.8" y1="1366" x2="1097.8" y2="1395" stroke-width="8.6"/>
<line x1="1293.2" y1="1366" x2="1293.2" y2="1395" stroke-width="8.6"/>
<line x1="1488.6" y1="1366" x2="1488.6" y2="1395" stroke-width="8.6"/>
<line x1="1684.0" y1="1366" x2="1684.0" y2="1395" stroke-width="8.6"/>
<line x1="1879.3" y1="1366" x2="1879.3" y2="1395" stroke-width="8.6"/>
</g>
<g font-size="103" text-anchor="middle" fill="#000">
<text transform="translate(315.2,1514.8) scale(0.952,1)">10</text>
<text transform="translate(509.1,1514.8) scale(0.952,1)">20</text>
<text transform="translate(706.0,1514.8) scale(0.952,1)">30</text>
<text transform="translate(901.3,1514.8) scale(0.952,1)">40</text>
<text transform="translate(1096.7,1514.8) scale(0.952,1)">50</text>
<text transform="translate(1292.1,1514.8) scale(0.952,1)">60</text>
<text transform="translate(1487.5,1514.8) scale(0.952,1)">70</text>
<text transform="translate(1682.9,1514.8) scale(0.952,1)">80</text>
<text transform="translate(1878.2,1514.8) scale(0.952,1)">90</text>
<text transform="translate(1027,1643.4) scale(0.99,1)">2θ (degrees)</text>
<text transform="translate(215.8,850) rotate(-90) scale(0.99,1)">Relative Intensity (a.u.)</text>
</g>
<g font-size="94">
<text transform="translate(386,374.6) scale(0.973,1)" fill="#1b17ff">1200°C</text>
<text transform="translate(430,650.5) scale(0.967,1)" fill="#660666">500°C</text>
<text transform="translate(1630,1209.1) scale(0.982,1)" fill="#000">25°C</text>
</g>
<g stroke="#000" stroke-width="18" fill="none">
<path d="M818.2,110.1 l33.2,33.2 M818.2,143.3 l33.2,-33.2"/>
<path d="M940.9,305.4 l33.2,33.2 M940.9,338.6 l33.2,-33.2"/>
<path d="M1316.8,432.1 l33.2,33.2 M1316.8,465.3 l33.2,-33.2"/>
<path d="M1545.0,437.9 l33.2,33.2 M1545.0,471.1 l33.2,-33.2"/>
<path d="M1644.8,522.2 l33.2,33.2 M1644.8,555.4 l33.2,-33.2"/>
</g><g fill="#000">
<path d="M898.7,542.8 l21.5,21.5 l-21.5,21.5 l-21.5,-21.5z"/>
<path d="M1024.7,689.5 l21.5,21.5 l-21.5,21.5 l-21.5,-21.5z"/>
<path d="M1443.0,784.5 l21.5,21.5 l-21.5,21.5 l-21.5,-21.5z"/>
<path d="M1709.0,811.9 l21.5,21.5 l-21.5,21.5 l-21.5,-21.5z"/>
<path d="M1792.9,835.9 l21.5,21.5 l-21.5,21.5 l-21.5,-21.5z"/>
</g>
</svg></body></html>
